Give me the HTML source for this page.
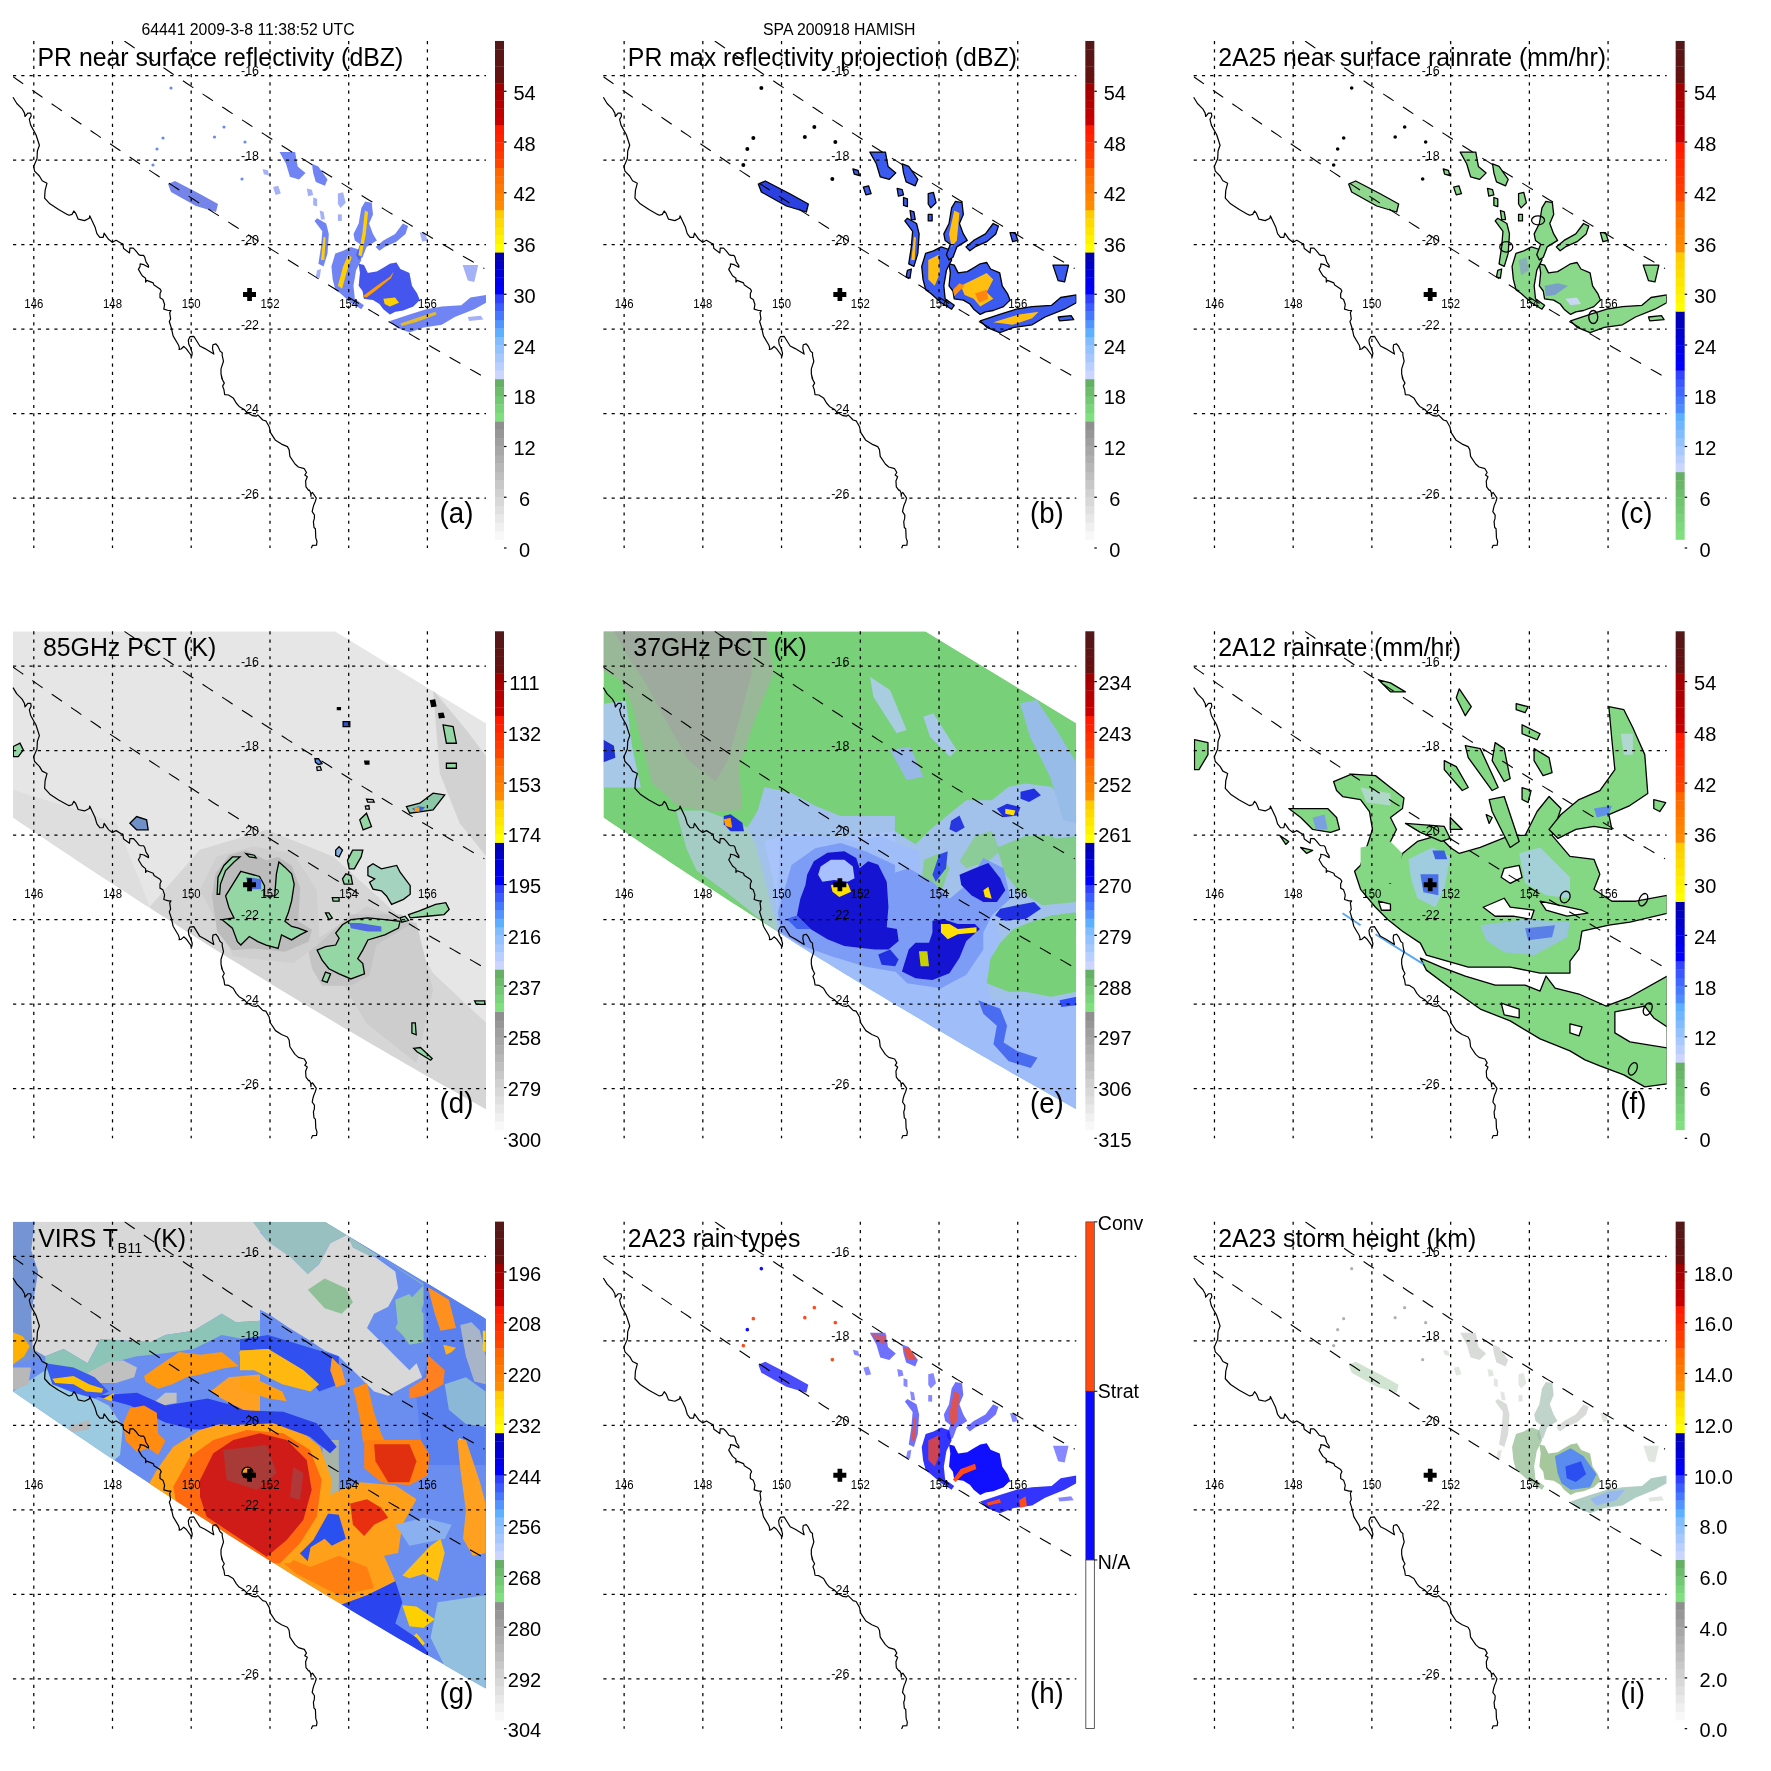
<!DOCTYPE html><html><head><meta charset="utf-8"><style>html,body{margin:0;padding:0;background:#fff;}svg{display:block;will-change:transform}</style></head><body>
<svg width="1771" height="1771" viewBox="0 0 1771 1771" font-family="Liberation Sans, sans-serif">
<defs><clipPath id="mclip"><rect x="13" y="41" width="473" height="507"/></clipPath></defs>
<rect width="1771" height="1771" fill="#fff"/>
<text x="141.5" y="35" font-size="15.8">64441 2009-3-8 11:38:52 UTC</text>
<text x="763" y="35" font-size="15.8">SPA 200918 HAMISH</text>
<g transform="translate(0.00,0.00)">
<g clip-path="url(#mclip)"><path d="M358.7,263.8 L363.9,265.1 L367.8,272.9 L376.9,271.6 L383.4,267.7 L389.9,263.8 L396.4,262.5 L400.3,269.0 L409.4,272.9 L411.9,285.8 L417.1,293.6 L419.7,300.1 L413.2,306.6 L402.9,310.5 L395.1,311.8 L389.9,314.4 L383.4,309.2 L379.5,304.0 L373.0,300.1 L363.9,298.8 L362.6,291.0 L358.7,285.8 L360.0,272.9Z" fill="#3a54f0" fill-opacity="0.72"/><path d="M331.4,266.4 L335.3,253.4 L343.1,250.8 L350.9,246.9 L358.7,249.5 L361.3,259.9 L356.1,270.3 L353.5,285.8 L354.8,298.8 L363.9,305.3 L361.3,309.2 L350.9,302.7 L340.5,293.6 L335.3,289.7 L332.7,279.4Z" fill="#3a54f0" fill-opacity="0.72"/><path d="M353.5,233.9 L358.7,223.5 L361.3,207.9 L365.2,201.4 L371.7,202.7 L373.0,214.4 L369.1,223.5 L373.0,233.9 L376.9,240.4 L366.5,246.9 L362.6,257.3 L358.7,259.9 L356.1,254.7 L360.0,244.3 L354.8,240.4Z" fill="#3a54f0" fill-opacity="0.72"/><path d="M375.6,246.9 L383.4,240.4 L395.1,233.9 L402.9,223.5 L408.1,226.1 L405.5,233.9 L396.4,241.7 L384.7,246.9 L379.5,250.8Z" fill="#3a54f0" fill-opacity="0.72"/><path d="M318.4,263.8 L321.0,246.9 L322.3,231.3 L314.5,220.9 L317.1,218.3 L326.2,223.5 L328.8,233.9 L327.5,253.4 L323.6,266.4Z" fill="#3a54f0" fill-opacity="0.72"/><path d="M389.9,320.9 L409.4,314.4 L426.2,309.2 L441.8,306.6 L461.3,305.3 L470.4,297.5 L486.0,294.9 L486.0,302.7 L474.3,309.2 L454.8,317.0 L441.8,324.8 L423.6,327.4 L409.4,332.6 L396.4,327.4Z" fill="#3a54f0" fill-opacity="0.72"/><path d="M279.5,152.1 L295.1,152.1 L297.7,166.4 L305.5,172.9 L299.0,179.4 L289.9,176.8 L286.0,163.8Z" fill="#3a54f0" fill-opacity="0.72"/><path d="M311.9,163.8 L318.4,166.4 L327.5,179.4 L324.9,185.8 L315.8,181.9 L313.2,172.9Z" fill="#3a54f0" fill-opacity="0.72"/><path d="M337.9,193.6 L343.1,192.3 L345.7,202.7 L340.5,207.9 L337.9,204.0Z" fill="#4a64f0" fill-opacity="0.5"/><path d="M273.0,187.1 L278.2,185.8 L280.8,193.6 L275.6,194.9Z" fill="#4a64f0" fill-opacity="0.5"/><path d="M419.7,232.6 L424.9,232.6 L427.5,240.4 L422.3,241.7Z" fill="#4a64f0" fill-opacity="0.5"/><path d="M306.8,188.4 L311.9,189.7 L313.2,194.9 L308.1,196.2Z" fill="#4a64f0" fill-opacity="0.5"/><path d="M313.2,197.5 L317.1,198.8 L317.1,206.6 L313.2,205.3Z" fill="#4a64f0" fill-opacity="0.5"/><path d="M337.9,214.4 L341.8,214.4 L341.8,220.9 L337.9,220.9Z" fill="#4a64f0" fill-opacity="0.5"/><path d="M319.7,210.5 L323.6,211.8 L324.9,219.6 L321.0,219.6Z" fill="#4a64f0" fill-opacity="0.5"/><path d="M462.6,265.1 L478.2,265.1 L474.3,281.9 L467.8,280.6Z" fill="#4a64f0" fill-opacity="0.5"/><path d="M317.1,270.3 L321.0,269.0 L319.7,278.1 L315.8,276.8Z" fill="#4a64f0" fill-opacity="0.5"/><path d="M467.8,317.0 L480.8,315.7 L483.4,319.6 L469.1,320.9Z" fill="#4a64f0" fill-opacity="0.5"/><path d="M262.6,169.0 L267.8,170.3 L269.1,175.5 L263.9,174.2Z" fill="#4a64f0" fill-opacity="0.5"/><path d="M168.0,184.0 L175.0,181.0 L200.0,194.0 L218.0,204.0 L216.0,212.0 L196.0,206.0 L171.0,192.0Z" fill="#3a50e0" fill-opacity="0.7"/><path d="M358.7,263.8 L363.9,265.1 L367.8,272.9 L376.9,271.6 L383.4,267.7 L389.9,263.8 L396.4,262.5 L400.3,269.0 L409.4,272.9 L411.9,285.8 L417.1,293.6 L419.7,300.1 L413.2,306.6 L402.9,310.5 L395.1,311.8 L389.9,314.4 L383.4,309.2 L379.5,304.0 L373.0,300.1 L363.9,298.8 L362.6,291.0 L358.7,285.8 L360.0,272.9Z" fill="#1a28e8" fill-opacity="0.5"/><path d="M337.9,285.8 L343.1,266.4 L348.3,254.7 L351.6,257.3 L346.4,272.9 L342.1,288.7Z" fill="#ffd000"/><path d="M358.4,255.3 L362.3,233.9 L364.9,210.5 L368.1,212.1 L365.8,233.9 L361.6,256.2Z" fill="#ffd000"/><path d="M321.0,259.9 L323.6,236.5 L325.6,237.8 L324.3,259.9Z" fill="#ffd000"/><path d="M362.6,296.2 L376.9,285.8 L389.9,276.8 L393.8,271.6 L391.2,278.1 L376.9,289.7 L366.5,297.5Z" fill="#ff9a00"/><path d="M383.4,298.8 L395.1,297.5 L399.0,302.7 L389.9,306.6 L384.7,304.0Z" fill="#ffd000"/><path d="M400.3,323.5 L415.8,318.3 L435.3,311.8 L436.6,314.4 L415.8,322.2 L401.6,326.1Z" fill="#ffc800" fill-opacity="0.8"/><circle cx="163.0" cy="138.0" r="1.6" fill="#6a8af0"/><circle cx="157.0" cy="149.0" r="1.6" fill="#6a8af0"/><circle cx="153.0" cy="165.0" r="1.6" fill="#6a8af0"/><circle cx="214.5" cy="137.0" r="1.6" fill="#6a8af0"/><circle cx="242.0" cy="179.0" r="1.6" fill="#6a8af0"/><circle cx="245.0" cy="142.0" r="1.6" fill="#6a8af0"/><circle cx="171.0" cy="88.0" r="1.6" fill="#6a8af0"/><circle cx="224.0" cy="127.0" r="1.6" fill="#6a8af0"/></g>
<g stroke="#000" stroke-width="1.25" stroke-dasharray="3.2 5.07"><line x1="33.8" y1="41" x2="33.8" y2="548"/><line x1="112.5" y1="41" x2="112.5" y2="548"/><line x1="191.2" y1="41" x2="191.2" y2="548"/><line x1="270.0" y1="41" x2="270.0" y2="548"/><line x1="348.7" y1="41" x2="348.7" y2="548"/><line x1="427.4" y1="41" x2="427.4" y2="548"/><line x1="13" y1="75.7" x2="486" y2="75.7"/><line x1="13" y1="160.2" x2="486" y2="160.2"/><line x1="13" y1="244.7" x2="486" y2="244.7"/><line x1="13" y1="329.2" x2="486" y2="329.2"/><line x1="13" y1="413.7" x2="486" y2="413.7"/><line x1="13" y1="498.2" x2="486" y2="498.2"/></g><g clip-path="url(#mclip)" fill="none" stroke="#000" stroke-width="1.1" stroke-dasharray="12.5 11.1"><path d="M124.4,41.0 L128.4,43.8 L132.4,46.5 L136.4,49.3 L140.4,52.0 L144.4,54.8 L148.4,57.5 L152.4,60.2 L156.4,62.9 L160.4,65.6 L164.4,68.3 L168.4,71.0 L172.4,73.7 L176.4,76.4 L180.4,79.1 L184.4,81.8 L188.4,84.5 L192.4,87.1 L196.4,89.8 L200.4,92.5 L204.4,95.1 L208.4,97.8 L212.4,100.4 L216.4,103.1 L220.4,105.7 L224.4,108.3 L228.4,111.0 L232.4,113.6 L236.4,116.2 L240.4,118.8 L244.4,121.4 L248.4,124.0 L252.4,126.6 L256.4,129.2 L260.4,131.8 L264.4,134.4 L268.4,137.0 L272.4,139.5 L276.4,142.1 L280.4,144.6 L284.4,147.2 L288.4,149.8 L292.4,152.3 L296.4,154.8 L300.4,157.4 L304.4,159.9 L308.4,162.4 L312.4,164.9 L316.4,167.5 L320.4,170.0 L324.4,172.5 L328.4,175.0 L332.4,177.5 L336.4,180.0 L340.4,182.4 L344.4,184.9 L348.4,187.4 L352.4,189.9 L356.4,192.3 L360.4,194.8 L364.4,197.3 L368.4,199.7 L372.4,202.1 L376.4,204.6 L380.4,207.0 L384.4,209.4 L388.4,211.9 L392.4,214.3 L396.4,216.7 L400.4,219.1 L404.4,221.5 L408.4,223.9 L412.4,226.3 L416.4,228.7 L420.4,231.1 L424.4,233.5 L428.4,235.8 L432.4,238.2 L436.4,240.6 L440.4,242.9 L444.4,245.3 L448.4,247.6 L452.4,250.0 L456.4,252.3 L460.4,254.6 L464.4,257.0 L468.4,259.3 L472.4,261.6 L476.4,263.9 L480.4,266.2 L484.4,268.5"/><path d="M13.0,76.7 L17.0,79.5 L21.0,82.3 L25.0,85.1 L29.0,87.9 L33.0,90.7 L37.0,93.5 L41.0,96.3 L45.0,99.1 L49.0,101.9 L53.0,104.7 L57.0,107.4 L61.0,110.2 L65.0,113.0 L69.0,115.7 L73.0,118.5 L77.0,121.2 L81.0,124.0 L85.0,126.7 L89.0,129.5 L93.0,132.2 L97.0,134.9 L101.0,137.7 L105.0,140.4 L109.0,143.1 L113.0,145.8 L117.0,148.5 L121.0,151.2 L125.0,153.9 L129.0,156.6 L133.0,159.3 L137.0,162.0 L141.0,164.6 L145.0,167.3 L149.0,170.0 L153.0,172.6 L157.0,175.3 L161.0,178.0 L165.0,180.6 L169.0,183.3 L173.0,185.9 L177.0,188.5 L181.0,191.2 L185.0,193.8 L189.0,196.4 L193.0,199.0 L197.0,201.6 L201.0,204.3 L205.0,206.9 L209.0,209.5 L213.0,212.1 L217.0,214.6 L221.0,217.2 L225.0,219.8 L229.0,222.4 L233.0,225.0 L237.0,227.5 L241.0,230.1 L245.0,232.6 L249.0,235.2 L253.0,237.7 L257.0,240.3 L261.0,242.8 L265.0,245.4 L269.0,247.9 L273.0,250.4 L277.0,252.9 L281.0,255.5 L285.0,258.0 L289.0,260.5 L293.0,263.0 L297.0,265.5 L301.0,268.0 L305.0,270.5 L309.0,272.9 L313.0,275.4 L317.0,277.9 L321.0,280.4 L325.0,282.8 L329.0,285.3 L333.0,287.8 L337.0,290.2 L341.0,292.6 L345.0,295.1 L349.0,297.5 L353.0,300.0 L357.0,302.4 L361.0,304.8 L365.0,307.2 L369.0,309.7 L373.0,312.1 L377.0,314.5 L381.0,316.9 L385.0,319.3 L389.0,321.7 L393.0,324.0 L397.0,326.4 L401.0,328.8 L405.0,331.2 L409.0,333.5 L413.0,335.9 L417.0,338.3 L421.0,340.6 L425.0,343.0 L429.0,345.3 L433.0,347.7 L437.0,350.0 L441.0,352.3 L445.0,354.7 L449.0,357.0 L453.0,359.3 L457.0,361.6 L461.0,363.9 L465.0,366.2 L469.0,368.5 L473.0,370.8 L477.0,373.1 L481.0,375.4 L485.0,377.7"/></g><path d="M13.0,97.3 L16.8,103.5 L22.1,108.8 L24.5,113.1 L25.0,116.5 L27.8,113.1 L30.7,113.1 L31.2,116.0 L29.3,119.4 L30.7,125.1 L36.0,134.7 L39.4,145.3 L37.4,151.0 L37.0,158.7 L33.6,166.4 L34.6,171.2 L39.4,176.0 L42.2,180.8 L47.0,183.2 L45.1,190.4 L44.6,198.1 L49.9,203.8 L58.6,209.6 L67.2,214.4 L69.1,215.3 L72.0,214.4 L73.9,211.0 L75.8,213.4 L78.2,219.2 L84.5,220.6 L89.3,218.2 L89.7,215.8 L95.0,226.9 L96.9,233.6 L99.8,237.4 L103.2,237.4 L104.1,233.1 L108.5,239.3 L112.3,242.2 L116.1,240.3 L122.4,244.1 L122.7,243.6 L123.6,248.6 L129.5,252.9 L129.9,248.2 L133.3,248.2 L135.4,250.3 L137.1,252.4 L138.8,254.6 L140.5,255.4 L143.5,255.4 L144.7,257.1 L146.0,261.8 L148.5,265.6 L148.5,267.3 L143.9,264.7 L140.1,263.9 L140.1,266.4 L138.4,269.4 L142.2,275.7 L145.6,278.3 L145.6,282.1 L146.8,280.4 L153.2,282.9 L154.0,285.1 L160.0,288.9 L161.2,291.0 L160.0,293.5 L160.0,297.8 L162.9,299.5 L164.6,304.5 L163.8,309.2 L168.4,310.5 L171.0,310.5 L169.7,312.6 L170.6,318.9 L169.3,321.5 L171.4,328.2 L173.1,335.9 L178.6,345.2 L179.5,348.6 L179.0,349.4 L181.1,349.0 L183.7,346.5 L186.2,348.6 L190.5,354.5 L191.7,356.2 L192.2,353.2 L190.9,348.6 L188.8,344.3 L188.3,340.1 L190.0,336.7 L193.8,336.3 L199.8,346.0 L204.9,348.6 L213.8,354.1 L212.5,348.6 L212.9,344.8 L215.9,343.9 L218.0,346.5 L220.1,351.1 L222.2,352.8 L222.2,355.3 L223.5,361.3 L221.0,368.9 L221.0,374.0 L222.6,380.0 L221.3,375.1 L221.8,378.5 L224.3,383.1 L222.6,386.1 L223.9,389.5 L224.7,394.6 L228.5,395.0 L233.2,397.9 L236.2,403.0 L239.1,406.4 L244.2,409.4 L246.7,412.3 L252.7,415.7 L256.1,416.2 L257.8,414.9 L262.8,420.0 L265.8,420.8 L269.2,426.7 L270.5,432.7 L275.5,440.3 L281.5,444.1 L287.4,446.6 L289.1,449.6 L289.9,456.4 L295.0,464.0 L298.4,467.0 L304.3,468.7 L306.5,472.5 L304.8,475.0 L307.3,476.7 L305.6,481.0 L306.0,486.9 L308.6,490.3 L309.3,490.0 L310.7,492.7 L310.9,496.3 L311.1,493.6 L312.5,492.5 L316.3,498.1 L315.2,501.7 L313.8,504.9 L312.9,508.1 L312.2,511.7 L314.5,515.1 L314.3,518.9 L313.4,521.6 L314.0,527.5 L315.4,528.8 L315.8,537.9 L317.0,541.5 L316.5,545.1 L312.5,545.3 L311.3,548.3" fill="none" stroke="#000" stroke-width="1.2" stroke-linejoin="round"/><g font-size="12.5"><text x="250" y="75.2" text-anchor="middle" textLength="18" lengthAdjust="spacingAndGlyphs">-16</text><text x="250" y="159.7" text-anchor="middle" textLength="18" lengthAdjust="spacingAndGlyphs">-18</text><text x="250" y="244.2" text-anchor="middle" textLength="18" lengthAdjust="spacingAndGlyphs">-20</text><text x="250" y="328.7" text-anchor="middle" textLength="18" lengthAdjust="spacingAndGlyphs">-22</text><text x="250" y="413.2" text-anchor="middle" textLength="18" lengthAdjust="spacingAndGlyphs">-24</text><text x="250" y="497.7" text-anchor="middle" textLength="18" lengthAdjust="spacingAndGlyphs">-26</text><text x="33.8" y="308" text-anchor="middle" textLength="19" lengthAdjust="spacingAndGlyphs">146</text><text x="112.5" y="308" text-anchor="middle" textLength="19" lengthAdjust="spacingAndGlyphs">148</text><text x="191.2" y="308" text-anchor="middle" textLength="19" lengthAdjust="spacingAndGlyphs">150</text><text x="270.0" y="308" text-anchor="middle" textLength="19" lengthAdjust="spacingAndGlyphs">152</text><text x="348.7" y="308" text-anchor="middle" textLength="19" lengthAdjust="spacingAndGlyphs">154</text><text x="427.4" y="308" text-anchor="middle" textLength="19" lengthAdjust="spacingAndGlyphs">156</text></g>
<path d="M243,292 h13 v5 h-13z M247.2,288 h4.7 v13 h-4.7z" fill="#000"/>
<text x="37.5" y="66" font-size="26" textLength="365.7" lengthAdjust="spacingAndGlyphs">PR near surface reflectivity (dBZ)</text>
<text x="439.6" y="522.5" font-size="29" textLength="33.8" lengthAdjust="spacingAndGlyphs">(a)</text>
<rect x="495" y="531.05" width="9" height="8.75" fill="#f8f8f8"/>
<rect x="495" y="522.60" width="9" height="8.75" fill="#f0f0f0"/>
<rect x="495" y="514.15" width="9" height="8.75" fill="#e8e8e8"/>
<rect x="495" y="505.70" width="9" height="8.75" fill="#e0e0e0"/>
<rect x="495" y="497.25" width="9" height="8.75" fill="#d8d8d8"/>
<rect x="495" y="488.80" width="9" height="8.75" fill="#d0d0d0"/>
<rect x="495" y="480.35" width="9" height="8.75" fill="#c8c8c8"/>
<rect x="495" y="471.90" width="9" height="8.75" fill="#bfbfbf"/>
<rect x="495" y="463.45" width="9" height="8.75" fill="#b7b7b7"/>
<rect x="495" y="455.00" width="9" height="8.75" fill="#afafaf"/>
<rect x="495" y="446.55" width="9" height="8.75" fill="#a7a7a7"/>
<rect x="495" y="438.10" width="9" height="8.75" fill="#9f9f9f"/>
<rect x="495" y="429.65" width="9" height="8.75" fill="#979797"/>
<rect x="495" y="421.20" width="9" height="8.75" fill="#8f8f8f"/>
<rect x="495" y="412.75" width="9" height="8.75" fill="#80e080"/>
<rect x="495" y="404.30" width="9" height="8.75" fill="#7ad47a"/>
<rect x="495" y="395.85" width="9" height="8.75" fill="#73c873"/>
<rect x="495" y="387.40" width="9" height="8.75" fill="#6cbc6c"/>
<rect x="495" y="378.95" width="9" height="8.75" fill="#66b066"/>
<rect x="495" y="370.50" width="9" height="8.75" fill="#ccd5ff"/>
<rect x="495" y="362.05" width="9" height="8.75" fill="#b9cfff"/>
<rect x="495" y="353.60" width="9" height="8.75" fill="#a6c8ff"/>
<rect x="495" y="345.15" width="9" height="8.75" fill="#93c2ff"/>
<rect x="495" y="336.70" width="9" height="8.75" fill="#80bcff"/>
<rect x="495" y="328.25" width="9" height="8.75" fill="#5cb0ff"/>
<rect x="495" y="319.80" width="9" height="8.75" fill="#5194ff"/>
<rect x="495" y="311.35" width="9" height="8.75" fill="#4678ff"/>
<rect x="495" y="302.90" width="9" height="8.75" fill="#3b5cff"/>
<rect x="495" y="294.45" width="9" height="8.75" fill="#3040ff"/>
<rect x="495" y="286.00" width="9" height="8.75" fill="#0000ff"/>
<rect x="495" y="277.55" width="9" height="8.75" fill="#0000ec"/>
<rect x="495" y="269.10" width="9" height="8.75" fill="#0000d9"/>
<rect x="495" y="260.65" width="9" height="8.75" fill="#0000c6"/>
<rect x="495" y="252.20" width="9" height="8.75" fill="#0000b3"/>
<rect x="495" y="243.75" width="9" height="8.75" fill="#ffff00"/>
<rect x="495" y="235.30" width="9" height="8.75" fill="#fff200"/>
<rect x="495" y="226.85" width="9" height="8.75" fill="#ffe600"/>
<rect x="495" y="218.40" width="9" height="8.75" fill="#ffd900"/>
<rect x="495" y="209.95" width="9" height="8.75" fill="#ffcc00"/>
<rect x="495" y="201.50" width="9" height="8.75" fill="#ff8c00"/>
<rect x="495" y="193.05" width="9" height="8.75" fill="#ff8200"/>
<rect x="495" y="184.60" width="9" height="8.75" fill="#ff7900"/>
<rect x="495" y="176.15" width="9" height="8.75" fill="#ff7000"/>
<rect x="495" y="167.70" width="9" height="8.75" fill="#ff6600"/>
<rect x="495" y="159.25" width="9" height="8.75" fill="#ff4400"/>
<rect x="495" y="150.80" width="9" height="8.75" fill="#ff3a00"/>
<rect x="495" y="142.35" width="9" height="8.75" fill="#ff2f00"/>
<rect x="495" y="133.90" width="9" height="8.75" fill="#ff2400"/>
<rect x="495" y="125.45" width="9" height="8.75" fill="#ff1a00"/>
<rect x="495" y="117.00" width="9" height="8.75" fill="#c80000"/>
<rect x="495" y="108.55" width="9" height="8.75" fill="#be0000"/>
<rect x="495" y="100.10" width="9" height="8.75" fill="#b40000"/>
<rect x="495" y="91.65" width="9" height="8.75" fill="#aa0000"/>
<rect x="495" y="83.20" width="9" height="8.75" fill="#a00000"/>
<rect x="495" y="74.75" width="9" height="8.75" fill="#661010"/>
<rect x="495" y="66.30" width="9" height="8.75" fill="#621212"/>
<rect x="495" y="57.85" width="9" height="8.75" fill="#5e1414"/>
<rect x="495" y="49.40" width="9" height="8.75" fill="#591616"/>
<rect x="495" y="40.95" width="9" height="8.75" fill="#551818"/>
<rect x="504" y="547.40" width="2.5" height="1.2" fill="#000"/>
<text x="524.5" y="556.60" text-anchor="middle" font-size="20">0</text>
<rect x="504" y="496.65" width="2.5" height="1.2" fill="#000"/>
<text x="524.5" y="505.85" text-anchor="middle" font-size="20">6</text>
<rect x="504" y="445.90" width="2.5" height="1.2" fill="#000"/>
<text x="524.5" y="455.10" text-anchor="middle" font-size="20">12</text>
<rect x="504" y="395.16" width="2.5" height="1.2" fill="#000"/>
<text x="524.5" y="404.36" text-anchor="middle" font-size="20">18</text>
<rect x="504" y="344.41" width="2.5" height="1.2" fill="#000"/>
<text x="524.5" y="353.61" text-anchor="middle" font-size="20">24</text>
<rect x="504" y="293.66" width="2.5" height="1.2" fill="#000"/>
<text x="524.5" y="302.86" text-anchor="middle" font-size="20">30</text>
<rect x="504" y="242.91" width="2.5" height="1.2" fill="#000"/>
<text x="524.5" y="252.11" text-anchor="middle" font-size="20">36</text>
<rect x="504" y="192.16" width="2.5" height="1.2" fill="#000"/>
<text x="524.5" y="201.36" text-anchor="middle" font-size="20">42</text>
<rect x="504" y="141.42" width="2.5" height="1.2" fill="#000"/>
<text x="524.5" y="150.62" text-anchor="middle" font-size="20">48</text>
<rect x="504" y="90.67" width="2.5" height="1.2" fill="#000"/>
<text x="524.5" y="99.87" text-anchor="middle" font-size="20">54</text>
</g>
<g transform="translate(590.33,0.00)">
<g clip-path="url(#mclip)"><path d="M358.7,263.8 L363.9,265.1 L367.8,272.9 L376.9,271.6 L383.4,267.7 L389.9,263.8 L396.4,262.5 L400.3,269.0 L409.4,272.9 L411.9,285.8 L417.1,293.6 L419.7,300.1 L413.2,306.6 L402.9,310.5 L395.1,311.8 L389.9,314.4 L383.4,309.2 L379.5,304.0 L373.0,300.1 L363.9,298.8 L362.6,291.0 L358.7,285.8 L360.0,272.9Z" fill="#3a5af0" stroke="#000" stroke-width="1.3" stroke-linejoin="round"/><path d="M331.4,266.4 L335.3,253.4 L343.1,250.8 L350.9,246.9 L358.7,249.5 L361.3,259.9 L356.1,270.3 L353.5,285.8 L354.8,298.8 L363.9,305.3 L361.3,309.2 L350.9,302.7 L340.5,293.6 L335.3,289.7 L332.7,279.4Z" fill="#3a5af0" stroke="#000" stroke-width="1.3" stroke-linejoin="round"/><path d="M353.5,233.9 L358.7,223.5 L361.3,207.9 L365.2,201.4 L371.7,202.7 L373.0,214.4 L369.1,223.5 L373.0,233.9 L376.9,240.4 L366.5,246.9 L362.6,257.3 L358.7,259.9 L356.1,254.7 L360.0,244.3 L354.8,240.4Z" fill="#3a5af0" stroke="#000" stroke-width="1.3" stroke-linejoin="round"/><path d="M375.6,246.9 L383.4,240.4 L395.1,233.9 L402.9,223.5 L408.1,226.1 L405.5,233.9 L396.4,241.7 L384.7,246.9 L379.5,250.8Z" fill="#3a5af0" stroke="#000" stroke-width="1.3" stroke-linejoin="round"/><path d="M318.4,263.8 L321.0,246.9 L322.3,231.3 L314.5,220.9 L317.1,218.3 L326.2,223.5 L328.8,233.9 L327.5,253.4 L323.6,266.4Z" fill="#3a5af0" stroke="#000" stroke-width="1.3" stroke-linejoin="round"/><path d="M389.9,320.9 L409.4,314.4 L426.2,309.2 L441.8,306.6 L461.3,305.3 L470.4,297.5 L486.0,294.9 L486.0,302.7 L474.3,309.2 L454.8,317.0 L441.8,324.8 L423.6,327.4 L409.4,332.6 L396.4,327.4Z" fill="#3a5af0" stroke="#000" stroke-width="1.3" stroke-linejoin="round"/><path d="M279.5,152.1 L295.1,152.1 L297.7,166.4 L305.5,172.9 L299.0,179.4 L289.9,176.8 L286.0,163.8Z" fill="#3a5af0" stroke="#000" stroke-width="1.3" stroke-linejoin="round"/><path d="M311.9,163.8 L318.4,166.4 L327.5,179.4 L324.9,185.8 L315.8,181.9 L313.2,172.9Z" fill="#3a5af0" stroke="#000" stroke-width="1.3" stroke-linejoin="round"/><path d="M337.9,193.6 L343.1,192.3 L345.7,202.7 L340.5,207.9 L337.9,204.0Z" fill="#3a5af0" stroke="#000" stroke-width="1.3" stroke-linejoin="round"/><path d="M273.0,187.1 L278.2,185.8 L280.8,193.6 L275.6,194.9Z" fill="#3a5af0" stroke="#000" stroke-width="1.3" stroke-linejoin="round"/><path d="M419.7,232.6 L424.9,232.6 L427.5,240.4 L422.3,241.7Z" fill="#3a5af0" stroke="#000" stroke-width="1.3" stroke-linejoin="round"/><path d="M306.8,188.4 L311.9,189.7 L313.2,194.9 L308.1,196.2Z" fill="#3a5af0" stroke="#000" stroke-width="1.3" stroke-linejoin="round"/><path d="M313.2,197.5 L317.1,198.8 L317.1,206.6 L313.2,205.3Z" fill="#3a5af0" stroke="#000" stroke-width="1.3" stroke-linejoin="round"/><path d="M337.9,214.4 L341.8,214.4 L341.8,220.9 L337.9,220.9Z" fill="#3a5af0" stroke="#000" stroke-width="1.3" stroke-linejoin="round"/><path d="M319.7,210.5 L323.6,211.8 L324.9,219.6 L321.0,219.6Z" fill="#3a5af0" stroke="#000" stroke-width="1.3" stroke-linejoin="round"/><path d="M462.6,265.1 L478.2,265.1 L474.3,281.9 L467.8,280.6Z" fill="#3a5af0" stroke="#000" stroke-width="1.3" stroke-linejoin="round"/><path d="M317.1,270.3 L321.0,269.0 L319.7,278.1 L315.8,276.8Z" fill="#3a5af0" stroke="#000" stroke-width="1.3" stroke-linejoin="round"/><path d="M467.8,317.0 L480.8,315.7 L483.4,319.6 L469.1,320.9Z" fill="#3a5af0" stroke="#000" stroke-width="1.3" stroke-linejoin="round"/><path d="M262.6,169.0 L267.8,170.3 L269.1,175.5 L263.9,174.2Z" fill="#3a5af0" stroke="#000" stroke-width="1.3" stroke-linejoin="round"/><path d="M168.0,184.0 L175.0,181.0 L200.0,194.0 L218.0,204.0 L216.0,212.0 L196.0,206.0 L171.0,192.0Z" fill="#2a40e0" stroke="#000" stroke-width="1.3" stroke-linejoin="round"/><path d="M370.4,285.8 L383.4,279.4 L396.4,272.9 L402.9,279.4 L396.4,292.3 L402.9,298.8 L389.9,306.6 L383.4,298.8 L374.3,294.9Z" fill="#ffbe10"/><path d="M337.9,259.9 L348.3,254.7 L349.6,272.9 L344.4,285.8 L337.9,279.4Z" fill="#ffbe10"/><path d="M358.7,233.9 L363.9,210.5 L369.1,213.1 L366.5,240.4 L361.3,246.9Z" fill="#ffbe10"/><path d="M402.9,322.2 L428.8,314.4 L448.3,311.8 L441.8,318.3 L422.3,324.8Z" fill="#ffbe10"/><path d="M321.0,259.9 L323.6,236.5 L325.6,237.8 L324.3,259.9Z" fill="#ffbe10"/><path d="M384.7,293.6 L396.4,289.7 L397.7,298.8 L388.6,302.7Z" fill="#ff8410"/><path d="M363.9,296.2 L374.3,285.8 L369.1,283.2 L362.6,289.7Z" fill="#ff9010"/><circle cx="163.0" cy="138.0" r="2.0" fill="#000"/><circle cx="157.0" cy="149.0" r="2.0" fill="#000"/><circle cx="153.0" cy="165.0" r="2.0" fill="#000"/><circle cx="214.5" cy="137.0" r="2.0" fill="#000"/><circle cx="242.0" cy="179.0" r="2.0" fill="#000"/><circle cx="245.0" cy="142.0" r="2.0" fill="#000"/><circle cx="171.0" cy="88.0" r="2.0" fill="#000"/><circle cx="224.0" cy="127.0" r="2.0" fill="#000"/></g>
<g stroke="#000" stroke-width="1.25" stroke-dasharray="3.2 5.07"><line x1="33.8" y1="41" x2="33.8" y2="548"/><line x1="112.5" y1="41" x2="112.5" y2="548"/><line x1="191.2" y1="41" x2="191.2" y2="548"/><line x1="270.0" y1="41" x2="270.0" y2="548"/><line x1="348.7" y1="41" x2="348.7" y2="548"/><line x1="427.4" y1="41" x2="427.4" y2="548"/><line x1="13" y1="75.7" x2="486" y2="75.7"/><line x1="13" y1="160.2" x2="486" y2="160.2"/><line x1="13" y1="244.7" x2="486" y2="244.7"/><line x1="13" y1="329.2" x2="486" y2="329.2"/><line x1="13" y1="413.7" x2="486" y2="413.7"/><line x1="13" y1="498.2" x2="486" y2="498.2"/></g><g clip-path="url(#mclip)" fill="none" stroke="#000" stroke-width="1.1" stroke-dasharray="12.5 11.1"><path d="M124.4,41.0 L128.4,43.8 L132.4,46.5 L136.4,49.3 L140.4,52.0 L144.4,54.8 L148.4,57.5 L152.4,60.2 L156.4,62.9 L160.4,65.6 L164.4,68.3 L168.4,71.0 L172.4,73.7 L176.4,76.4 L180.4,79.1 L184.4,81.8 L188.4,84.5 L192.4,87.1 L196.4,89.8 L200.4,92.5 L204.4,95.1 L208.4,97.8 L212.4,100.4 L216.4,103.1 L220.4,105.7 L224.4,108.3 L228.4,111.0 L232.4,113.6 L236.4,116.2 L240.4,118.8 L244.4,121.4 L248.4,124.0 L252.4,126.6 L256.4,129.2 L260.4,131.8 L264.4,134.4 L268.4,137.0 L272.4,139.5 L276.4,142.1 L280.4,144.6 L284.4,147.2 L288.4,149.8 L292.4,152.3 L296.4,154.8 L300.4,157.4 L304.4,159.9 L308.4,162.4 L312.4,164.9 L316.4,167.5 L320.4,170.0 L324.4,172.5 L328.4,175.0 L332.4,177.5 L336.4,180.0 L340.4,182.4 L344.4,184.9 L348.4,187.4 L352.4,189.9 L356.4,192.3 L360.4,194.8 L364.4,197.3 L368.4,199.7 L372.4,202.1 L376.4,204.6 L380.4,207.0 L384.4,209.4 L388.4,211.9 L392.4,214.3 L396.4,216.7 L400.4,219.1 L404.4,221.5 L408.4,223.9 L412.4,226.3 L416.4,228.7 L420.4,231.1 L424.4,233.5 L428.4,235.8 L432.4,238.2 L436.4,240.6 L440.4,242.9 L444.4,245.3 L448.4,247.6 L452.4,250.0 L456.4,252.3 L460.4,254.6 L464.4,257.0 L468.4,259.3 L472.4,261.6 L476.4,263.9 L480.4,266.2 L484.4,268.5"/><path d="M13.0,76.7 L17.0,79.5 L21.0,82.3 L25.0,85.1 L29.0,87.9 L33.0,90.7 L37.0,93.5 L41.0,96.3 L45.0,99.1 L49.0,101.9 L53.0,104.7 L57.0,107.4 L61.0,110.2 L65.0,113.0 L69.0,115.7 L73.0,118.5 L77.0,121.2 L81.0,124.0 L85.0,126.7 L89.0,129.5 L93.0,132.2 L97.0,134.9 L101.0,137.7 L105.0,140.4 L109.0,143.1 L113.0,145.8 L117.0,148.5 L121.0,151.2 L125.0,153.9 L129.0,156.6 L133.0,159.3 L137.0,162.0 L141.0,164.6 L145.0,167.3 L149.0,170.0 L153.0,172.6 L157.0,175.3 L161.0,178.0 L165.0,180.6 L169.0,183.3 L173.0,185.9 L177.0,188.5 L181.0,191.2 L185.0,193.8 L189.0,196.4 L193.0,199.0 L197.0,201.6 L201.0,204.3 L205.0,206.9 L209.0,209.5 L213.0,212.1 L217.0,214.6 L221.0,217.2 L225.0,219.8 L229.0,222.4 L233.0,225.0 L237.0,227.5 L241.0,230.1 L245.0,232.6 L249.0,235.2 L253.0,237.7 L257.0,240.3 L261.0,242.8 L265.0,245.4 L269.0,247.9 L273.0,250.4 L277.0,252.9 L281.0,255.5 L285.0,258.0 L289.0,260.5 L293.0,263.0 L297.0,265.5 L301.0,268.0 L305.0,270.5 L309.0,272.9 L313.0,275.4 L317.0,277.9 L321.0,280.4 L325.0,282.8 L329.0,285.3 L333.0,287.8 L337.0,290.2 L341.0,292.6 L345.0,295.1 L349.0,297.5 L353.0,300.0 L357.0,302.4 L361.0,304.8 L365.0,307.2 L369.0,309.7 L373.0,312.1 L377.0,314.5 L381.0,316.9 L385.0,319.3 L389.0,321.7 L393.0,324.0 L397.0,326.4 L401.0,328.8 L405.0,331.2 L409.0,333.5 L413.0,335.9 L417.0,338.3 L421.0,340.6 L425.0,343.0 L429.0,345.3 L433.0,347.7 L437.0,350.0 L441.0,352.3 L445.0,354.7 L449.0,357.0 L453.0,359.3 L457.0,361.6 L461.0,363.9 L465.0,366.2 L469.0,368.5 L473.0,370.8 L477.0,373.1 L481.0,375.4 L485.0,377.7"/></g><path d="M13.0,97.3 L16.8,103.5 L22.1,108.8 L24.5,113.1 L25.0,116.5 L27.8,113.1 L30.7,113.1 L31.2,116.0 L29.3,119.4 L30.7,125.1 L36.0,134.7 L39.4,145.3 L37.4,151.0 L37.0,158.7 L33.6,166.4 L34.6,171.2 L39.4,176.0 L42.2,180.8 L47.0,183.2 L45.1,190.4 L44.6,198.1 L49.9,203.8 L58.6,209.6 L67.2,214.4 L69.1,215.3 L72.0,214.4 L73.9,211.0 L75.8,213.4 L78.2,219.2 L84.5,220.6 L89.3,218.2 L89.7,215.8 L95.0,226.9 L96.9,233.6 L99.8,237.4 L103.2,237.4 L104.1,233.1 L108.5,239.3 L112.3,242.2 L116.1,240.3 L122.4,244.1 L122.7,243.6 L123.6,248.6 L129.5,252.9 L129.9,248.2 L133.3,248.2 L135.4,250.3 L137.1,252.4 L138.8,254.6 L140.5,255.4 L143.5,255.4 L144.7,257.1 L146.0,261.8 L148.5,265.6 L148.5,267.3 L143.9,264.7 L140.1,263.9 L140.1,266.4 L138.4,269.4 L142.2,275.7 L145.6,278.3 L145.6,282.1 L146.8,280.4 L153.2,282.9 L154.0,285.1 L160.0,288.9 L161.2,291.0 L160.0,293.5 L160.0,297.8 L162.9,299.5 L164.6,304.5 L163.8,309.2 L168.4,310.5 L171.0,310.5 L169.7,312.6 L170.6,318.9 L169.3,321.5 L171.4,328.2 L173.1,335.9 L178.6,345.2 L179.5,348.6 L179.0,349.4 L181.1,349.0 L183.7,346.5 L186.2,348.6 L190.5,354.5 L191.7,356.2 L192.2,353.2 L190.9,348.6 L188.8,344.3 L188.3,340.1 L190.0,336.7 L193.8,336.3 L199.8,346.0 L204.9,348.6 L213.8,354.1 L212.5,348.6 L212.9,344.8 L215.9,343.9 L218.0,346.5 L220.1,351.1 L222.2,352.8 L222.2,355.3 L223.5,361.3 L221.0,368.9 L221.0,374.0 L222.6,380.0 L221.3,375.1 L221.8,378.5 L224.3,383.1 L222.6,386.1 L223.9,389.5 L224.7,394.6 L228.5,395.0 L233.2,397.9 L236.2,403.0 L239.1,406.4 L244.2,409.4 L246.7,412.3 L252.7,415.7 L256.1,416.2 L257.8,414.9 L262.8,420.0 L265.8,420.8 L269.2,426.7 L270.5,432.7 L275.5,440.3 L281.5,444.1 L287.4,446.6 L289.1,449.6 L289.9,456.4 L295.0,464.0 L298.4,467.0 L304.3,468.7 L306.5,472.5 L304.8,475.0 L307.3,476.7 L305.6,481.0 L306.0,486.9 L308.6,490.3 L309.3,490.0 L310.7,492.7 L310.9,496.3 L311.1,493.6 L312.5,492.5 L316.3,498.1 L315.2,501.7 L313.8,504.9 L312.9,508.1 L312.2,511.7 L314.5,515.1 L314.3,518.9 L313.4,521.6 L314.0,527.5 L315.4,528.8 L315.8,537.9 L317.0,541.5 L316.5,545.1 L312.5,545.3 L311.3,548.3" fill="none" stroke="#000" stroke-width="1.2" stroke-linejoin="round"/><g font-size="12.5"><text x="250" y="75.2" text-anchor="middle" textLength="18" lengthAdjust="spacingAndGlyphs">-16</text><text x="250" y="159.7" text-anchor="middle" textLength="18" lengthAdjust="spacingAndGlyphs">-18</text><text x="250" y="244.2" text-anchor="middle" textLength="18" lengthAdjust="spacingAndGlyphs">-20</text><text x="250" y="328.7" text-anchor="middle" textLength="18" lengthAdjust="spacingAndGlyphs">-22</text><text x="250" y="413.2" text-anchor="middle" textLength="18" lengthAdjust="spacingAndGlyphs">-24</text><text x="250" y="497.7" text-anchor="middle" textLength="18" lengthAdjust="spacingAndGlyphs">-26</text><text x="33.8" y="308" text-anchor="middle" textLength="19" lengthAdjust="spacingAndGlyphs">146</text><text x="112.5" y="308" text-anchor="middle" textLength="19" lengthAdjust="spacingAndGlyphs">148</text><text x="191.2" y="308" text-anchor="middle" textLength="19" lengthAdjust="spacingAndGlyphs">150</text><text x="270.0" y="308" text-anchor="middle" textLength="19" lengthAdjust="spacingAndGlyphs">152</text><text x="348.7" y="308" text-anchor="middle" textLength="19" lengthAdjust="spacingAndGlyphs">154</text><text x="427.4" y="308" text-anchor="middle" textLength="19" lengthAdjust="spacingAndGlyphs">156</text></g>
<path d="M243,292 h13 v5 h-13z M247.2,288 h4.7 v13 h-4.7z" fill="#000"/>
<text x="37.5" y="66" font-size="26" textLength="389.1" lengthAdjust="spacingAndGlyphs">PR max reflectivity projection (dBZ)</text>
<text x="439.6" y="522.5" font-size="29" textLength="33.8" lengthAdjust="spacingAndGlyphs">(b)</text>
<rect x="495" y="531.05" width="9" height="8.75" fill="#f8f8f8"/>
<rect x="495" y="522.60" width="9" height="8.75" fill="#f0f0f0"/>
<rect x="495" y="514.15" width="9" height="8.75" fill="#e8e8e8"/>
<rect x="495" y="505.70" width="9" height="8.75" fill="#e0e0e0"/>
<rect x="495" y="497.25" width="9" height="8.75" fill="#d8d8d8"/>
<rect x="495" y="488.80" width="9" height="8.75" fill="#d0d0d0"/>
<rect x="495" y="480.35" width="9" height="8.75" fill="#c8c8c8"/>
<rect x="495" y="471.90" width="9" height="8.75" fill="#bfbfbf"/>
<rect x="495" y="463.45" width="9" height="8.75" fill="#b7b7b7"/>
<rect x="495" y="455.00" width="9" height="8.75" fill="#afafaf"/>
<rect x="495" y="446.55" width="9" height="8.75" fill="#a7a7a7"/>
<rect x="495" y="438.10" width="9" height="8.75" fill="#9f9f9f"/>
<rect x="495" y="429.65" width="9" height="8.75" fill="#979797"/>
<rect x="495" y="421.20" width="9" height="8.75" fill="#8f8f8f"/>
<rect x="495" y="412.75" width="9" height="8.75" fill="#80e080"/>
<rect x="495" y="404.30" width="9" height="8.75" fill="#7ad47a"/>
<rect x="495" y="395.85" width="9" height="8.75" fill="#73c873"/>
<rect x="495" y="387.40" width="9" height="8.75" fill="#6cbc6c"/>
<rect x="495" y="378.95" width="9" height="8.75" fill="#66b066"/>
<rect x="495" y="370.50" width="9" height="8.75" fill="#ccd5ff"/>
<rect x="495" y="362.05" width="9" height="8.75" fill="#b9cfff"/>
<rect x="495" y="353.60" width="9" height="8.75" fill="#a6c8ff"/>
<rect x="495" y="345.15" width="9" height="8.75" fill="#93c2ff"/>
<rect x="495" y="336.70" width="9" height="8.75" fill="#80bcff"/>
<rect x="495" y="328.25" width="9" height="8.75" fill="#5cb0ff"/>
<rect x="495" y="319.80" width="9" height="8.75" fill="#5194ff"/>
<rect x="495" y="311.35" width="9" height="8.75" fill="#4678ff"/>
<rect x="495" y="302.90" width="9" height="8.75" fill="#3b5cff"/>
<rect x="495" y="294.45" width="9" height="8.75" fill="#3040ff"/>
<rect x="495" y="286.00" width="9" height="8.75" fill="#0000ff"/>
<rect x="495" y="277.55" width="9" height="8.75" fill="#0000ec"/>
<rect x="495" y="269.10" width="9" height="8.75" fill="#0000d9"/>
<rect x="495" y="260.65" width="9" height="8.75" fill="#0000c6"/>
<rect x="495" y="252.20" width="9" height="8.75" fill="#0000b3"/>
<rect x="495" y="243.75" width="9" height="8.75" fill="#ffff00"/>
<rect x="495" y="235.30" width="9" height="8.75" fill="#fff200"/>
<rect x="495" y="226.85" width="9" height="8.75" fill="#ffe600"/>
<rect x="495" y="218.40" width="9" height="8.75" fill="#ffd900"/>
<rect x="495" y="209.95" width="9" height="8.75" fill="#ffcc00"/>
<rect x="495" y="201.50" width="9" height="8.75" fill="#ff8c00"/>
<rect x="495" y="193.05" width="9" height="8.75" fill="#ff8200"/>
<rect x="495" y="184.60" width="9" height="8.75" fill="#ff7900"/>
<rect x="495" y="176.15" width="9" height="8.75" fill="#ff7000"/>
<rect x="495" y="167.70" width="9" height="8.75" fill="#ff6600"/>
<rect x="495" y="159.25" width="9" height="8.75" fill="#ff4400"/>
<rect x="495" y="150.80" width="9" height="8.75" fill="#ff3a00"/>
<rect x="495" y="142.35" width="9" height="8.75" fill="#ff2f00"/>
<rect x="495" y="133.90" width="9" height="8.75" fill="#ff2400"/>
<rect x="495" y="125.45" width="9" height="8.75" fill="#ff1a00"/>
<rect x="495" y="117.00" width="9" height="8.75" fill="#c80000"/>
<rect x="495" y="108.55" width="9" height="8.75" fill="#be0000"/>
<rect x="495" y="100.10" width="9" height="8.75" fill="#b40000"/>
<rect x="495" y="91.65" width="9" height="8.75" fill="#aa0000"/>
<rect x="495" y="83.20" width="9" height="8.75" fill="#a00000"/>
<rect x="495" y="74.75" width="9" height="8.75" fill="#661010"/>
<rect x="495" y="66.30" width="9" height="8.75" fill="#621212"/>
<rect x="495" y="57.85" width="9" height="8.75" fill="#5e1414"/>
<rect x="495" y="49.40" width="9" height="8.75" fill="#591616"/>
<rect x="495" y="40.95" width="9" height="8.75" fill="#551818"/>
<rect x="504" y="547.40" width="2.5" height="1.2" fill="#000"/>
<text x="524.5" y="556.60" text-anchor="middle" font-size="20">0</text>
<rect x="504" y="496.65" width="2.5" height="1.2" fill="#000"/>
<text x="524.5" y="505.85" text-anchor="middle" font-size="20">6</text>
<rect x="504" y="445.90" width="2.5" height="1.2" fill="#000"/>
<text x="524.5" y="455.10" text-anchor="middle" font-size="20">12</text>
<rect x="504" y="395.16" width="2.5" height="1.2" fill="#000"/>
<text x="524.5" y="404.36" text-anchor="middle" font-size="20">18</text>
<rect x="504" y="344.41" width="2.5" height="1.2" fill="#000"/>
<text x="524.5" y="353.61" text-anchor="middle" font-size="20">24</text>
<rect x="504" y="293.66" width="2.5" height="1.2" fill="#000"/>
<text x="524.5" y="302.86" text-anchor="middle" font-size="20">30</text>
<rect x="504" y="242.91" width="2.5" height="1.2" fill="#000"/>
<text x="524.5" y="252.11" text-anchor="middle" font-size="20">36</text>
<rect x="504" y="192.16" width="2.5" height="1.2" fill="#000"/>
<text x="524.5" y="201.36" text-anchor="middle" font-size="20">42</text>
<rect x="504" y="141.42" width="2.5" height="1.2" fill="#000"/>
<text x="524.5" y="150.62" text-anchor="middle" font-size="20">48</text>
<rect x="504" y="90.67" width="2.5" height="1.2" fill="#000"/>
<text x="524.5" y="99.87" text-anchor="middle" font-size="20">54</text>
</g>
<g transform="translate(1180.67,0.00)">
<g clip-path="url(#mclip)"><path d="M358.7,263.8 L363.9,265.1 L367.8,272.9 L376.9,271.6 L383.4,267.7 L389.9,263.8 L396.4,262.5 L400.3,269.0 L409.4,272.9 L411.9,285.8 L417.1,293.6 L419.7,300.1 L413.2,306.6 L402.9,310.5 L395.1,311.8 L389.9,314.4 L383.4,309.2 L379.5,304.0 L373.0,300.1 L363.9,298.8 L362.6,291.0 L358.7,285.8 L360.0,272.9Z" fill="#8ad88a" stroke="#000" stroke-width="1.3" stroke-linejoin="round"/><path d="M331.4,266.4 L335.3,253.4 L343.1,250.8 L350.9,246.9 L358.7,249.5 L361.3,259.9 L356.1,270.3 L353.5,285.8 L354.8,298.8 L363.9,305.3 L361.3,309.2 L350.9,302.7 L340.5,293.6 L335.3,289.7 L332.7,279.4Z" fill="#8ad88a" stroke="#000" stroke-width="1.3" stroke-linejoin="round"/><path d="M353.5,233.9 L358.7,223.5 L361.3,207.9 L365.2,201.4 L371.7,202.7 L373.0,214.4 L369.1,223.5 L373.0,233.9 L376.9,240.4 L366.5,246.9 L362.6,257.3 L358.7,259.9 L356.1,254.7 L360.0,244.3 L354.8,240.4Z" fill="#8ad88a" stroke="#000" stroke-width="1.3" stroke-linejoin="round"/><path d="M375.6,246.9 L383.4,240.4 L395.1,233.9 L402.9,223.5 L408.1,226.1 L405.5,233.9 L396.4,241.7 L384.7,246.9 L379.5,250.8Z" fill="#8ad88a" stroke="#000" stroke-width="1.3" stroke-linejoin="round"/><path d="M318.4,263.8 L321.0,246.9 L322.3,231.3 L314.5,220.9 L317.1,218.3 L326.2,223.5 L328.8,233.9 L327.5,253.4 L323.6,266.4Z" fill="#8ad88a" stroke="#000" stroke-width="1.3" stroke-linejoin="round"/><path d="M389.9,320.9 L409.4,314.4 L426.2,309.2 L441.8,306.6 L461.3,305.3 L470.4,297.5 L486.0,294.9 L486.0,302.7 L474.3,309.2 L454.8,317.0 L441.8,324.8 L423.6,327.4 L409.4,332.6 L396.4,327.4Z" fill="#8ad88a" stroke="#000" stroke-width="1.3" stroke-linejoin="round"/><path d="M279.5,152.1 L295.1,152.1 L297.7,166.4 L305.5,172.9 L299.0,179.4 L289.9,176.8 L286.0,163.8Z" fill="#8ad88a" stroke="#000" stroke-width="1.3" stroke-linejoin="round"/><path d="M311.9,163.8 L318.4,166.4 L327.5,179.4 L324.9,185.8 L315.8,181.9 L313.2,172.9Z" fill="#8ad88a" stroke="#000" stroke-width="1.3" stroke-linejoin="round"/><path d="M337.9,193.6 L343.1,192.3 L345.7,202.7 L340.5,207.9 L337.9,204.0Z" fill="#8ad88a" stroke="#000" stroke-width="1.3" stroke-linejoin="round"/><path d="M273.0,187.1 L278.2,185.8 L280.8,193.6 L275.6,194.9Z" fill="#8ad88a" stroke="#000" stroke-width="1.3" stroke-linejoin="round"/><path d="M419.7,232.6 L424.9,232.6 L427.5,240.4 L422.3,241.7Z" fill="#8ad88a" stroke="#000" stroke-width="1.3" stroke-linejoin="round"/><path d="M306.8,188.4 L311.9,189.7 L313.2,194.9 L308.1,196.2Z" fill="#8ad88a" stroke="#000" stroke-width="1.3" stroke-linejoin="round"/><path d="M313.2,197.5 L317.1,198.8 L317.1,206.6 L313.2,205.3Z" fill="#8ad88a" stroke="#000" stroke-width="1.3" stroke-linejoin="round"/><path d="M337.9,214.4 L341.8,214.4 L341.8,220.9 L337.9,220.9Z" fill="#8ad88a" stroke="#000" stroke-width="1.3" stroke-linejoin="round"/><path d="M319.7,210.5 L323.6,211.8 L324.9,219.6 L321.0,219.6Z" fill="#8ad88a" stroke="#000" stroke-width="1.3" stroke-linejoin="round"/><path d="M462.6,265.1 L478.2,265.1 L474.3,281.9 L467.8,280.6Z" fill="#8ad88a" stroke="#000" stroke-width="1.3" stroke-linejoin="round"/><path d="M317.1,270.3 L321.0,269.0 L319.7,278.1 L315.8,276.8Z" fill="#8ad88a" stroke="#000" stroke-width="1.3" stroke-linejoin="round"/><path d="M467.8,317.0 L480.8,315.7 L483.4,319.6 L469.1,320.9Z" fill="#8ad88a" stroke="#000" stroke-width="1.3" stroke-linejoin="round"/><path d="M262.6,169.0 L267.8,170.3 L269.1,175.5 L263.9,174.2Z" fill="#8ad88a" stroke="#000" stroke-width="1.3" stroke-linejoin="round"/><path d="M168.0,184.0 L175.0,181.0 L200.0,194.0 L218.0,204.0 L216.0,212.0 L196.0,206.0 L171.0,192.0Z" fill="#90d890" stroke="#000" stroke-width="1.3" stroke-linejoin="round"/><path d="M384.7,298.8 L396.4,297.5 L400.3,304.0 L389.9,305.3Z" fill="#c8d8f0"/><path d="M363.9,285.8 L376.9,283.2 L387.3,285.8 L374.3,294.9 L365.2,296.2Z" fill="#7aa0c8"/><path d="M337.9,259.9 L345.7,257.3 L348.3,270.3 L340.5,275.5Z" fill="#88b0b8"/><ellipse cx="357.4" cy="220.3" rx="6.5" ry="4.5" fill="none" stroke="#000" stroke-width="1.3"/><ellipse cx="325.6" cy="246.9" rx="6.5" ry="5.2" fill="none" stroke="#000" stroke-width="1.3"/><ellipse cx="412.6" cy="317.0" rx="4.5" ry="6.5" fill="none" stroke="#000" stroke-width="1.3"/><circle cx="163.0" cy="138.0" r="1.8" fill="#000"/><circle cx="157.0" cy="149.0" r="1.8" fill="#000"/><circle cx="153.0" cy="165.0" r="1.8" fill="#000"/><circle cx="214.5" cy="137.0" r="1.8" fill="#000"/><circle cx="242.0" cy="179.0" r="1.8" fill="#000"/><circle cx="245.0" cy="142.0" r="1.8" fill="#000"/><circle cx="171.0" cy="88.0" r="1.8" fill="#000"/><circle cx="224.0" cy="127.0" r="1.8" fill="#000"/></g>
<g stroke="#000" stroke-width="1.25" stroke-dasharray="3.2 5.07"><line x1="33.8" y1="41" x2="33.8" y2="548"/><line x1="112.5" y1="41" x2="112.5" y2="548"/><line x1="191.2" y1="41" x2="191.2" y2="548"/><line x1="270.0" y1="41" x2="270.0" y2="548"/><line x1="348.7" y1="41" x2="348.7" y2="548"/><line x1="427.4" y1="41" x2="427.4" y2="548"/><line x1="13" y1="75.7" x2="486" y2="75.7"/><line x1="13" y1="160.2" x2="486" y2="160.2"/><line x1="13" y1="244.7" x2="486" y2="244.7"/><line x1="13" y1="329.2" x2="486" y2="329.2"/><line x1="13" y1="413.7" x2="486" y2="413.7"/><line x1="13" y1="498.2" x2="486" y2="498.2"/></g><g clip-path="url(#mclip)" fill="none" stroke="#000" stroke-width="1.1" stroke-dasharray="12.5 11.1"><path d="M124.4,41.0 L128.4,43.8 L132.4,46.5 L136.4,49.3 L140.4,52.0 L144.4,54.8 L148.4,57.5 L152.4,60.2 L156.4,62.9 L160.4,65.6 L164.4,68.3 L168.4,71.0 L172.4,73.7 L176.4,76.4 L180.4,79.1 L184.4,81.8 L188.4,84.5 L192.4,87.1 L196.4,89.8 L200.4,92.5 L204.4,95.1 L208.4,97.8 L212.4,100.4 L216.4,103.1 L220.4,105.7 L224.4,108.3 L228.4,111.0 L232.4,113.6 L236.4,116.2 L240.4,118.8 L244.4,121.4 L248.4,124.0 L252.4,126.6 L256.4,129.2 L260.4,131.8 L264.4,134.4 L268.4,137.0 L272.4,139.5 L276.4,142.1 L280.4,144.6 L284.4,147.2 L288.4,149.8 L292.4,152.3 L296.4,154.8 L300.4,157.4 L304.4,159.9 L308.4,162.4 L312.4,164.9 L316.4,167.5 L320.4,170.0 L324.4,172.5 L328.4,175.0 L332.4,177.5 L336.4,180.0 L340.4,182.4 L344.4,184.9 L348.4,187.4 L352.4,189.9 L356.4,192.3 L360.4,194.8 L364.4,197.3 L368.4,199.7 L372.4,202.1 L376.4,204.6 L380.4,207.0 L384.4,209.4 L388.4,211.9 L392.4,214.3 L396.4,216.7 L400.4,219.1 L404.4,221.5 L408.4,223.9 L412.4,226.3 L416.4,228.7 L420.4,231.1 L424.4,233.5 L428.4,235.8 L432.4,238.2 L436.4,240.6 L440.4,242.9 L444.4,245.3 L448.4,247.6 L452.4,250.0 L456.4,252.3 L460.4,254.6 L464.4,257.0 L468.4,259.3 L472.4,261.6 L476.4,263.9 L480.4,266.2 L484.4,268.5"/><path d="M13.0,76.7 L17.0,79.5 L21.0,82.3 L25.0,85.1 L29.0,87.9 L33.0,90.7 L37.0,93.5 L41.0,96.3 L45.0,99.1 L49.0,101.9 L53.0,104.7 L57.0,107.4 L61.0,110.2 L65.0,113.0 L69.0,115.7 L73.0,118.5 L77.0,121.2 L81.0,124.0 L85.0,126.7 L89.0,129.5 L93.0,132.2 L97.0,134.9 L101.0,137.7 L105.0,140.4 L109.0,143.1 L113.0,145.8 L117.0,148.5 L121.0,151.2 L125.0,153.9 L129.0,156.6 L133.0,159.3 L137.0,162.0 L141.0,164.6 L145.0,167.3 L149.0,170.0 L153.0,172.6 L157.0,175.3 L161.0,178.0 L165.0,180.6 L169.0,183.3 L173.0,185.9 L177.0,188.5 L181.0,191.2 L185.0,193.8 L189.0,196.4 L193.0,199.0 L197.0,201.6 L201.0,204.3 L205.0,206.9 L209.0,209.5 L213.0,212.1 L217.0,214.6 L221.0,217.2 L225.0,219.8 L229.0,222.4 L233.0,225.0 L237.0,227.5 L241.0,230.1 L245.0,232.6 L249.0,235.2 L253.0,237.7 L257.0,240.3 L261.0,242.8 L265.0,245.4 L269.0,247.9 L273.0,250.4 L277.0,252.9 L281.0,255.5 L285.0,258.0 L289.0,260.5 L293.0,263.0 L297.0,265.5 L301.0,268.0 L305.0,270.5 L309.0,272.9 L313.0,275.4 L317.0,277.9 L321.0,280.4 L325.0,282.8 L329.0,285.3 L333.0,287.8 L337.0,290.2 L341.0,292.6 L345.0,295.1 L349.0,297.5 L353.0,300.0 L357.0,302.4 L361.0,304.8 L365.0,307.2 L369.0,309.7 L373.0,312.1 L377.0,314.5 L381.0,316.9 L385.0,319.3 L389.0,321.7 L393.0,324.0 L397.0,326.4 L401.0,328.8 L405.0,331.2 L409.0,333.5 L413.0,335.9 L417.0,338.3 L421.0,340.6 L425.0,343.0 L429.0,345.3 L433.0,347.7 L437.0,350.0 L441.0,352.3 L445.0,354.7 L449.0,357.0 L453.0,359.3 L457.0,361.6 L461.0,363.9 L465.0,366.2 L469.0,368.5 L473.0,370.8 L477.0,373.1 L481.0,375.4 L485.0,377.7"/></g><path d="M13.0,97.3 L16.8,103.5 L22.1,108.8 L24.5,113.1 L25.0,116.5 L27.8,113.1 L30.7,113.1 L31.2,116.0 L29.3,119.4 L30.7,125.1 L36.0,134.7 L39.4,145.3 L37.4,151.0 L37.0,158.7 L33.6,166.4 L34.6,171.2 L39.4,176.0 L42.2,180.8 L47.0,183.2 L45.1,190.4 L44.6,198.1 L49.9,203.8 L58.6,209.6 L67.2,214.4 L69.1,215.3 L72.0,214.4 L73.9,211.0 L75.8,213.4 L78.2,219.2 L84.5,220.6 L89.3,218.2 L89.7,215.8 L95.0,226.9 L96.9,233.6 L99.8,237.4 L103.2,237.4 L104.1,233.1 L108.5,239.3 L112.3,242.2 L116.1,240.3 L122.4,244.1 L122.7,243.6 L123.6,248.6 L129.5,252.9 L129.9,248.2 L133.3,248.2 L135.4,250.3 L137.1,252.4 L138.8,254.6 L140.5,255.4 L143.5,255.4 L144.7,257.1 L146.0,261.8 L148.5,265.6 L148.5,267.3 L143.9,264.7 L140.1,263.9 L140.1,266.4 L138.4,269.4 L142.2,275.7 L145.6,278.3 L145.6,282.1 L146.8,280.4 L153.2,282.9 L154.0,285.1 L160.0,288.9 L161.2,291.0 L160.0,293.5 L160.0,297.8 L162.9,299.5 L164.6,304.5 L163.8,309.2 L168.4,310.5 L171.0,310.5 L169.7,312.6 L170.6,318.9 L169.3,321.5 L171.4,328.2 L173.1,335.9 L178.6,345.2 L179.5,348.6 L179.0,349.4 L181.1,349.0 L183.7,346.5 L186.2,348.6 L190.5,354.5 L191.7,356.2 L192.2,353.2 L190.9,348.6 L188.8,344.3 L188.3,340.1 L190.0,336.7 L193.8,336.3 L199.8,346.0 L204.9,348.6 L213.8,354.1 L212.5,348.6 L212.9,344.8 L215.9,343.9 L218.0,346.5 L220.1,351.1 L222.2,352.8 L222.2,355.3 L223.5,361.3 L221.0,368.9 L221.0,374.0 L222.6,380.0 L221.3,375.1 L221.8,378.5 L224.3,383.1 L222.6,386.1 L223.9,389.5 L224.7,394.6 L228.5,395.0 L233.2,397.9 L236.2,403.0 L239.1,406.4 L244.2,409.4 L246.7,412.3 L252.7,415.7 L256.1,416.2 L257.8,414.9 L262.8,420.0 L265.8,420.8 L269.2,426.7 L270.5,432.7 L275.5,440.3 L281.5,444.1 L287.4,446.6 L289.1,449.6 L289.9,456.4 L295.0,464.0 L298.4,467.0 L304.3,468.7 L306.5,472.5 L304.8,475.0 L307.3,476.7 L305.6,481.0 L306.0,486.9 L308.6,490.3 L309.3,490.0 L310.7,492.7 L310.9,496.3 L311.1,493.6 L312.5,492.5 L316.3,498.1 L315.2,501.7 L313.8,504.9 L312.9,508.1 L312.2,511.7 L314.5,515.1 L314.3,518.9 L313.4,521.6 L314.0,527.5 L315.4,528.8 L315.8,537.9 L317.0,541.5 L316.5,545.1 L312.5,545.3 L311.3,548.3" fill="none" stroke="#000" stroke-width="1.2" stroke-linejoin="round"/><g font-size="12.5"><text x="250" y="75.2" text-anchor="middle" textLength="18" lengthAdjust="spacingAndGlyphs">-16</text><text x="250" y="159.7" text-anchor="middle" textLength="18" lengthAdjust="spacingAndGlyphs">-18</text><text x="250" y="244.2" text-anchor="middle" textLength="18" lengthAdjust="spacingAndGlyphs">-20</text><text x="250" y="328.7" text-anchor="middle" textLength="18" lengthAdjust="spacingAndGlyphs">-22</text><text x="250" y="413.2" text-anchor="middle" textLength="18" lengthAdjust="spacingAndGlyphs">-24</text><text x="250" y="497.7" text-anchor="middle" textLength="18" lengthAdjust="spacingAndGlyphs">-26</text><text x="33.8" y="308" text-anchor="middle" textLength="19" lengthAdjust="spacingAndGlyphs">146</text><text x="112.5" y="308" text-anchor="middle" textLength="19" lengthAdjust="spacingAndGlyphs">148</text><text x="191.2" y="308" text-anchor="middle" textLength="19" lengthAdjust="spacingAndGlyphs">150</text><text x="270.0" y="308" text-anchor="middle" textLength="19" lengthAdjust="spacingAndGlyphs">152</text><text x="348.7" y="308" text-anchor="middle" textLength="19" lengthAdjust="spacingAndGlyphs">154</text><text x="427.4" y="308" text-anchor="middle" textLength="19" lengthAdjust="spacingAndGlyphs">156</text></g>
<path d="M243,292 h13 v5 h-13z M247.2,288 h4.7 v13 h-4.7z" fill="#000"/>
<text x="37.5" y="66" font-size="26" textLength="387.8" lengthAdjust="spacingAndGlyphs">2A25 near surface rainrate (mm/hr)</text>
<text x="439.6" y="522.5" font-size="29" textLength="32.2" lengthAdjust="spacingAndGlyphs">(c)</text>
<rect x="495" y="531.05" width="9" height="8.75" fill="#80e080"/>
<rect x="495" y="522.60" width="9" height="8.75" fill="#7cd97c"/>
<rect x="495" y="514.15" width="9" height="8.75" fill="#79d279"/>
<rect x="495" y="505.70" width="9" height="8.75" fill="#75cb75"/>
<rect x="495" y="497.25" width="9" height="8.75" fill="#71c571"/>
<rect x="495" y="488.80" width="9" height="8.75" fill="#6dbe6d"/>
<rect x="495" y="480.35" width="9" height="8.75" fill="#6ab76a"/>
<rect x="495" y="471.90" width="9" height="8.75" fill="#66b066"/>
<rect x="495" y="463.45" width="9" height="8.75" fill="#ccd5ff"/>
<rect x="495" y="455.00" width="9" height="8.75" fill="#b9cfff"/>
<rect x="495" y="446.55" width="9" height="8.75" fill="#a7c9ff"/>
<rect x="495" y="438.10" width="9" height="8.75" fill="#94c2ff"/>
<rect x="495" y="429.65" width="9" height="8.75" fill="#81bcff"/>
<rect x="495" y="421.20" width="9" height="8.75" fill="#6fb6ff"/>
<rect x="495" y="412.75" width="9" height="8.75" fill="#5cb0ff"/>
<rect x="495" y="404.30" width="9" height="8.75" fill="#4d8cff"/>
<rect x="495" y="395.85" width="9" height="8.75" fill="#467aff"/>
<rect x="495" y="387.40" width="9" height="8.75" fill="#4068ff"/>
<rect x="495" y="378.95" width="9" height="8.75" fill="#3a56ff"/>
<rect x="495" y="370.50" width="9" height="8.75" fill="#3344ff"/>
<rect x="495" y="362.05" width="9" height="8.75" fill="#0000ff"/>
<rect x="495" y="353.60" width="9" height="8.75" fill="#0000f2"/>
<rect x="495" y="345.15" width="9" height="8.75" fill="#0000e6"/>
<rect x="495" y="336.70" width="9" height="8.75" fill="#0000d9"/>
<rect x="495" y="328.25" width="9" height="8.75" fill="#0000cc"/>
<rect x="495" y="319.80" width="9" height="8.75" fill="#0000c0"/>
<rect x="495" y="311.35" width="9" height="8.75" fill="#0000b3"/>
<rect x="495" y="302.90" width="9" height="8.75" fill="#ffff00"/>
<rect x="495" y="294.45" width="9" height="8.75" fill="#fff600"/>
<rect x="495" y="286.00" width="9" height="8.75" fill="#ffee00"/>
<rect x="495" y="277.55" width="9" height="8.75" fill="#ffe600"/>
<rect x="495" y="269.10" width="9" height="8.75" fill="#ffdd00"/>
<rect x="495" y="260.65" width="9" height="8.75" fill="#ffd400"/>
<rect x="495" y="252.20" width="9" height="8.75" fill="#ffcc00"/>
<rect x="495" y="243.75" width="9" height="8.75" fill="#ff8c00"/>
<rect x="495" y="235.30" width="9" height="8.75" fill="#ff8400"/>
<rect x="495" y="226.85" width="9" height="8.75" fill="#ff7d00"/>
<rect x="495" y="218.40" width="9" height="8.75" fill="#ff7500"/>
<rect x="495" y="209.95" width="9" height="8.75" fill="#ff6e00"/>
<rect x="495" y="201.50" width="9" height="8.75" fill="#ff6600"/>
<rect x="495" y="193.05" width="9" height="8.75" fill="#ff4400"/>
<rect x="495" y="184.60" width="9" height="8.75" fill="#ff3d00"/>
<rect x="495" y="176.15" width="9" height="8.75" fill="#ff3600"/>
<rect x="495" y="167.70" width="9" height="8.75" fill="#ff2f00"/>
<rect x="495" y="159.25" width="9" height="8.75" fill="#ff2800"/>
<rect x="495" y="150.80" width="9" height="8.75" fill="#ff2100"/>
<rect x="495" y="142.35" width="9" height="8.75" fill="#ff1a00"/>
<rect x="495" y="133.90" width="9" height="8.75" fill="#c80000"/>
<rect x="495" y="125.45" width="9" height="8.75" fill="#c10000"/>
<rect x="495" y="117.00" width="9" height="8.75" fill="#bb0000"/>
<rect x="495" y="108.55" width="9" height="8.75" fill="#b40000"/>
<rect x="495" y="100.10" width="9" height="8.75" fill="#ad0000"/>
<rect x="495" y="91.65" width="9" height="8.75" fill="#a70000"/>
<rect x="495" y="83.20" width="9" height="8.75" fill="#a00000"/>
<rect x="495" y="74.75" width="9" height="8.75" fill="#661010"/>
<rect x="495" y="66.30" width="9" height="8.75" fill="#621212"/>
<rect x="495" y="57.85" width="9" height="8.75" fill="#5e1414"/>
<rect x="495" y="49.40" width="9" height="8.75" fill="#591616"/>
<rect x="495" y="40.95" width="9" height="8.75" fill="#551818"/>
<rect x="504" y="547.40" width="2.5" height="1.2" fill="#000"/>
<text x="524.5" y="556.60" text-anchor="middle" font-size="20">0</text>
<rect x="504" y="496.65" width="2.5" height="1.2" fill="#000"/>
<text x="524.5" y="505.85" text-anchor="middle" font-size="20">6</text>
<rect x="504" y="445.90" width="2.5" height="1.2" fill="#000"/>
<text x="524.5" y="455.10" text-anchor="middle" font-size="20">12</text>
<rect x="504" y="395.16" width="2.5" height="1.2" fill="#000"/>
<text x="524.5" y="404.36" text-anchor="middle" font-size="20">18</text>
<rect x="504" y="344.41" width="2.5" height="1.2" fill="#000"/>
<text x="524.5" y="353.61" text-anchor="middle" font-size="20">24</text>
<rect x="504" y="293.66" width="2.5" height="1.2" fill="#000"/>
<text x="524.5" y="302.86" text-anchor="middle" font-size="20">30</text>
<rect x="504" y="242.91" width="2.5" height="1.2" fill="#000"/>
<text x="524.5" y="252.11" text-anchor="middle" font-size="20">36</text>
<rect x="504" y="192.16" width="2.5" height="1.2" fill="#000"/>
<text x="524.5" y="201.36" text-anchor="middle" font-size="20">42</text>
<rect x="504" y="141.42" width="2.5" height="1.2" fill="#000"/>
<text x="524.5" y="150.62" text-anchor="middle" font-size="20">48</text>
<rect x="504" y="90.67" width="2.5" height="1.2" fill="#000"/>
<text x="524.5" y="99.87" text-anchor="middle" font-size="20">54</text>
</g>
<g transform="translate(0.00,590.33)">
<g clip-path="url(#mclip)"><clipPath id="sw3"><path d="M13.0,41.0 L335.0,41.0 L486.0,133.0 L486.0,518.9 L478.0,514.4 L470.0,510.0 L462.0,505.5 L454.0,501.0 L446.0,496.5 L438.0,491.9 L430.0,487.4 L422.0,482.8 L414.0,478.2 L406.0,473.6 L398.0,469.0 L390.0,464.4 L382.0,459.7 L374.0,455.1 L366.0,450.4 L358.0,445.7 L350.0,441.0 L342.0,436.3 L334.0,431.5 L326.0,426.7 L318.0,422.0 L310.0,417.2 L302.0,412.3 L294.0,407.5 L286.0,402.7 L278.0,397.8 L270.0,392.9 L262.0,388.0 L254.0,383.1 L246.0,378.2 L238.0,373.2 L230.0,368.3 L222.0,363.3 L214.0,358.3 L206.0,353.3 L198.0,348.2 L190.0,343.2 L182.0,338.1 L174.0,333.0 L166.0,328.0 L158.0,322.8 L150.0,317.7 L142.0,312.6 L134.0,307.4 L126.0,302.2 L118.0,297.0 L110.0,291.8 L102.0,286.6 L94.0,281.3 L86.0,276.1 L78.0,270.8 L70.0,265.5 L62.0,260.2 L54.0,254.8 L46.0,249.5 L38.0,244.1 L30.0,238.7 L22.0,233.3 L14.0,227.9 L13.0,227.3Z"/></clipPath><g clip-path="url(#sw3)"><path d="M13.0,41.0 L335.0,41.0 L486.0,133.0 L486.0,518.9 L478.0,514.4 L470.0,510.0 L462.0,505.5 L454.0,501.0 L446.0,496.5 L438.0,491.9 L430.0,487.4 L422.0,482.8 L414.0,478.2 L406.0,473.6 L398.0,469.0 L390.0,464.4 L382.0,459.7 L374.0,455.1 L366.0,450.4 L358.0,445.7 L350.0,441.0 L342.0,436.3 L334.0,431.5 L326.0,426.7 L318.0,422.0 L310.0,417.2 L302.0,412.3 L294.0,407.5 L286.0,402.7 L278.0,397.8 L270.0,392.9 L262.0,388.0 L254.0,383.1 L246.0,378.2 L238.0,373.2 L230.0,368.3 L222.0,363.3 L214.0,358.3 L206.0,353.3 L198.0,348.2 L190.0,343.2 L182.0,338.1 L174.0,333.0 L166.0,328.0 L158.0,322.8 L150.0,317.7 L142.0,312.6 L134.0,307.4 L126.0,302.2 L118.0,297.0 L110.0,291.8 L102.0,286.6 L94.0,281.3 L86.0,276.1 L78.0,270.8 L70.0,265.5 L62.0,260.2 L54.0,254.8 L46.0,249.5 L38.0,244.1 L30.0,238.7 L22.0,233.3 L14.0,227.9 L13.0,227.3Z" fill="#e6e6e6"/><path d="M149.9,316.2 L199.9,259.5 L266.5,239.5 L333.1,266.2 L399.8,326.1 L433.1,382.8 L486.4,432.8 L486.4,566.0 L149.9,566.0Z" fill="#d6d6d6"/><path d="M199.9,299.5 L216.5,266.2 L253.2,256.2 L293.2,262.9 L316.5,299.5 L319.8,352.8 L293.2,372.8 L233.2,366.1Z" fill="#cfcfcf"/><path d="M316.5,349.5 L366.5,316.2 L416.4,332.8 L433.1,399.4 L416.4,472.7 L366.5,432.8Z" fill="#cdcdcd"/><path d="M433.1,99.6 L466.4,139.6 L486.4,166.2 L486.4,266.2 L459.7,232.9 L439.8,182.9Z" fill="#d2d2d2"/><path d="M13.3,332.8 L13.3,199.6 L66.6,216.2 L116.6,232.9 L149.9,316.2Z" fill="#dedede"/><path d="M212.0,305.6 L215.4,283.5 L229.0,264.9 L245.9,259.8 L266.2,270.0 L278.1,266.6 L291.6,275.1 L300.1,297.1 L298.4,331.0 L312.0,339.5 L308.6,351.3 L284.9,361.5 L254.4,358.1 L232.4,359.8 L217.1,341.1Z" fill="#bcbcbc"/><path d="M308.6,361.5 L325.5,347.9 L339.1,334.4 L350.9,324.2 L401.8,324.2 L410.2,334.4 L376.3,354.7 L369.6,385.2 L350.9,395.4 L322.1,395.4 L312.0,378.4Z" fill="#c4c4c4"/><path d="M217.1,303.9 L218.0,286.9 L223.9,275.1 L232.4,266.6 L240.0,266.6 L234.0,271.7 L225.6,280.2 L220.5,293.7 L219.6,303.9Z" fill="#94d6a4" stroke="#000" stroke-width="1.3"/><path d="M245.9,263.2 L254.4,264.9 L256.1,267.5 L249.3,266.6Z" fill="#94d6a4" stroke="#000" stroke-width="1.3"/><path d="M240.8,281.0 L259.5,286.1 L264.5,295.4 L264.5,305.6 L274.7,305.6 L276.4,283.5 L278.9,271.7 L284.9,276.8 L291.6,283.5 L294.2,293.7 L291.6,310.7 L288.3,322.5 L284.9,331.0 L291.6,336.1 L298.4,337.8 L306.9,341.1 L300.1,344.5 L291.6,349.6 L281.5,344.5 L278.1,358.1 L266.2,354.7 L257.8,351.3 L249.3,346.2 L240.8,354.7 L237.4,351.3 L232.4,337.8 L222.2,329.3 L234.0,327.6 L229.0,317.4 L225.6,305.6Z" fill="#94d6a4" stroke="#000" stroke-width="1.3"/><path d="M317.1,359.8 L325.5,356.4 L335.7,354.7 L339.1,347.9 L335.7,342.8 L342.5,334.4 L350.9,329.3 L367.9,327.6 L384.8,329.3 L400.1,331.0 L398.4,337.8 L384.8,344.5 L367.9,349.6 L362.8,359.8 L357.7,368.3 L362.8,373.3 L364.5,383.5 L350.9,388.6 L339.1,383.5 L328.9,378.4 L322.1,369.9Z" fill="#94d6a4" stroke="#000" stroke-width="1.3"/><path d="M322.1,390.3 L325.5,381.8 L330.6,383.5 L327.2,392.0Z" fill="#94d6a4" stroke="#000" stroke-width="1.3"/><path d="M367.9,276.8 L373.0,273.4 L381.4,278.5 L396.7,275.1 L400.1,281.9 L410.2,295.4 L410.2,303.9 L403.5,309.0 L391.6,314.0 L386.5,305.6 L381.4,300.5 L373.0,298.8 L369.6,292.0 L374.7,288.6 L367.9,285.2Z" fill="#a4d4c0" stroke="#000" stroke-width="1.3"/><path d="M408.5,324.2 L418.7,320.8 L435.6,314.0 L445.8,312.3 L449.2,319.1 L444.1,324.2 L427.2,325.9 L410.2,327.6Z" fill="#94d6a4" stroke="#000" stroke-width="1.3"/><path d="M400.1,327.6 L405.1,325.9 L408.5,330.1 L401.8,331.8Z" fill="#94d6a4" stroke="#000" stroke-width="1.3"/><path d="M347.5,270.0 L352.6,259.8 L362.8,259.8 L361.1,266.6 L354.3,278.5 L349.2,278.5Z" fill="#94d6a4" stroke="#000" stroke-width="1.3"/><path d="M342.5,288.6 L345.9,283.5 L350.9,285.2 L352.6,293.7 L344.2,293.7Z" fill="#94d6a4" stroke="#000" stroke-width="1.3"/><path d="M335.7,259.8 L339.1,256.4 L342.5,259.8 L339.1,266.6 L335.7,264.9Z" fill="#88b0e0" stroke="#000" stroke-width="1.3"/><path d="M332.3,307.3 L339.1,307.3 L339.1,310.7 L333.1,310.7Z" fill="#94d6a4" stroke="#000" stroke-width="1.3"/><path d="M325.5,322.5 L328.9,322.5 L332.3,327.6 L328.9,329.3Z" fill="#94d6a4" stroke="#000" stroke-width="1.3"/><path d="M411.9,432.6 L415.3,432.6 L416.2,444.5 L411.9,442.8Z" fill="#94d6a4" stroke="#000" stroke-width="1.3"/><path d="M413.6,458.0 L420.4,457.2 L432.2,468.2 L430.6,469.9 L417.0,461.4Z" fill="#94d6a4" stroke="#000" stroke-width="1.3"/><path d="M474.6,410.6 L484.8,410.6 L484.8,414.0 L476.3,414.0Z" fill="#94d6a4" stroke="#000" stroke-width="1.3"/><path d="M13.3,156.2 L20.0,152.9 L23.3,159.6 L18.3,166.2 L13.3,166.2Z" fill="#94d6a4" stroke="#000" stroke-width="1.3"/><path d="M129.9,232.9 L136.6,226.2 L146.6,229.5 L148.2,239.5 L136.6,239.5Z" fill="#7090c8" stroke="#000" stroke-width="1.3"/><path d="M443.1,134.6 L453.1,136.3 L456.4,152.9 L446.4,152.9Z" fill="#94d6a4" stroke="#000" stroke-width="1.3"/><path d="M446.4,172.9 L456.4,172.9 L456.4,177.9 L446.4,177.9Z" fill="#94d6a4" stroke="#000" stroke-width="1.3"/><path d="M406.4,216.2 L419.8,212.9 L433.1,202.9 L444.7,204.6 L433.1,219.5 L409.8,222.9Z" fill="#8cc8a8" stroke="#000" stroke-width="1.3"/><path d="M359.8,229.5 L366.5,222.9 L371.5,236.2 L363.1,239.5Z" fill="#94d6a4" stroke="#000" stroke-width="1.3"/><path d="M343.1,131.3 L349.8,131.3 L349.8,136.3 L343.1,136.3Z" fill="#3050d0" stroke="#000" stroke-width="1.3"/><path d="M314.9,168.4 L318.5,168.4 L322.0,173.2 L318.5,174.3 L315.5,172.0Z" fill="#5a90e8" stroke="#000" stroke-width="1.3"/><path d="M316.7,176.7 L320.2,176.1 L321.4,179.7 L317.3,180.3Z" fill="#d8e0f0" stroke="#000" stroke-width="1.3"/><path d="M364.7,170.8 L368.9,170.8 L368.9,173.7 L365.3,173.7Z" fill="#000" stroke="#000" stroke-width="1.3"/><path d="M430.5,110.3 L434.7,109.7 L435.9,115.6 L431.7,116.2Z" fill="#000" stroke="#000" stroke-width="1.3"/><path d="M438.8,123.3 L443.0,122.8 L444.2,126.9 L439.4,127.5Z" fill="#000" stroke="#000" stroke-width="1.3"/><path d="M366.5,208.7 L373.0,209.3 L374.2,211.7 L367.7,211.7Z" fill="#dde8e0" stroke="#000" stroke-width="1.3"/><path d="M365.3,215.8 L368.9,215.2 L369.4,218.8 L365.9,218.8Z" fill="#dde8e0" stroke="#000" stroke-width="1.3"/><path d="M337.4,117.4 L340.4,117.4 L340.4,119.2 L337.4,119.2Z" fill="#000" stroke="#000" stroke-width="1.3"/><path d="M412.1,218.2 L418.1,215.8 L425.2,217.0 L421.6,220.6 L415.7,221.8Z" fill="#3a60e0"/><path d="M414.5,217.0 L419.3,217.0 L419.3,221.2 L414.5,221.2Z" fill="#f0a020"/><path d="M245.9,286.9 L261.2,288.6 L261.2,298.8 L249.3,298.8Z" fill="#5070e0"/><path d="M349.2,332.7 L359.4,332.7 L381.4,336.1 L381.4,341.1 L367.9,341.1 L350.9,337.8Z" fill="#5068e0"/></g></g>
<g stroke="#000" stroke-width="1.25" stroke-dasharray="3.2 5.07"><line x1="33.8" y1="41" x2="33.8" y2="548"/><line x1="112.5" y1="41" x2="112.5" y2="548"/><line x1="191.2" y1="41" x2="191.2" y2="548"/><line x1="270.0" y1="41" x2="270.0" y2="548"/><line x1="348.7" y1="41" x2="348.7" y2="548"/><line x1="427.4" y1="41" x2="427.4" y2="548"/><line x1="13" y1="75.7" x2="486" y2="75.7"/><line x1="13" y1="160.2" x2="486" y2="160.2"/><line x1="13" y1="244.7" x2="486" y2="244.7"/><line x1="13" y1="329.2" x2="486" y2="329.2"/><line x1="13" y1="413.7" x2="486" y2="413.7"/><line x1="13" y1="498.2" x2="486" y2="498.2"/></g><g clip-path="url(#mclip)" fill="none" stroke="#000" stroke-width="1.1" stroke-dasharray="12.5 11.1"><path d="M124.4,41.0 L128.4,43.8 L132.4,46.5 L136.4,49.3 L140.4,52.0 L144.4,54.8 L148.4,57.5 L152.4,60.2 L156.4,62.9 L160.4,65.6 L164.4,68.3 L168.4,71.0 L172.4,73.7 L176.4,76.4 L180.4,79.1 L184.4,81.8 L188.4,84.5 L192.4,87.1 L196.4,89.8 L200.4,92.5 L204.4,95.1 L208.4,97.8 L212.4,100.4 L216.4,103.1 L220.4,105.7 L224.4,108.3 L228.4,111.0 L232.4,113.6 L236.4,116.2 L240.4,118.8 L244.4,121.4 L248.4,124.0 L252.4,126.6 L256.4,129.2 L260.4,131.8 L264.4,134.4 L268.4,137.0 L272.4,139.5 L276.4,142.1 L280.4,144.6 L284.4,147.2 L288.4,149.8 L292.4,152.3 L296.4,154.8 L300.4,157.4 L304.4,159.9 L308.4,162.4 L312.4,164.9 L316.4,167.5 L320.4,170.0 L324.4,172.5 L328.4,175.0 L332.4,177.5 L336.4,180.0 L340.4,182.4 L344.4,184.9 L348.4,187.4 L352.4,189.9 L356.4,192.3 L360.4,194.8 L364.4,197.3 L368.4,199.7 L372.4,202.1 L376.4,204.6 L380.4,207.0 L384.4,209.4 L388.4,211.9 L392.4,214.3 L396.4,216.7 L400.4,219.1 L404.4,221.5 L408.4,223.9 L412.4,226.3 L416.4,228.7 L420.4,231.1 L424.4,233.5 L428.4,235.8 L432.4,238.2 L436.4,240.6 L440.4,242.9 L444.4,245.3 L448.4,247.6 L452.4,250.0 L456.4,252.3 L460.4,254.6 L464.4,257.0 L468.4,259.3 L472.4,261.6 L476.4,263.9 L480.4,266.2 L484.4,268.5"/><path d="M13.0,76.7 L17.0,79.5 L21.0,82.3 L25.0,85.1 L29.0,87.9 L33.0,90.7 L37.0,93.5 L41.0,96.3 L45.0,99.1 L49.0,101.9 L53.0,104.7 L57.0,107.4 L61.0,110.2 L65.0,113.0 L69.0,115.7 L73.0,118.5 L77.0,121.2 L81.0,124.0 L85.0,126.7 L89.0,129.5 L93.0,132.2 L97.0,134.9 L101.0,137.7 L105.0,140.4 L109.0,143.1 L113.0,145.8 L117.0,148.5 L121.0,151.2 L125.0,153.9 L129.0,156.6 L133.0,159.3 L137.0,162.0 L141.0,164.6 L145.0,167.3 L149.0,170.0 L153.0,172.6 L157.0,175.3 L161.0,178.0 L165.0,180.6 L169.0,183.3 L173.0,185.9 L177.0,188.5 L181.0,191.2 L185.0,193.8 L189.0,196.4 L193.0,199.0 L197.0,201.6 L201.0,204.3 L205.0,206.9 L209.0,209.5 L213.0,212.1 L217.0,214.6 L221.0,217.2 L225.0,219.8 L229.0,222.4 L233.0,225.0 L237.0,227.5 L241.0,230.1 L245.0,232.6 L249.0,235.2 L253.0,237.7 L257.0,240.3 L261.0,242.8 L265.0,245.4 L269.0,247.9 L273.0,250.4 L277.0,252.9 L281.0,255.5 L285.0,258.0 L289.0,260.5 L293.0,263.0 L297.0,265.5 L301.0,268.0 L305.0,270.5 L309.0,272.9 L313.0,275.4 L317.0,277.9 L321.0,280.4 L325.0,282.8 L329.0,285.3 L333.0,287.8 L337.0,290.2 L341.0,292.6 L345.0,295.1 L349.0,297.5 L353.0,300.0 L357.0,302.4 L361.0,304.8 L365.0,307.2 L369.0,309.7 L373.0,312.1 L377.0,314.5 L381.0,316.9 L385.0,319.3 L389.0,321.7 L393.0,324.0 L397.0,326.4 L401.0,328.8 L405.0,331.2 L409.0,333.5 L413.0,335.9 L417.0,338.3 L421.0,340.6 L425.0,343.0 L429.0,345.3 L433.0,347.7 L437.0,350.0 L441.0,352.3 L445.0,354.7 L449.0,357.0 L453.0,359.3 L457.0,361.6 L461.0,363.9 L465.0,366.2 L469.0,368.5 L473.0,370.8 L477.0,373.1 L481.0,375.4 L485.0,377.7"/></g><path d="M13.0,97.3 L16.8,103.5 L22.1,108.8 L24.5,113.1 L25.0,116.5 L27.8,113.1 L30.7,113.1 L31.2,116.0 L29.3,119.4 L30.7,125.1 L36.0,134.7 L39.4,145.3 L37.4,151.0 L37.0,158.7 L33.6,166.4 L34.6,171.2 L39.4,176.0 L42.2,180.8 L47.0,183.2 L45.1,190.4 L44.6,198.1 L49.9,203.8 L58.6,209.6 L67.2,214.4 L69.1,215.3 L72.0,214.4 L73.9,211.0 L75.8,213.4 L78.2,219.2 L84.5,220.6 L89.3,218.2 L89.7,215.8 L95.0,226.9 L96.9,233.6 L99.8,237.4 L103.2,237.4 L104.1,233.1 L108.5,239.3 L112.3,242.2 L116.1,240.3 L122.4,244.1 L122.7,243.6 L123.6,248.6 L129.5,252.9 L129.9,248.2 L133.3,248.2 L135.4,250.3 L137.1,252.4 L138.8,254.6 L140.5,255.4 L143.5,255.4 L144.7,257.1 L146.0,261.8 L148.5,265.6 L148.5,267.3 L143.9,264.7 L140.1,263.9 L140.1,266.4 L138.4,269.4 L142.2,275.7 L145.6,278.3 L145.6,282.1 L146.8,280.4 L153.2,282.9 L154.0,285.1 L160.0,288.9 L161.2,291.0 L160.0,293.5 L160.0,297.8 L162.9,299.5 L164.6,304.5 L163.8,309.2 L168.4,310.5 L171.0,310.5 L169.7,312.6 L170.6,318.9 L169.3,321.5 L171.4,328.2 L173.1,335.9 L178.6,345.2 L179.5,348.6 L179.0,349.4 L181.1,349.0 L183.7,346.5 L186.2,348.6 L190.5,354.5 L191.7,356.2 L192.2,353.2 L190.9,348.6 L188.8,344.3 L188.3,340.1 L190.0,336.7 L193.8,336.3 L199.8,346.0 L204.9,348.6 L213.8,354.1 L212.5,348.6 L212.9,344.8 L215.9,343.9 L218.0,346.5 L220.1,351.1 L222.2,352.8 L222.2,355.3 L223.5,361.3 L221.0,368.9 L221.0,374.0 L222.6,380.0 L221.3,375.1 L221.8,378.5 L224.3,383.1 L222.6,386.1 L223.9,389.5 L224.7,394.6 L228.5,395.0 L233.2,397.9 L236.2,403.0 L239.1,406.4 L244.2,409.4 L246.7,412.3 L252.7,415.7 L256.1,416.2 L257.8,414.9 L262.8,420.0 L265.8,420.8 L269.2,426.7 L270.5,432.7 L275.5,440.3 L281.5,444.1 L287.4,446.6 L289.1,449.6 L289.9,456.4 L295.0,464.0 L298.4,467.0 L304.3,468.7 L306.5,472.5 L304.8,475.0 L307.3,476.7 L305.6,481.0 L306.0,486.9 L308.6,490.3 L309.3,490.0 L310.7,492.7 L310.9,496.3 L311.1,493.6 L312.5,492.5 L316.3,498.1 L315.2,501.7 L313.8,504.9 L312.9,508.1 L312.2,511.7 L314.5,515.1 L314.3,518.9 L313.4,521.6 L314.0,527.5 L315.4,528.8 L315.8,537.9 L317.0,541.5 L316.5,545.1 L312.5,545.3 L311.3,548.3" fill="none" stroke="#000" stroke-width="1.2" stroke-linejoin="round"/><g font-size="12.5"><text x="250" y="75.2" text-anchor="middle" textLength="18" lengthAdjust="spacingAndGlyphs">-16</text><text x="250" y="159.7" text-anchor="middle" textLength="18" lengthAdjust="spacingAndGlyphs">-18</text><text x="250" y="244.2" text-anchor="middle" textLength="18" lengthAdjust="spacingAndGlyphs">-20</text><text x="250" y="328.7" text-anchor="middle" textLength="18" lengthAdjust="spacingAndGlyphs">-22</text><text x="250" y="413.2" text-anchor="middle" textLength="18" lengthAdjust="spacingAndGlyphs">-24</text><text x="250" y="497.7" text-anchor="middle" textLength="18" lengthAdjust="spacingAndGlyphs">-26</text><text x="33.8" y="308" text-anchor="middle" textLength="19" lengthAdjust="spacingAndGlyphs">146</text><text x="112.5" y="308" text-anchor="middle" textLength="19" lengthAdjust="spacingAndGlyphs">148</text><text x="191.2" y="308" text-anchor="middle" textLength="19" lengthAdjust="spacingAndGlyphs">150</text><text x="270.0" y="308" text-anchor="middle" textLength="19" lengthAdjust="spacingAndGlyphs">152</text><text x="348.7" y="308" text-anchor="middle" textLength="19" lengthAdjust="spacingAndGlyphs">154</text><text x="427.4" y="308" text-anchor="middle" textLength="19" lengthAdjust="spacingAndGlyphs">156</text></g>
<path d="M243,292 h13 v5 h-13z M247.2,288 h4.7 v13 h-4.7z" fill="#000"/>
<text x="43.0" y="66" font-size="26" textLength="173.4" lengthAdjust="spacingAndGlyphs">85GHz PCT (K)</text>
<text x="439.6" y="522.5" font-size="29" textLength="33.8" lengthAdjust="spacingAndGlyphs">(d)</text>
<rect x="495" y="531.05" width="9" height="8.75" fill="#f8f8f8"/>
<rect x="495" y="522.60" width="9" height="8.75" fill="#f0f0f0"/>
<rect x="495" y="514.15" width="9" height="8.75" fill="#e8e8e8"/>
<rect x="495" y="505.70" width="9" height="8.75" fill="#e0e0e0"/>
<rect x="495" y="497.25" width="9" height="8.75" fill="#d8d8d8"/>
<rect x="495" y="488.80" width="9" height="8.75" fill="#d0d0d0"/>
<rect x="495" y="480.35" width="9" height="8.75" fill="#c8c8c8"/>
<rect x="495" y="471.90" width="9" height="8.75" fill="#bfbfbf"/>
<rect x="495" y="463.45" width="9" height="8.75" fill="#b7b7b7"/>
<rect x="495" y="455.00" width="9" height="8.75" fill="#afafaf"/>
<rect x="495" y="446.55" width="9" height="8.75" fill="#a7a7a7"/>
<rect x="495" y="438.10" width="9" height="8.75" fill="#9f9f9f"/>
<rect x="495" y="429.65" width="9" height="8.75" fill="#979797"/>
<rect x="495" y="421.20" width="9" height="8.75" fill="#8f8f8f"/>
<rect x="495" y="412.75" width="9" height="8.75" fill="#80e080"/>
<rect x="495" y="404.30" width="9" height="8.75" fill="#7ad47a"/>
<rect x="495" y="395.85" width="9" height="8.75" fill="#73c873"/>
<rect x="495" y="387.40" width="9" height="8.75" fill="#6cbc6c"/>
<rect x="495" y="378.95" width="9" height="8.75" fill="#66b066"/>
<rect x="495" y="370.50" width="9" height="8.75" fill="#ccd5ff"/>
<rect x="495" y="362.05" width="9" height="8.75" fill="#b9cfff"/>
<rect x="495" y="353.60" width="9" height="8.75" fill="#a6c8ff"/>
<rect x="495" y="345.15" width="9" height="8.75" fill="#93c2ff"/>
<rect x="495" y="336.70" width="9" height="8.75" fill="#80bcff"/>
<rect x="495" y="328.25" width="9" height="8.75" fill="#5cb0ff"/>
<rect x="495" y="319.80" width="9" height="8.75" fill="#5194ff"/>
<rect x="495" y="311.35" width="9" height="8.75" fill="#4678ff"/>
<rect x="495" y="302.90" width="9" height="8.75" fill="#3b5cff"/>
<rect x="495" y="294.45" width="9" height="8.75" fill="#3040ff"/>
<rect x="495" y="286.00" width="9" height="8.75" fill="#0000ff"/>
<rect x="495" y="277.55" width="9" height="8.75" fill="#0000ec"/>
<rect x="495" y="269.10" width="9" height="8.75" fill="#0000d9"/>
<rect x="495" y="260.65" width="9" height="8.75" fill="#0000c6"/>
<rect x="495" y="252.20" width="9" height="8.75" fill="#0000b3"/>
<rect x="495" y="243.75" width="9" height="8.75" fill="#ffff00"/>
<rect x="495" y="235.30" width="9" height="8.75" fill="#fff200"/>
<rect x="495" y="226.85" width="9" height="8.75" fill="#ffe600"/>
<rect x="495" y="218.40" width="9" height="8.75" fill="#ffd900"/>
<rect x="495" y="209.95" width="9" height="8.75" fill="#ffcc00"/>
<rect x="495" y="201.50" width="9" height="8.75" fill="#ff8c00"/>
<rect x="495" y="193.05" width="9" height="8.75" fill="#ff8200"/>
<rect x="495" y="184.60" width="9" height="8.75" fill="#ff7900"/>
<rect x="495" y="176.15" width="9" height="8.75" fill="#ff7000"/>
<rect x="495" y="167.70" width="9" height="8.75" fill="#ff6600"/>
<rect x="495" y="159.25" width="9" height="8.75" fill="#ff4400"/>
<rect x="495" y="150.80" width="9" height="8.75" fill="#ff3a00"/>
<rect x="495" y="142.35" width="9" height="8.75" fill="#ff2f00"/>
<rect x="495" y="133.90" width="9" height="8.75" fill="#ff2400"/>
<rect x="495" y="125.45" width="9" height="8.75" fill="#ff1a00"/>
<rect x="495" y="117.00" width="9" height="8.75" fill="#c80000"/>
<rect x="495" y="108.55" width="9" height="8.75" fill="#be0000"/>
<rect x="495" y="100.10" width="9" height="8.75" fill="#b40000"/>
<rect x="495" y="91.65" width="9" height="8.75" fill="#aa0000"/>
<rect x="495" y="83.20" width="9" height="8.75" fill="#a00000"/>
<rect x="495" y="74.75" width="9" height="8.75" fill="#661010"/>
<rect x="495" y="66.30" width="9" height="8.75" fill="#621212"/>
<rect x="495" y="57.85" width="9" height="8.75" fill="#5e1414"/>
<rect x="495" y="49.40" width="9" height="8.75" fill="#591616"/>
<rect x="495" y="40.95" width="9" height="8.75" fill="#551818"/>
<rect x="504" y="547.40" width="2.5" height="1.2" fill="#000"/>
<text x="524.5" y="556.60" text-anchor="middle" font-size="20">300</text>
<rect x="504" y="496.65" width="2.5" height="1.2" fill="#000"/>
<text x="524.5" y="505.85" text-anchor="middle" font-size="20">279</text>
<rect x="504" y="445.90" width="2.5" height="1.2" fill="#000"/>
<text x="524.5" y="455.10" text-anchor="middle" font-size="20">258</text>
<rect x="504" y="395.16" width="2.5" height="1.2" fill="#000"/>
<text x="524.5" y="404.36" text-anchor="middle" font-size="20">237</text>
<rect x="504" y="344.41" width="2.5" height="1.2" fill="#000"/>
<text x="524.5" y="353.61" text-anchor="middle" font-size="20">216</text>
<rect x="504" y="293.66" width="2.5" height="1.2" fill="#000"/>
<text x="524.5" y="302.86" text-anchor="middle" font-size="20">195</text>
<rect x="504" y="242.91" width="2.5" height="1.2" fill="#000"/>
<text x="524.5" y="252.11" text-anchor="middle" font-size="20">174</text>
<rect x="504" y="192.16" width="2.5" height="1.2" fill="#000"/>
<text x="524.5" y="201.36" text-anchor="middle" font-size="20">153</text>
<rect x="504" y="141.42" width="2.5" height="1.2" fill="#000"/>
<text x="524.5" y="150.62" text-anchor="middle" font-size="20">132</text>
<rect x="504" y="90.67" width="2.5" height="1.2" fill="#000"/>
<text x="524.5" y="99.87" text-anchor="middle" font-size="20">111</text>
</g>
<g transform="translate(590.33,590.33)">
<g clip-path="url(#mclip)"><clipPath id="sw4"><path d="M13.0,41.0 L335.0,41.0 L486.0,133.0 L486.0,518.9 L478.0,514.4 L470.0,510.0 L462.0,505.5 L454.0,501.0 L446.0,496.5 L438.0,491.9 L430.0,487.4 L422.0,482.8 L414.0,478.2 L406.0,473.6 L398.0,469.0 L390.0,464.4 L382.0,459.7 L374.0,455.1 L366.0,450.4 L358.0,445.7 L350.0,441.0 L342.0,436.3 L334.0,431.5 L326.0,426.7 L318.0,422.0 L310.0,417.2 L302.0,412.3 L294.0,407.5 L286.0,402.7 L278.0,397.8 L270.0,392.9 L262.0,388.0 L254.0,383.1 L246.0,378.2 L238.0,373.2 L230.0,368.3 L222.0,363.3 L214.0,358.3 L206.0,353.3 L198.0,348.2 L190.0,343.2 L182.0,338.1 L174.0,333.0 L166.0,328.0 L158.0,322.8 L150.0,317.7 L142.0,312.6 L134.0,307.4 L126.0,302.2 L118.0,297.0 L110.0,291.8 L102.0,286.6 L94.0,281.3 L86.0,276.1 L78.0,270.8 L70.0,265.5 L62.0,260.2 L54.0,254.8 L46.0,249.5 L38.0,244.1 L30.0,238.7 L22.0,233.3 L14.0,227.9 L13.0,227.3Z"/></clipPath><g clip-path="url(#sw4)"><path d="M13.0,41.0 L335.0,41.0 L486.0,133.0 L486.0,518.9 L478.0,514.4 L470.0,510.0 L462.0,505.5 L454.0,501.0 L446.0,496.5 L438.0,491.9 L430.0,487.4 L422.0,482.8 L414.0,478.2 L406.0,473.6 L398.0,469.0 L390.0,464.4 L382.0,459.7 L374.0,455.1 L366.0,450.4 L358.0,445.7 L350.0,441.0 L342.0,436.3 L334.0,431.5 L326.0,426.7 L318.0,422.0 L310.0,417.2 L302.0,412.3 L294.0,407.5 L286.0,402.7 L278.0,397.8 L270.0,392.9 L262.0,388.0 L254.0,383.1 L246.0,378.2 L238.0,373.2 L230.0,368.3 L222.0,363.3 L214.0,358.3 L206.0,353.3 L198.0,348.2 L190.0,343.2 L182.0,338.1 L174.0,333.0 L166.0,328.0 L158.0,322.8 L150.0,317.7 L142.0,312.6 L134.0,307.4 L126.0,302.2 L118.0,297.0 L110.0,291.8 L102.0,286.6 L94.0,281.3 L86.0,276.1 L78.0,270.8 L70.0,265.5 L62.0,260.2 L54.0,254.8 L46.0,249.5 L38.0,244.1 L30.0,238.7 L22.0,233.3 L14.0,227.9 L13.0,227.3Z" fill="#78d078"/><path d="M13.1,41.0 L176.2,41.0 L183.7,82.0 L164.5,129.6 L148.7,176.9 L152.0,219.7 L125.3,221.2 L88.5,216.4 L61.9,192.7 L41.3,113.7 L29.6,89.5 L13.1,80.5Z" fill="#98b898"/><path d="M23.6,41.0 L161.2,41.0 L161.2,83.5 L149.3,128.4 L137.3,170.3 L125.3,191.2 L98.4,170.3 L74.5,128.4 L53.5,89.5 L35.6,62.6Z" fill="#9eaa9e"/><path d="M13.1,113.4 L35.6,110.5 L41.6,155.3 L50.5,197.2 L13.1,197.2Z" fill="#a8c8e8"/><path d="M13.1,149.4 L23.6,155.3 L25.1,167.3 L13.1,171.8Z" fill="#2030d0"/><path d="M86.0,220.5 L114.8,220.5 L133.4,227.3 L157.1,237.4 L167.3,220.5 L174.1,196.8 L199.5,201.9 L224.9,215.4 L250.3,225.6 L304.7,225.6 L304.5,240.7 L325.2,254.0 L338.7,240.5 L359.1,223.5 L376.0,210.0 L401.4,210.0 L418.4,196.4 L435.3,193.1 L460.7,196.4 L486.1,223.5 L485.9,239.1 L485.9,520.4 L222.6,366.3 L191.0,344.2 L165.6,322.1 L131.7,298.4 L106.3,279.8 L96.1,257.8Z" fill="#a2c2ec"/><path d="M396.3,393.0 L399.7,369.2 L409.9,352.3 L423.4,338.7 L443.8,330.3 L460.7,325.2 L486.1,321.8 L486.1,401.4 L460.7,406.5 L435.3,401.4 L418.4,401.4Z" fill="#78d078"/><path d="M418.4,284.5 L435.3,277.8 L447.2,265.9 L460.7,249.0 L486.1,245.6 L486.1,308.3 L460.7,311.6 L443.8,308.3 L426.8,299.8Z" fill="#80cc88"/><path d="M330.3,298.1 L333.7,269.3 L350.6,262.5 L359.1,277.8 L352.3,298.1Z" fill="#88cc90"/><path d="M369.2,271.0 L384.5,245.6 L401.4,240.5 L409.9,260.8 L398.0,271.0 L376.0,277.8Z" fill="#8ccc98"/><path d="M86.0,220.5 L114.8,220.5 L133.4,227.3 L157.1,237.4 L165.6,254.4 L174.1,288.3 L182.5,322.1 L191.0,344.2 L165.6,325.5 L131.7,298.4 L106.3,279.8 L96.1,257.8Z" fill="#a4ccc4"/><path d="M406.5,257.4 L435.3,245.6 L460.7,245.6 L486.1,257.4 L486.1,311.6 L452.2,315.0 L430.2,301.5 L415.0,284.5Z" fill="#84cc8c"/><path d="M429.7,113.0 L446.3,109.7 L466.3,139.7 L486.3,173.0 L486.3,233.0 L473.0,229.7 L459.7,186.3 L439.7,146.3Z" fill="#98bce8"/><path d="M333.0,126.3 L343.0,123.0 L366.3,159.7 L359.7,166.3 L339.7,146.3Z" fill="#a8c8e8"/><path d="M279.7,86.3 L299.7,99.7 L316.3,139.7 L306.3,143.0 L283.0,106.3Z" fill="#a8cce0"/><path d="M299.7,159.7 L319.7,156.3 L333.0,186.3 L316.3,189.7Z" fill="#98b8e8"/><path d="M174.1,251.0 L208.0,240.8 L233.4,254.4 L258.8,245.9 L304.7,240.8 L304.7,413.6 L221.5,364.5 L191.0,344.2 L182.5,288.3Z" fill="#a8c4fa"/><path d="M189.7,245.6 L232.0,245.6 L265.9,250.7 L291.3,245.6 L308.3,254.0 L328.6,260.8 L332.0,308.3 L342.1,328.6 L359.1,318.4 L372.6,308.3 L384.5,318.4 L401.4,318.4 L409.9,348.9 L399.7,369.2 L396.3,393.0 L401.4,409.9 L486.1,409.9 L485.9,538.3 L179.2,538.3Z" fill="#9fbdf8"/><path d="M187.6,322.1 L201.2,274.7 L224.9,257.8 L250.3,252.7 L275.7,261.1 L304.7,274.7 L304.7,381.4 L275.7,376.3 L241.8,366.2 L213.0,356.0 L191.0,342.5Z" fill="#7c9cf6"/><path d="M284.5,308.3 L298.1,284.5 L318.4,277.8 L342.1,291.3 L359.1,308.3 L376.0,294.7 L393.0,267.6 L413.3,277.8 L420.1,308.3 L401.4,325.2 L393.0,342.1 L393.0,359.1 L376.0,384.5 L350.6,398.0 L316.7,393.0 L291.3,367.5Z" fill="#7c9cf6"/><path d="M387.9,409.9 L409.9,418.4 L416.7,435.3 L413.3,452.2 L426.8,460.7 L447.2,467.5 L440.4,477.7 L418.4,470.9 L403.1,453.9 L406.5,435.3 L393.0,423.4Z" fill="#4a6cf0"/><path d="M469.2,409.9 L486.1,406.5 L486.1,415.0 L470.9,416.7Z" fill="#3050ff"/><path d="M216.8,284.5 L223.5,271.0 L237.1,262.5 L254.0,260.8 L265.9,267.6 L269.3,277.8 L277.8,271.0 L287.9,274.4 L296.4,291.3 L298.1,316.7 L296.4,337.0 L306.6,338.7 L308.3,350.6 L298.1,359.1 L284.5,359.1 L269.3,357.4 L254.0,355.7 L237.1,348.9 L220.2,338.7 L206.6,325.2 L210.0,308.3 L215.1,294.7Z" fill="#1414d2"/><path d="M206.6,325.2 L220.2,338.7 L206.6,338.7 L196.4,328.6Z" fill="#4060f0"/><path d="M230.3,276.1 L240.5,269.3 L254.0,269.3 L262.5,276.1 L264.2,287.9 L257.4,291.3 L243.9,289.6 L232.0,291.3 L227.8,284.5Z" fill="#a8c0ff"/><path d="M342.1,330.3 L352.3,328.6 L367.5,333.7 L384.5,333.7 L389.6,338.7 L376.0,350.6 L369.2,367.5 L359.1,382.8 L342.1,389.6 L325.2,387.9 L311.6,381.1 L318.4,359.1 L325.2,352.3 L338.7,352.3 L342.1,342.1Z" fill="#1414d2"/><path d="M287.9,364.2 L299.8,359.1 L308.3,369.2 L304.9,376.0 L291.3,374.3Z" fill="#2030e0"/><path d="M369.2,284.5 L384.5,277.8 L398.0,272.7 L409.9,287.9 L415.0,299.8 L406.5,311.6 L393.0,311.6 L381.1,304.9 L370.9,294.7Z" fill="#1414d2"/><path d="M409.9,318.4 L426.8,315.0 L443.8,311.6 L450.6,318.4 L435.3,328.6 L415.0,330.3 L404.8,325.2Z" fill="#2030e0"/><path d="M406.5,218.5 L416.7,213.4 L430.2,216.8 L426.8,225.2 L413.3,226.9Z" fill="#2030e0"/><path d="M430.2,201.5 L443.8,198.1 L450.6,204.9 L438.7,211.7 L430.2,208.3Z" fill="#2030e0"/><path d="M360.8,230.3 L369.2,225.2 L374.3,237.1 L365.8,242.2 L359.1,238.8Z" fill="#2838e0"/><path d="M342.1,284.5 L348.9,264.2 L357.4,260.8 L355.7,277.8 L345.5,291.3Z" fill="#3048e8"/><path d="M133.4,225.6 L140.2,223.9 L152.0,232.3 L153.7,240.8 L140.2,240.8 L133.4,234.0Z" fill="#2030e0"/><path d="M240.5,294.7 L257.4,293.0 L260.8,301.5 L249.0,306.6 L242.2,301.5Z" fill="#ffe000"/><path d="M350.6,333.7 L359.1,333.7 L367.5,338.7 L386.2,337.0 L386.2,342.1 L367.5,343.8 L357.4,348.9 L350.6,342.1Z" fill="#ffe000"/><path d="M393.0,299.8 L398.0,296.4 L401.4,308.3 L394.6,306.6Z" fill="#ffe000"/><path d="M415.0,218.5 L425.1,220.2 L423.4,225.2 L415.0,223.5Z" fill="#ffe000"/><path d="M328.6,360.8 L337.0,360.8 L338.7,376.0 L330.3,376.0Z" fill="#c8d000"/><path d="M133.4,229.0 L140.2,227.3 L141.9,237.4 L135.1,235.7Z" fill="#ffa000"/></g></g>
<g stroke="#000" stroke-width="1.25" stroke-dasharray="3.2 5.07"><line x1="33.8" y1="41" x2="33.8" y2="548"/><line x1="112.5" y1="41" x2="112.5" y2="548"/><line x1="191.2" y1="41" x2="191.2" y2="548"/><line x1="270.0" y1="41" x2="270.0" y2="548"/><line x1="348.7" y1="41" x2="348.7" y2="548"/><line x1="427.4" y1="41" x2="427.4" y2="548"/><line x1="13" y1="75.7" x2="486" y2="75.7"/><line x1="13" y1="160.2" x2="486" y2="160.2"/><line x1="13" y1="244.7" x2="486" y2="244.7"/><line x1="13" y1="329.2" x2="486" y2="329.2"/><line x1="13" y1="413.7" x2="486" y2="413.7"/><line x1="13" y1="498.2" x2="486" y2="498.2"/></g><g clip-path="url(#mclip)" fill="none" stroke="#000" stroke-width="1.1" stroke-dasharray="12.5 11.1"><path d="M124.4,41.0 L128.4,43.8 L132.4,46.5 L136.4,49.3 L140.4,52.0 L144.4,54.8 L148.4,57.5 L152.4,60.2 L156.4,62.9 L160.4,65.6 L164.4,68.3 L168.4,71.0 L172.4,73.7 L176.4,76.4 L180.4,79.1 L184.4,81.8 L188.4,84.5 L192.4,87.1 L196.4,89.8 L200.4,92.5 L204.4,95.1 L208.4,97.8 L212.4,100.4 L216.4,103.1 L220.4,105.7 L224.4,108.3 L228.4,111.0 L232.4,113.6 L236.4,116.2 L240.4,118.8 L244.4,121.4 L248.4,124.0 L252.4,126.6 L256.4,129.2 L260.4,131.8 L264.4,134.4 L268.4,137.0 L272.4,139.5 L276.4,142.1 L280.4,144.6 L284.4,147.2 L288.4,149.8 L292.4,152.3 L296.4,154.8 L300.4,157.4 L304.4,159.9 L308.4,162.4 L312.4,164.9 L316.4,167.5 L320.4,170.0 L324.4,172.5 L328.4,175.0 L332.4,177.5 L336.4,180.0 L340.4,182.4 L344.4,184.9 L348.4,187.4 L352.4,189.9 L356.4,192.3 L360.4,194.8 L364.4,197.3 L368.4,199.7 L372.4,202.1 L376.4,204.6 L380.4,207.0 L384.4,209.4 L388.4,211.9 L392.4,214.3 L396.4,216.7 L400.4,219.1 L404.4,221.5 L408.4,223.9 L412.4,226.3 L416.4,228.7 L420.4,231.1 L424.4,233.5 L428.4,235.8 L432.4,238.2 L436.4,240.6 L440.4,242.9 L444.4,245.3 L448.4,247.6 L452.4,250.0 L456.4,252.3 L460.4,254.6 L464.4,257.0 L468.4,259.3 L472.4,261.6 L476.4,263.9 L480.4,266.2 L484.4,268.5"/><path d="M13.0,76.7 L17.0,79.5 L21.0,82.3 L25.0,85.1 L29.0,87.9 L33.0,90.7 L37.0,93.5 L41.0,96.3 L45.0,99.1 L49.0,101.9 L53.0,104.7 L57.0,107.4 L61.0,110.2 L65.0,113.0 L69.0,115.7 L73.0,118.5 L77.0,121.2 L81.0,124.0 L85.0,126.7 L89.0,129.5 L93.0,132.2 L97.0,134.9 L101.0,137.7 L105.0,140.4 L109.0,143.1 L113.0,145.8 L117.0,148.5 L121.0,151.2 L125.0,153.9 L129.0,156.6 L133.0,159.3 L137.0,162.0 L141.0,164.6 L145.0,167.3 L149.0,170.0 L153.0,172.6 L157.0,175.3 L161.0,178.0 L165.0,180.6 L169.0,183.3 L173.0,185.9 L177.0,188.5 L181.0,191.2 L185.0,193.8 L189.0,196.4 L193.0,199.0 L197.0,201.6 L201.0,204.3 L205.0,206.9 L209.0,209.5 L213.0,212.1 L217.0,214.6 L221.0,217.2 L225.0,219.8 L229.0,222.4 L233.0,225.0 L237.0,227.5 L241.0,230.1 L245.0,232.6 L249.0,235.2 L253.0,237.7 L257.0,240.3 L261.0,242.8 L265.0,245.4 L269.0,247.9 L273.0,250.4 L277.0,252.9 L281.0,255.5 L285.0,258.0 L289.0,260.5 L293.0,263.0 L297.0,265.5 L301.0,268.0 L305.0,270.5 L309.0,272.9 L313.0,275.4 L317.0,277.9 L321.0,280.4 L325.0,282.8 L329.0,285.3 L333.0,287.8 L337.0,290.2 L341.0,292.6 L345.0,295.1 L349.0,297.5 L353.0,300.0 L357.0,302.4 L361.0,304.8 L365.0,307.2 L369.0,309.7 L373.0,312.1 L377.0,314.5 L381.0,316.9 L385.0,319.3 L389.0,321.7 L393.0,324.0 L397.0,326.4 L401.0,328.8 L405.0,331.2 L409.0,333.5 L413.0,335.9 L417.0,338.3 L421.0,340.6 L425.0,343.0 L429.0,345.3 L433.0,347.7 L437.0,350.0 L441.0,352.3 L445.0,354.7 L449.0,357.0 L453.0,359.3 L457.0,361.6 L461.0,363.9 L465.0,366.2 L469.0,368.5 L473.0,370.8 L477.0,373.1 L481.0,375.4 L485.0,377.7"/></g><path d="M13.0,97.3 L16.8,103.5 L22.1,108.8 L24.5,113.1 L25.0,116.5 L27.8,113.1 L30.7,113.1 L31.2,116.0 L29.3,119.4 L30.7,125.1 L36.0,134.7 L39.4,145.3 L37.4,151.0 L37.0,158.7 L33.6,166.4 L34.6,171.2 L39.4,176.0 L42.2,180.8 L47.0,183.2 L45.1,190.4 L44.6,198.1 L49.9,203.8 L58.6,209.6 L67.2,214.4 L69.1,215.3 L72.0,214.4 L73.9,211.0 L75.8,213.4 L78.2,219.2 L84.5,220.6 L89.3,218.2 L89.7,215.8 L95.0,226.9 L96.9,233.6 L99.8,237.4 L103.2,237.4 L104.1,233.1 L108.5,239.3 L112.3,242.2 L116.1,240.3 L122.4,244.1 L122.7,243.6 L123.6,248.6 L129.5,252.9 L129.9,248.2 L133.3,248.2 L135.4,250.3 L137.1,252.4 L138.8,254.6 L140.5,255.4 L143.5,255.4 L144.7,257.1 L146.0,261.8 L148.5,265.6 L148.5,267.3 L143.9,264.7 L140.1,263.9 L140.1,266.4 L138.4,269.4 L142.2,275.7 L145.6,278.3 L145.6,282.1 L146.8,280.4 L153.2,282.9 L154.0,285.1 L160.0,288.9 L161.2,291.0 L160.0,293.5 L160.0,297.8 L162.9,299.5 L164.6,304.5 L163.8,309.2 L168.4,310.5 L171.0,310.5 L169.7,312.6 L170.6,318.9 L169.3,321.5 L171.4,328.2 L173.1,335.9 L178.6,345.2 L179.5,348.6 L179.0,349.4 L181.1,349.0 L183.7,346.5 L186.2,348.6 L190.5,354.5 L191.7,356.2 L192.2,353.2 L190.9,348.6 L188.8,344.3 L188.3,340.1 L190.0,336.7 L193.8,336.3 L199.8,346.0 L204.9,348.6 L213.8,354.1 L212.5,348.6 L212.9,344.8 L215.9,343.9 L218.0,346.5 L220.1,351.1 L222.2,352.8 L222.2,355.3 L223.5,361.3 L221.0,368.9 L221.0,374.0 L222.6,380.0 L221.3,375.1 L221.8,378.5 L224.3,383.1 L222.6,386.1 L223.9,389.5 L224.7,394.6 L228.5,395.0 L233.2,397.9 L236.2,403.0 L239.1,406.4 L244.2,409.4 L246.7,412.3 L252.7,415.7 L256.1,416.2 L257.8,414.9 L262.8,420.0 L265.8,420.8 L269.2,426.7 L270.5,432.7 L275.5,440.3 L281.5,444.1 L287.4,446.6 L289.1,449.6 L289.9,456.4 L295.0,464.0 L298.4,467.0 L304.3,468.7 L306.5,472.5 L304.8,475.0 L307.3,476.7 L305.6,481.0 L306.0,486.9 L308.6,490.3 L309.3,490.0 L310.7,492.7 L310.9,496.3 L311.1,493.6 L312.5,492.5 L316.3,498.1 L315.2,501.7 L313.8,504.9 L312.9,508.1 L312.2,511.7 L314.5,515.1 L314.3,518.9 L313.4,521.6 L314.0,527.5 L315.4,528.8 L315.8,537.9 L317.0,541.5 L316.5,545.1 L312.5,545.3 L311.3,548.3" fill="none" stroke="#000" stroke-width="1.2" stroke-linejoin="round"/><g font-size="12.5"><text x="250" y="75.2" text-anchor="middle" textLength="18" lengthAdjust="spacingAndGlyphs">-16</text><text x="250" y="159.7" text-anchor="middle" textLength="18" lengthAdjust="spacingAndGlyphs">-18</text><text x="250" y="244.2" text-anchor="middle" textLength="18" lengthAdjust="spacingAndGlyphs">-20</text><text x="250" y="328.7" text-anchor="middle" textLength="18" lengthAdjust="spacingAndGlyphs">-22</text><text x="250" y="413.2" text-anchor="middle" textLength="18" lengthAdjust="spacingAndGlyphs">-24</text><text x="250" y="497.7" text-anchor="middle" textLength="18" lengthAdjust="spacingAndGlyphs">-26</text><text x="33.8" y="308" text-anchor="middle" textLength="19" lengthAdjust="spacingAndGlyphs">146</text><text x="112.5" y="308" text-anchor="middle" textLength="19" lengthAdjust="spacingAndGlyphs">148</text><text x="191.2" y="308" text-anchor="middle" textLength="19" lengthAdjust="spacingAndGlyphs">150</text><text x="270.0" y="308" text-anchor="middle" textLength="19" lengthAdjust="spacingAndGlyphs">152</text><text x="348.7" y="308" text-anchor="middle" textLength="19" lengthAdjust="spacingAndGlyphs">154</text><text x="427.4" y="308" text-anchor="middle" textLength="19" lengthAdjust="spacingAndGlyphs">156</text></g>
<path d="M243,292 h13 v5 h-13z M247.2,288 h4.7 v13 h-4.7z" fill="#000"/>
<text x="43.0" y="66" font-size="26" textLength="173.4" lengthAdjust="spacingAndGlyphs">37GHz PCT (K)</text>
<text x="439.6" y="522.5" font-size="29" textLength="33.8" lengthAdjust="spacingAndGlyphs">(e)</text>
<rect x="495" y="531.05" width="9" height="8.75" fill="#f8f8f8"/>
<rect x="495" y="522.60" width="9" height="8.75" fill="#f0f0f0"/>
<rect x="495" y="514.15" width="9" height="8.75" fill="#e8e8e8"/>
<rect x="495" y="505.70" width="9" height="8.75" fill="#e0e0e0"/>
<rect x="495" y="497.25" width="9" height="8.75" fill="#d8d8d8"/>
<rect x="495" y="488.80" width="9" height="8.75" fill="#d0d0d0"/>
<rect x="495" y="480.35" width="9" height="8.75" fill="#c8c8c8"/>
<rect x="495" y="471.90" width="9" height="8.75" fill="#bfbfbf"/>
<rect x="495" y="463.45" width="9" height="8.75" fill="#b7b7b7"/>
<rect x="495" y="455.00" width="9" height="8.75" fill="#afafaf"/>
<rect x="495" y="446.55" width="9" height="8.75" fill="#a7a7a7"/>
<rect x="495" y="438.10" width="9" height="8.75" fill="#9f9f9f"/>
<rect x="495" y="429.65" width="9" height="8.75" fill="#979797"/>
<rect x="495" y="421.20" width="9" height="8.75" fill="#8f8f8f"/>
<rect x="495" y="412.75" width="9" height="8.75" fill="#80e080"/>
<rect x="495" y="404.30" width="9" height="8.75" fill="#7ad47a"/>
<rect x="495" y="395.85" width="9" height="8.75" fill="#73c873"/>
<rect x="495" y="387.40" width="9" height="8.75" fill="#6cbc6c"/>
<rect x="495" y="378.95" width="9" height="8.75" fill="#66b066"/>
<rect x="495" y="370.50" width="9" height="8.75" fill="#ccd5ff"/>
<rect x="495" y="362.05" width="9" height="8.75" fill="#b9cfff"/>
<rect x="495" y="353.60" width="9" height="8.75" fill="#a6c8ff"/>
<rect x="495" y="345.15" width="9" height="8.75" fill="#93c2ff"/>
<rect x="495" y="336.70" width="9" height="8.75" fill="#80bcff"/>
<rect x="495" y="328.25" width="9" height="8.75" fill="#5cb0ff"/>
<rect x="495" y="319.80" width="9" height="8.75" fill="#5194ff"/>
<rect x="495" y="311.35" width="9" height="8.75" fill="#4678ff"/>
<rect x="495" y="302.90" width="9" height="8.75" fill="#3b5cff"/>
<rect x="495" y="294.45" width="9" height="8.75" fill="#3040ff"/>
<rect x="495" y="286.00" width="9" height="8.75" fill="#0000ff"/>
<rect x="495" y="277.55" width="9" height="8.75" fill="#0000ec"/>
<rect x="495" y="269.10" width="9" height="8.75" fill="#0000d9"/>
<rect x="495" y="260.65" width="9" height="8.75" fill="#0000c6"/>
<rect x="495" y="252.20" width="9" height="8.75" fill="#0000b3"/>
<rect x="495" y="243.75" width="9" height="8.75" fill="#ffff00"/>
<rect x="495" y="235.30" width="9" height="8.75" fill="#fff200"/>
<rect x="495" y="226.85" width="9" height="8.75" fill="#ffe600"/>
<rect x="495" y="218.40" width="9" height="8.75" fill="#ffd900"/>
<rect x="495" y="209.95" width="9" height="8.75" fill="#ffcc00"/>
<rect x="495" y="201.50" width="9" height="8.75" fill="#ff8c00"/>
<rect x="495" y="193.05" width="9" height="8.75" fill="#ff8200"/>
<rect x="495" y="184.60" width="9" height="8.75" fill="#ff7900"/>
<rect x="495" y="176.15" width="9" height="8.75" fill="#ff7000"/>
<rect x="495" y="167.70" width="9" height="8.75" fill="#ff6600"/>
<rect x="495" y="159.25" width="9" height="8.75" fill="#ff4400"/>
<rect x="495" y="150.80" width="9" height="8.75" fill="#ff3a00"/>
<rect x="495" y="142.35" width="9" height="8.75" fill="#ff2f00"/>
<rect x="495" y="133.90" width="9" height="8.75" fill="#ff2400"/>
<rect x="495" y="125.45" width="9" height="8.75" fill="#ff1a00"/>
<rect x="495" y="117.00" width="9" height="8.75" fill="#c80000"/>
<rect x="495" y="108.55" width="9" height="8.75" fill="#be0000"/>
<rect x="495" y="100.10" width="9" height="8.75" fill="#b40000"/>
<rect x="495" y="91.65" width="9" height="8.75" fill="#aa0000"/>
<rect x="495" y="83.20" width="9" height="8.75" fill="#a00000"/>
<rect x="495" y="74.75" width="9" height="8.75" fill="#661010"/>
<rect x="495" y="66.30" width="9" height="8.75" fill="#621212"/>
<rect x="495" y="57.85" width="9" height="8.75" fill="#5e1414"/>
<rect x="495" y="49.40" width="9" height="8.75" fill="#591616"/>
<rect x="495" y="40.95" width="9" height="8.75" fill="#551818"/>
<rect x="504" y="547.40" width="2.5" height="1.2" fill="#000"/>
<text x="524.5" y="556.60" text-anchor="middle" font-size="20">315</text>
<rect x="504" y="496.65" width="2.5" height="1.2" fill="#000"/>
<text x="524.5" y="505.85" text-anchor="middle" font-size="20">306</text>
<rect x="504" y="445.90" width="2.5" height="1.2" fill="#000"/>
<text x="524.5" y="455.10" text-anchor="middle" font-size="20">297</text>
<rect x="504" y="395.16" width="2.5" height="1.2" fill="#000"/>
<text x="524.5" y="404.36" text-anchor="middle" font-size="20">288</text>
<rect x="504" y="344.41" width="2.5" height="1.2" fill="#000"/>
<text x="524.5" y="353.61" text-anchor="middle" font-size="20">279</text>
<rect x="504" y="293.66" width="2.5" height="1.2" fill="#000"/>
<text x="524.5" y="302.86" text-anchor="middle" font-size="20">270</text>
<rect x="504" y="242.91" width="2.5" height="1.2" fill="#000"/>
<text x="524.5" y="252.11" text-anchor="middle" font-size="20">261</text>
<rect x="504" y="192.16" width="2.5" height="1.2" fill="#000"/>
<text x="524.5" y="201.36" text-anchor="middle" font-size="20">252</text>
<rect x="504" y="141.42" width="2.5" height="1.2" fill="#000"/>
<text x="524.5" y="150.62" text-anchor="middle" font-size="20">243</text>
<rect x="504" y="90.67" width="2.5" height="1.2" fill="#000"/>
<text x="524.5" y="99.87" text-anchor="middle" font-size="20">234</text>
</g>
<g transform="translate(1180.67,590.33)">
<g clip-path="url(#mclip)"><path d="M152.9,191.2 L170.9,183.8 L194.8,185.3 L209.8,197.2 L223.3,207.7 L221.8,218.2 L209.8,227.2 L215.8,239.1 L209.8,251.1 L203.8,266.1 L194.8,278.0 L185.9,287.0 L179.9,275.0 L185.9,257.1 L191.8,239.1 L188.8,221.2 L179.9,209.2 L161.9,206.2 L155.9,200.2Z" fill="#84d884" stroke="#000" stroke-width="1.3" stroke-linejoin="round"/><path d="M173.9,281.0 L179.9,275.0 L194.8,284.0 L209.8,293.0 L215.8,278.0 L221.8,263.1 L236.7,251.1 L257.7,245.1 L269.6,257.1 L278.6,263.1 L299.6,257.1 L329.5,245.1 L344.4,245.1 L356.4,221.2 L368.4,206.2 L380.3,218.2 L371.4,245.1 L389.3,266.1 L413.3,269.0 L419.2,284.0 L413.3,299.0 L431.2,310.9 L455.2,310.9 L486.6,305.0 L486.6,322.9 L449.2,331.9 L428.2,334.9 L401.3,340.9 L398.3,358.8 L389.3,370.8 L389.3,382.7 L359.4,382.7 L329.5,376.8 L287.6,376.8 L266.6,370.8 L245.7,364.8 L239.7,352.8 L221.8,340.9 L206.8,328.9 L194.8,316.9 L179.9,299.0Z" fill="#84d884" stroke="#000" stroke-width="1.3" stroke-linejoin="round"/><path d="M239.7,367.8 L260.7,376.8 L284.6,385.7 L314.5,394.7 L344.4,394.7 L359.4,400.7 L365.4,385.7 L374.4,397.7 L398.3,403.7 L425.2,415.7 L449.2,406.7 L486.6,385.7 L486.6,493.5 L464.1,496.5 L443.2,484.5 L419.2,475.5 L404.3,469.5 L389.3,460.5 L359.4,448.6 L329.5,430.6 L299.6,418.7 L269.6,397.7 L245.7,379.8Z" fill="#84d884" stroke="#000" stroke-width="1.3" stroke-linejoin="round"/><path d="M428.2,116.4 L443.2,119.4 L452.2,137.4 L464.1,164.3 L467.1,203.2 L449.2,215.2 L428.2,224.2 L431.2,239.1 L413.3,236.1 L395.3,239.1 L377.4,248.1 L368.4,239.1 L380.3,224.2 L398.3,209.2 L419.2,200.2 L434.2,179.3 L431.2,149.4Z" fill="#84d884" stroke="#000" stroke-width="1.3" stroke-linejoin="round"/><path d="M308.5,209.2 L323.5,206.2 L338.5,251.1 L329.5,257.1 L311.5,221.2Z" fill="#84d884" stroke="#000" stroke-width="1.3" stroke-linejoin="round"/><path d="M263.6,170.3 L275.6,176.3 L287.6,197.2 L281.6,200.2 L263.6,179.3Z" fill="#84d884" stroke="#000" stroke-width="1.3" stroke-linejoin="round"/><path d="M284.6,155.3 L299.6,158.3 L317.5,197.2 L311.5,200.2 L287.6,167.3Z" fill="#84d884" stroke="#000" stroke-width="1.3" stroke-linejoin="round"/><path d="M314.5,152.3 L323.5,158.3 L329.5,188.3 L323.5,191.2 L311.5,170.3Z" fill="#84d884" stroke="#000" stroke-width="1.3" stroke-linejoin="round"/><path d="M353.4,158.3 L368.4,167.3 L371.4,182.3 L362.4,185.3 L353.4,170.3Z" fill="#84d884" stroke="#000" stroke-width="1.3" stroke-linejoin="round"/><path d="M341.4,134.4 L359.4,143.4 L356.4,149.4 L341.4,143.4Z" fill="#84d884" stroke="#000" stroke-width="1.3" stroke-linejoin="round"/><path d="M197.8,89.5 L209.8,92.5 L224.8,101.5 L209.8,101.5Z" fill="#84d884" stroke="#000" stroke-width="1.3" stroke-linejoin="round"/><path d="M278.6,98.5 L290.6,116.4 L284.6,125.4 L275.6,107.5Z" fill="#84d884" stroke="#000" stroke-width="1.3" stroke-linejoin="round"/><path d="M335.5,113.4 L347.4,116.4 L344.4,122.4 L335.5,119.4Z" fill="#84d884" stroke="#000" stroke-width="1.3" stroke-linejoin="round"/><path d="M473.1,209.2 L485.1,212.2 L479.1,221.2 L473.1,218.2Z" fill="#84d884" stroke="#000" stroke-width="1.3" stroke-linejoin="round"/><path d="M108.1,218.2 L132.0,218.2 L147.0,218.2 L155.9,227.2 L158.9,239.1 L149.9,242.1 L132.0,239.1 L120.0,227.2Z" fill="#84d884" stroke="#000" stroke-width="1.3" stroke-linejoin="round"/><path d="M13.8,149.4 L27.3,152.3 L27.3,164.3 L18.3,179.3 L13.8,179.3Z" fill="#84d884" stroke="#000" stroke-width="1.3" stroke-linejoin="round"/><path d="M99.1,245.1 L108.1,251.1 L105.1,254.1Z" fill="#84d884" stroke="#000" stroke-width="1.3" stroke-linejoin="round"/><path d="M120.0,257.1 L132.0,260.1 L126.0,263.1Z" fill="#84d884" stroke="#000" stroke-width="1.3" stroke-linejoin="round"/><path d="M224.8,233.1 L263.6,236.1 L269.6,248.1 L260.7,251.1 L239.7,242.1Z" fill="#84d884" stroke="#000" stroke-width="1.3" stroke-linejoin="round"/><path d="M269.6,227.2 L281.6,239.1 L269.6,239.1Z" fill="#84d884" stroke="#000" stroke-width="1.3" stroke-linejoin="round"/><path d="M341.4,197.2 L350.4,200.2 L347.4,212.2 L341.4,209.2Z" fill="#84d884" stroke="#000" stroke-width="1.3" stroke-linejoin="round"/><path d="M305.5,224.2 L311.5,227.2 L308.5,233.1Z" fill="#84d884" stroke="#000" stroke-width="1.3" stroke-linejoin="round"/><path d="M323.5,278.0 L338.5,275.0 L341.4,287.0 L329.5,293.0 L320.5,287.0Z" fill="#fff" stroke="#000" stroke-width="1.3" stroke-linejoin="round"/><path d="M302.5,316.9 L323.5,307.9 L329.5,316.9 L353.4,319.9 L350.4,328.9 L332.5,325.9 L314.5,325.9Z" fill="#fff" stroke="#000" stroke-width="1.3" stroke-linejoin="round"/><path d="M314.5,334.9 L329.5,331.9 L335.5,340.9 L317.5,343.9Z" fill="#fff" stroke="#000" stroke-width="1.3" stroke-linejoin="round"/><path d="M359.4,310.9 L401.3,319.9 L407.3,322.9 L386.3,325.9 L365.4,319.9Z" fill="#fff" stroke="#000" stroke-width="1.3" stroke-linejoin="round"/><path d="M197.8,310.9 L209.8,313.9 L209.8,319.9 L200.8,319.9Z" fill="#fff" stroke="#000" stroke-width="1.3" stroke-linejoin="round"/><path d="M320.5,412.7 L338.5,418.7 L338.5,427.6 L323.5,424.6Z" fill="#fff" stroke="#000" stroke-width="1.3" stroke-linejoin="round"/><path d="M434.2,421.6 L464.1,415.7 L473.1,427.6 L486.6,436.6 L486.6,457.6 L449.2,451.6 L434.2,442.6Z" fill="#fff" stroke="#000" stroke-width="1.3" stroke-linejoin="round"/><path d="M389.3,433.6 L401.3,436.6 L398.3,445.6 L389.3,442.6Z" fill="#fff" stroke="#000" stroke-width="1.3" stroke-linejoin="round"/><path d="M227.7,269.0 L251.7,257.1 L269.6,266.1 L263.6,299.0 L254.7,316.9 L236.7,307.9 L230.7,290.0Z" fill="#a0cce0"/><path d="M239.7,284.0 L257.7,284.0 L257.7,305.0 L242.7,302.0Z" fill="#4a70e8"/><path d="M251.7,260.1 L263.6,260.1 L266.6,269.0 L254.7,269.0Z" fill="#3a60e0"/><path d="M338.5,263.1 L359.4,257.1 L389.3,287.0 L389.3,307.9 L365.4,305.0 L344.4,293.0Z" fill="#a4d0d8"/><path d="M299.6,334.9 L344.4,328.9 L389.3,331.9 L386.3,346.8 L353.4,364.8 L323.5,361.8 L305.5,349.8Z" fill="#98c4dc"/><path d="M344.4,337.9 L374.4,334.9 L371.4,346.8 L347.4,349.8Z" fill="#5a80e8"/><path d="M413.3,218.2 L431.2,215.2 L428.2,224.2 L416.3,227.2Z" fill="#6090e8"/><path d="M440.2,143.4 L452.2,143.4 L452.2,164.3 L443.2,164.3Z" fill="#b0d8d0"/><path d="M179.9,197.2 L209.8,203.2 L209.8,215.2 L185.9,212.2Z" fill="#b0d8c8"/><path d="M132.0,227.2 L144.0,224.2 L147.0,239.1 L135.0,239.1Z" fill="#7aa0e0"/><ellipse cx="384.5" cy="306.7" rx="4.7" ry="6.0" fill="none" stroke="#000" stroke-width="1.3" transform="rotate(25 384.5 306.7)"/><ellipse cx="462.6" cy="309.4" rx="3.9" ry="6.6" fill="none" stroke="#000" stroke-width="1.3" transform="rotate(25 462.6 309.4)"/><ellipse cx="467.1" cy="418.7" rx="3.9" ry="6.6" fill="none" stroke="#000" stroke-width="1.3" transform="rotate(25 467.1 418.7)"/><ellipse cx="452.2" cy="478.5" rx="3.9" ry="6.6" fill="none" stroke="#000" stroke-width="1.3" transform="rotate(25 452.2 478.5)"/><path d="M179.9,257.1 L209.8,251.1 L221.8,263.1 L215.8,293.0 L179.9,293.0Z" fill="#84d884"/><path d="M161.9,322.9 L179.9,334.9" stroke="#5aa8f0" stroke-width="2" fill="none"/><path d="M194.8,343.9 L242.7,373.8" stroke="#5aa8f0" stroke-width="2" fill="none"/></g>
<g stroke="#000" stroke-width="1.25" stroke-dasharray="3.2 5.07"><line x1="33.8" y1="41" x2="33.8" y2="548"/><line x1="112.5" y1="41" x2="112.5" y2="548"/><line x1="191.2" y1="41" x2="191.2" y2="548"/><line x1="270.0" y1="41" x2="270.0" y2="548"/><line x1="348.7" y1="41" x2="348.7" y2="548"/><line x1="427.4" y1="41" x2="427.4" y2="548"/><line x1="13" y1="75.7" x2="486" y2="75.7"/><line x1="13" y1="160.2" x2="486" y2="160.2"/><line x1="13" y1="244.7" x2="486" y2="244.7"/><line x1="13" y1="329.2" x2="486" y2="329.2"/><line x1="13" y1="413.7" x2="486" y2="413.7"/><line x1="13" y1="498.2" x2="486" y2="498.2"/></g><g clip-path="url(#mclip)" fill="none" stroke="#000" stroke-width="1.1" stroke-dasharray="12.5 11.1"><path d="M124.4,41.0 L128.4,43.8 L132.4,46.5 L136.4,49.3 L140.4,52.0 L144.4,54.8 L148.4,57.5 L152.4,60.2 L156.4,62.9 L160.4,65.6 L164.4,68.3 L168.4,71.0 L172.4,73.7 L176.4,76.4 L180.4,79.1 L184.4,81.8 L188.4,84.5 L192.4,87.1 L196.4,89.8 L200.4,92.5 L204.4,95.1 L208.4,97.8 L212.4,100.4 L216.4,103.1 L220.4,105.7 L224.4,108.3 L228.4,111.0 L232.4,113.6 L236.4,116.2 L240.4,118.8 L244.4,121.4 L248.4,124.0 L252.4,126.6 L256.4,129.2 L260.4,131.8 L264.4,134.4 L268.4,137.0 L272.4,139.5 L276.4,142.1 L280.4,144.6 L284.4,147.2 L288.4,149.8 L292.4,152.3 L296.4,154.8 L300.4,157.4 L304.4,159.9 L308.4,162.4 L312.4,164.9 L316.4,167.5 L320.4,170.0 L324.4,172.5 L328.4,175.0 L332.4,177.5 L336.4,180.0 L340.4,182.4 L344.4,184.9 L348.4,187.4 L352.4,189.9 L356.4,192.3 L360.4,194.8 L364.4,197.3 L368.4,199.7 L372.4,202.1 L376.4,204.6 L380.4,207.0 L384.4,209.4 L388.4,211.9 L392.4,214.3 L396.4,216.7 L400.4,219.1 L404.4,221.5 L408.4,223.9 L412.4,226.3 L416.4,228.7 L420.4,231.1 L424.4,233.5 L428.4,235.8 L432.4,238.2 L436.4,240.6 L440.4,242.9 L444.4,245.3 L448.4,247.6 L452.4,250.0 L456.4,252.3 L460.4,254.6 L464.4,257.0 L468.4,259.3 L472.4,261.6 L476.4,263.9 L480.4,266.2 L484.4,268.5"/><path d="M13.0,76.7 L17.0,79.5 L21.0,82.3 L25.0,85.1 L29.0,87.9 L33.0,90.7 L37.0,93.5 L41.0,96.3 L45.0,99.1 L49.0,101.9 L53.0,104.7 L57.0,107.4 L61.0,110.2 L65.0,113.0 L69.0,115.7 L73.0,118.5 L77.0,121.2 L81.0,124.0 L85.0,126.7 L89.0,129.5 L93.0,132.2 L97.0,134.9 L101.0,137.7 L105.0,140.4 L109.0,143.1 L113.0,145.8 L117.0,148.5 L121.0,151.2 L125.0,153.9 L129.0,156.6 L133.0,159.3 L137.0,162.0 L141.0,164.6 L145.0,167.3 L149.0,170.0 L153.0,172.6 L157.0,175.3 L161.0,178.0 L165.0,180.6 L169.0,183.3 L173.0,185.9 L177.0,188.5 L181.0,191.2 L185.0,193.8 L189.0,196.4 L193.0,199.0 L197.0,201.6 L201.0,204.3 L205.0,206.9 L209.0,209.5 L213.0,212.1 L217.0,214.6 L221.0,217.2 L225.0,219.8 L229.0,222.4 L233.0,225.0 L237.0,227.5 L241.0,230.1 L245.0,232.6 L249.0,235.2 L253.0,237.7 L257.0,240.3 L261.0,242.8 L265.0,245.4 L269.0,247.9 L273.0,250.4 L277.0,252.9 L281.0,255.5 L285.0,258.0 L289.0,260.5 L293.0,263.0 L297.0,265.5 L301.0,268.0 L305.0,270.5 L309.0,272.9 L313.0,275.4 L317.0,277.9 L321.0,280.4 L325.0,282.8 L329.0,285.3 L333.0,287.8 L337.0,290.2 L341.0,292.6 L345.0,295.1 L349.0,297.5 L353.0,300.0 L357.0,302.4 L361.0,304.8 L365.0,307.2 L369.0,309.7 L373.0,312.1 L377.0,314.5 L381.0,316.9 L385.0,319.3 L389.0,321.7 L393.0,324.0 L397.0,326.4 L401.0,328.8 L405.0,331.2 L409.0,333.5 L413.0,335.9 L417.0,338.3 L421.0,340.6 L425.0,343.0 L429.0,345.3 L433.0,347.7 L437.0,350.0 L441.0,352.3 L445.0,354.7 L449.0,357.0 L453.0,359.3 L457.0,361.6 L461.0,363.9 L465.0,366.2 L469.0,368.5 L473.0,370.8 L477.0,373.1 L481.0,375.4 L485.0,377.7"/></g><path d="M13.0,97.3 L16.8,103.5 L22.1,108.8 L24.5,113.1 L25.0,116.5 L27.8,113.1 L30.7,113.1 L31.2,116.0 L29.3,119.4 L30.7,125.1 L36.0,134.7 L39.4,145.3 L37.4,151.0 L37.0,158.7 L33.6,166.4 L34.6,171.2 L39.4,176.0 L42.2,180.8 L47.0,183.2 L45.1,190.4 L44.6,198.1 L49.9,203.8 L58.6,209.6 L67.2,214.4 L69.1,215.3 L72.0,214.4 L73.9,211.0 L75.8,213.4 L78.2,219.2 L84.5,220.6 L89.3,218.2 L89.7,215.8 L95.0,226.9 L96.9,233.6 L99.8,237.4 L103.2,237.4 L104.1,233.1 L108.5,239.3 L112.3,242.2 L116.1,240.3 L122.4,244.1 L122.7,243.6 L123.6,248.6 L129.5,252.9 L129.9,248.2 L133.3,248.2 L135.4,250.3 L137.1,252.4 L138.8,254.6 L140.5,255.4 L143.5,255.4 L144.7,257.1 L146.0,261.8 L148.5,265.6 L148.5,267.3 L143.9,264.7 L140.1,263.9 L140.1,266.4 L138.4,269.4 L142.2,275.7 L145.6,278.3 L145.6,282.1 L146.8,280.4 L153.2,282.9 L154.0,285.1 L160.0,288.9 L161.2,291.0 L160.0,293.5 L160.0,297.8 L162.9,299.5 L164.6,304.5 L163.8,309.2 L168.4,310.5 L171.0,310.5 L169.7,312.6 L170.6,318.9 L169.3,321.5 L171.4,328.2 L173.1,335.9 L178.6,345.2 L179.5,348.6 L179.0,349.4 L181.1,349.0 L183.7,346.5 L186.2,348.6 L190.5,354.5 L191.7,356.2 L192.2,353.2 L190.9,348.6 L188.8,344.3 L188.3,340.1 L190.0,336.7 L193.8,336.3 L199.8,346.0 L204.9,348.6 L213.8,354.1 L212.5,348.6 L212.9,344.8 L215.9,343.9 L218.0,346.5 L220.1,351.1 L222.2,352.8 L222.2,355.3 L223.5,361.3 L221.0,368.9 L221.0,374.0 L222.6,380.0 L221.3,375.1 L221.8,378.5 L224.3,383.1 L222.6,386.1 L223.9,389.5 L224.7,394.6 L228.5,395.0 L233.2,397.9 L236.2,403.0 L239.1,406.4 L244.2,409.4 L246.7,412.3 L252.7,415.7 L256.1,416.2 L257.8,414.9 L262.8,420.0 L265.8,420.8 L269.2,426.7 L270.5,432.7 L275.5,440.3 L281.5,444.1 L287.4,446.6 L289.1,449.6 L289.9,456.4 L295.0,464.0 L298.4,467.0 L304.3,468.7 L306.5,472.5 L304.8,475.0 L307.3,476.7 L305.6,481.0 L306.0,486.9 L308.6,490.3 L309.3,490.0 L310.7,492.7 L310.9,496.3 L311.1,493.6 L312.5,492.5 L316.3,498.1 L315.2,501.7 L313.8,504.9 L312.9,508.1 L312.2,511.7 L314.5,515.1 L314.3,518.9 L313.4,521.6 L314.0,527.5 L315.4,528.8 L315.8,537.9 L317.0,541.5 L316.5,545.1 L312.5,545.3 L311.3,548.3" fill="none" stroke="#000" stroke-width="1.2" stroke-linejoin="round"/><g font-size="12.5"><text x="250" y="75.2" text-anchor="middle" textLength="18" lengthAdjust="spacingAndGlyphs">-16</text><text x="250" y="159.7" text-anchor="middle" textLength="18" lengthAdjust="spacingAndGlyphs">-18</text><text x="250" y="244.2" text-anchor="middle" textLength="18" lengthAdjust="spacingAndGlyphs">-20</text><text x="250" y="328.7" text-anchor="middle" textLength="18" lengthAdjust="spacingAndGlyphs">-22</text><text x="250" y="413.2" text-anchor="middle" textLength="18" lengthAdjust="spacingAndGlyphs">-24</text><text x="250" y="497.7" text-anchor="middle" textLength="18" lengthAdjust="spacingAndGlyphs">-26</text><text x="33.8" y="308" text-anchor="middle" textLength="19" lengthAdjust="spacingAndGlyphs">146</text><text x="112.5" y="308" text-anchor="middle" textLength="19" lengthAdjust="spacingAndGlyphs">148</text><text x="191.2" y="308" text-anchor="middle" textLength="19" lengthAdjust="spacingAndGlyphs">150</text><text x="270.0" y="308" text-anchor="middle" textLength="19" lengthAdjust="spacingAndGlyphs">152</text><text x="348.7" y="308" text-anchor="middle" textLength="19" lengthAdjust="spacingAndGlyphs">154</text><text x="427.4" y="308" text-anchor="middle" textLength="19" lengthAdjust="spacingAndGlyphs">156</text></g>
<path d="M243,292 h13 v5 h-13z M247.2,288 h4.7 v13 h-4.7z" fill="#000"/>
<text x="37.5" y="66" font-size="26" textLength="242.8" lengthAdjust="spacingAndGlyphs">2A12 rainrate (mm/hr)</text>
<text x="439.6" y="522.5" font-size="29" textLength="26.1" lengthAdjust="spacingAndGlyphs">(f)</text>
<rect x="495" y="531.05" width="9" height="8.75" fill="#80e080"/>
<rect x="495" y="522.60" width="9" height="8.75" fill="#7cd97c"/>
<rect x="495" y="514.15" width="9" height="8.75" fill="#79d279"/>
<rect x="495" y="505.70" width="9" height="8.75" fill="#75cb75"/>
<rect x="495" y="497.25" width="9" height="8.75" fill="#71c571"/>
<rect x="495" y="488.80" width="9" height="8.75" fill="#6dbe6d"/>
<rect x="495" y="480.35" width="9" height="8.75" fill="#6ab76a"/>
<rect x="495" y="471.90" width="9" height="8.75" fill="#66b066"/>
<rect x="495" y="463.45" width="9" height="8.75" fill="#ccd5ff"/>
<rect x="495" y="455.00" width="9" height="8.75" fill="#b9cfff"/>
<rect x="495" y="446.55" width="9" height="8.75" fill="#a7c9ff"/>
<rect x="495" y="438.10" width="9" height="8.75" fill="#94c2ff"/>
<rect x="495" y="429.65" width="9" height="8.75" fill="#81bcff"/>
<rect x="495" y="421.20" width="9" height="8.75" fill="#6fb6ff"/>
<rect x="495" y="412.75" width="9" height="8.75" fill="#5cb0ff"/>
<rect x="495" y="404.30" width="9" height="8.75" fill="#4d8cff"/>
<rect x="495" y="395.85" width="9" height="8.75" fill="#467aff"/>
<rect x="495" y="387.40" width="9" height="8.75" fill="#4068ff"/>
<rect x="495" y="378.95" width="9" height="8.75" fill="#3a56ff"/>
<rect x="495" y="370.50" width="9" height="8.75" fill="#3344ff"/>
<rect x="495" y="362.05" width="9" height="8.75" fill="#0000ff"/>
<rect x="495" y="353.60" width="9" height="8.75" fill="#0000f2"/>
<rect x="495" y="345.15" width="9" height="8.75" fill="#0000e6"/>
<rect x="495" y="336.70" width="9" height="8.75" fill="#0000d9"/>
<rect x="495" y="328.25" width="9" height="8.75" fill="#0000cc"/>
<rect x="495" y="319.80" width="9" height="8.75" fill="#0000c0"/>
<rect x="495" y="311.35" width="9" height="8.75" fill="#0000b3"/>
<rect x="495" y="302.90" width="9" height="8.75" fill="#ffff00"/>
<rect x="495" y="294.45" width="9" height="8.75" fill="#fff600"/>
<rect x="495" y="286.00" width="9" height="8.75" fill="#ffee00"/>
<rect x="495" y="277.55" width="9" height="8.75" fill="#ffe600"/>
<rect x="495" y="269.10" width="9" height="8.75" fill="#ffdd00"/>
<rect x="495" y="260.65" width="9" height="8.75" fill="#ffd400"/>
<rect x="495" y="252.20" width="9" height="8.75" fill="#ffcc00"/>
<rect x="495" y="243.75" width="9" height="8.75" fill="#ff8c00"/>
<rect x="495" y="235.30" width="9" height="8.75" fill="#ff8400"/>
<rect x="495" y="226.85" width="9" height="8.75" fill="#ff7d00"/>
<rect x="495" y="218.40" width="9" height="8.75" fill="#ff7500"/>
<rect x="495" y="209.95" width="9" height="8.75" fill="#ff6e00"/>
<rect x="495" y="201.50" width="9" height="8.75" fill="#ff6600"/>
<rect x="495" y="193.05" width="9" height="8.75" fill="#ff4400"/>
<rect x="495" y="184.60" width="9" height="8.75" fill="#ff3d00"/>
<rect x="495" y="176.15" width="9" height="8.75" fill="#ff3600"/>
<rect x="495" y="167.70" width="9" height="8.75" fill="#ff2f00"/>
<rect x="495" y="159.25" width="9" height="8.75" fill="#ff2800"/>
<rect x="495" y="150.80" width="9" height="8.75" fill="#ff2100"/>
<rect x="495" y="142.35" width="9" height="8.75" fill="#ff1a00"/>
<rect x="495" y="133.90" width="9" height="8.75" fill="#c80000"/>
<rect x="495" y="125.45" width="9" height="8.75" fill="#c10000"/>
<rect x="495" y="117.00" width="9" height="8.75" fill="#bb0000"/>
<rect x="495" y="108.55" width="9" height="8.75" fill="#b40000"/>
<rect x="495" y="100.10" width="9" height="8.75" fill="#ad0000"/>
<rect x="495" y="91.65" width="9" height="8.75" fill="#a70000"/>
<rect x="495" y="83.20" width="9" height="8.75" fill="#a00000"/>
<rect x="495" y="74.75" width="9" height="8.75" fill="#661010"/>
<rect x="495" y="66.30" width="9" height="8.75" fill="#621212"/>
<rect x="495" y="57.85" width="9" height="8.75" fill="#5e1414"/>
<rect x="495" y="49.40" width="9" height="8.75" fill="#591616"/>
<rect x="495" y="40.95" width="9" height="8.75" fill="#551818"/>
<rect x="504" y="547.40" width="2.5" height="1.2" fill="#000"/>
<text x="524.5" y="556.60" text-anchor="middle" font-size="20">0</text>
<rect x="504" y="496.65" width="2.5" height="1.2" fill="#000"/>
<text x="524.5" y="505.85" text-anchor="middle" font-size="20">6</text>
<rect x="504" y="445.90" width="2.5" height="1.2" fill="#000"/>
<text x="524.5" y="455.10" text-anchor="middle" font-size="20">12</text>
<rect x="504" y="395.16" width="2.5" height="1.2" fill="#000"/>
<text x="524.5" y="404.36" text-anchor="middle" font-size="20">18</text>
<rect x="504" y="344.41" width="2.5" height="1.2" fill="#000"/>
<text x="524.5" y="353.61" text-anchor="middle" font-size="20">24</text>
<rect x="504" y="293.66" width="2.5" height="1.2" fill="#000"/>
<text x="524.5" y="302.86" text-anchor="middle" font-size="20">30</text>
<rect x="504" y="242.91" width="2.5" height="1.2" fill="#000"/>
<text x="524.5" y="252.11" text-anchor="middle" font-size="20">36</text>
<rect x="504" y="192.16" width="2.5" height="1.2" fill="#000"/>
<text x="524.5" y="201.36" text-anchor="middle" font-size="20">42</text>
<rect x="504" y="141.42" width="2.5" height="1.2" fill="#000"/>
<text x="524.5" y="150.62" text-anchor="middle" font-size="20">48</text>
<rect x="504" y="90.67" width="2.5" height="1.2" fill="#000"/>
<text x="524.5" y="99.87" text-anchor="middle" font-size="20">54</text>
</g>
<g transform="translate(0.00,1180.67)">
<g clip-path="url(#mclip)"><clipPath id="sw6"><path d="M13.0,41.0 L325.0,41.0 L486.0,138.0 L486.0,508.0 L478.0,503.5 L470.0,499.0 L462.0,494.5 L454.0,489.9 L446.0,485.3 L438.0,480.7 L430.0,476.1 L422.0,471.5 L414.0,466.9 L406.0,462.2 L398.0,457.5 L390.0,452.8 L382.0,448.1 L374.0,443.3 L366.0,438.6 L358.0,433.8 L350.0,429.0 L342.0,424.2 L334.0,419.4 L326.0,414.5 L318.0,409.7 L310.0,404.8 L302.0,399.9 L294.0,395.0 L286.0,390.0 L278.0,385.1 L270.0,380.1 L262.0,375.1 L254.0,370.1 L246.0,365.1 L238.0,360.0 L230.0,355.0 L222.0,349.9 L214.0,344.8 L206.0,339.7 L198.0,334.5 L190.0,329.4 L182.0,324.2 L174.0,319.0 L166.0,313.8 L158.0,308.6 L150.0,303.3 L142.0,298.1 L134.0,292.8 L126.0,287.5 L118.0,282.2 L110.0,276.9 L102.0,271.5 L94.0,266.1 L86.0,260.7 L78.0,255.3 L70.0,249.9 L62.0,244.5 L54.0,239.0 L46.0,233.5 L38.0,228.0 L30.0,222.5 L22.0,217.0 L14.0,211.5 L13.0,210.8Z"/></clipPath><g clip-path="url(#sw6)"><path d="M13.0,41.0 L325.0,41.0 L486.0,138.0 L486.0,508.0 L478.0,503.5 L470.0,499.0 L462.0,494.5 L454.0,489.9 L446.0,485.3 L438.0,480.7 L430.0,476.1 L422.0,471.5 L414.0,466.9 L406.0,462.2 L398.0,457.5 L390.0,452.8 L382.0,448.1 L374.0,443.3 L366.0,438.6 L358.0,433.8 L350.0,429.0 L342.0,424.2 L334.0,419.4 L326.0,414.5 L318.0,409.7 L310.0,404.8 L302.0,399.9 L294.0,395.0 L286.0,390.0 L278.0,385.1 L270.0,380.1 L262.0,375.1 L254.0,370.1 L246.0,365.1 L238.0,360.0 L230.0,355.0 L222.0,349.9 L214.0,344.8 L206.0,339.7 L198.0,334.5 L190.0,329.4 L182.0,324.2 L174.0,319.0 L166.0,313.8 L158.0,308.6 L150.0,303.3 L142.0,298.1 L134.0,292.8 L126.0,287.5 L118.0,282.2 L110.0,276.9 L102.0,271.5 L94.0,266.1 L86.0,260.7 L78.0,255.3 L70.0,249.9 L62.0,244.5 L54.0,239.0 L46.0,233.5 L38.0,228.0 L30.0,222.5 L22.0,217.0 L14.0,211.5 L13.0,210.8Z" fill="#6a8ef0"/><path d="M10.0,34.3 L41.1,34.3 L31.2,69.6 L38.2,90.8 L31.2,133.1 L32.6,168.4 L45.3,175.5 L10.0,184.0Z" fill="#7494d4"/><path d="M35.4,34.3 L260.0,34.3 L260.0,140.2 L235.9,141.6 L221.7,133.1 L193.5,150.1 L165.3,154.3 L151.2,161.4 L100.3,158.6 L87.6,182.6 L63.6,168.4 L45.3,175.5 L32.6,168.4 L31.2,133.1 L38.2,90.8 L31.2,69.6Z" fill="#d8d8d8"/><path d="M252.7,41.4 L326.1,41.4 L381.2,76.7 L367.0,73.9 L352.9,66.8 L347.3,54.1 L330.3,62.6 L319.1,83.7 L307.8,93.6 L290.8,76.7 L268.2,61.2Z" fill="#98c0c0"/><path d="M240.0,34.3 L252.7,34.3 L252.7,42.8 L268.2,61.2 L290.8,76.7 L307.8,93.6 L319.1,83.7 L330.3,62.6 L347.3,54.1 L352.9,66.8 L367.0,73.9 L375.5,76.7 L395.3,90.8 L398.1,107.7 L388.2,126.1 L374.1,133.1 L367.0,147.3 L381.2,161.4 L395.3,175.5 L409.4,189.6 L416.5,182.6 L422.1,196.7 L388.2,215.0 L374.1,210.8 L360.0,196.7 L338.8,175.5 L324.7,169.9 L307.8,158.6 L289.4,147.3 L268.2,133.1 L254.1,126.1 L240.0,121.9Z" fill="#d8d8d8"/><path d="M307.8,109.2 L324.7,97.9 L345.9,107.7 L352.9,121.9 L341.6,133.1 L324.7,127.5Z" fill="#90c098"/><path d="M381.2,76.7 L423.5,104.9 L409.4,119.0 L395.3,147.3 L409.4,161.4 L423.5,158.6 L420.7,133.1 L427.7,106.3Z" fill="#90c0b0"/><path d="M45.3,175.5 L63.6,168.4 L87.6,182.6 L100.3,158.6 L151.2,161.4 L165.3,154.3 L193.5,150.1 L221.7,133.1 L235.9,141.6 L260.0,140.2 L260.0,161.4 L221.7,154.3 L193.5,168.4 L165.3,172.7 L137.0,175.5 L108.8,182.6 L94.7,196.7 L66.5,189.6 L45.3,196.7Z" fill="#8cc4b8"/><path d="M12.8,210.8 L45.3,189.6 L80.6,210.8 L108.8,224.9 L122.9,246.1 L120.1,274.3 L108.8,284.3 L10.0,284.3Z" fill="#9ccae0"/><path d="M87.6,192.4 L108.8,181.1 L122.9,179.7 L137.0,186.8 L134.2,196.7 L115.9,202.3 L100.3,202.3Z" fill="#c0c0c0"/><path d="M155.4,220.7 L165.3,212.2 L176.6,212.2 L176.6,222.1 L162.5,224.9Z" fill="#c0c0c0"/><path d="M10.0,186.8 L31.2,186.8 L28.4,203.7 L10.0,210.8Z" fill="#b8b8b8"/><path d="M69.3,246.1 L89.1,239.0 L89.1,248.9 L70.7,251.7Z" fill="#b8b8b8"/><path d="M323.3,284.3 L338.8,284.3 L338.8,323.7 L327.5,339.2 L319.1,336.4Z" fill="#a8b4a8"/><path d="M94.7,215.0 L137.0,212.2 L165.3,224.9 L207.6,217.8 L260.0,232.0 L260.0,254.5 L221.7,248.9 L193.5,248.9 L165.3,241.8 L151.2,234.8 L130.0,224.9Z" fill="#2a40f0"/><path d="M45.3,182.6 L73.5,186.8 L94.7,196.7 L108.8,210.8 L94.7,217.8 L73.5,212.2 L52.3,203.7Z" fill="#3a5af0"/><path d="M240.0,158.6 L268.2,154.3 L319.1,169.9 L338.8,175.5 L338.8,203.7 L319.1,210.8 L303.5,189.6 L268.2,168.4 L240.0,169.9Z" fill="#3050f0"/><path d="M423.5,76.7 L485.6,138.8 L485.6,284.3 L423.5,284.3 L416.5,217.8 L430.6,168.4 L423.5,119.0Z" fill="#5a80f0"/><path d="M460.2,144.4 L471.5,141.6 L480.0,150.1 L485.6,175.5 L485.6,203.7 L474.3,200.9 L465.9,175.5Z" fill="#a8b4c8"/><path d="M444.7,203.7 L465.9,196.7 L485.6,210.8 L485.6,246.1 L465.9,243.3 L448.9,229.1Z" fill="#8cb8d8"/><path d="M395.3,119.0 L409.4,113.4 L423.5,133.1 L423.5,161.4 L409.4,164.2 L398.1,147.3Z" fill="#90c4b0"/><path d="M12.8,151.5 L22.7,155.7 L29.8,165.6 L24.1,175.5 L12.8,184.0Z" fill="#ffb000"/><path d="M52.3,198.1 L73.5,195.3 L89.1,203.7 L103.2,208.0 L101.8,212.2 L86.2,210.8 L73.5,203.7 L55.2,202.3Z" fill="#ffc000"/><path d="M144.1,195.3 L162.5,182.6 L179.4,171.3 L200.6,174.1 L221.7,171.3 L238.7,185.4 L221.7,188.2 L200.6,193.8 L186.5,196.7 L172.3,203.7 L158.2,208.0 L145.5,200.9Z" fill="#ff9a10"/><path d="M238.7,171.3 L260.0,169.9 L260.0,189.6 L242.9,186.8Z" fill="#ff9a10"/><path d="M210.5,210.8 L228.8,196.7 L260.0,193.8 L260.0,232.0 L242.9,229.1 L221.7,217.8Z" fill="#ffa020"/><path d="M122.9,243.3 L130.0,227.7 L144.1,224.9 L156.8,232.0 L158.2,253.1 L165.3,260.2 L158.2,274.3 L148.3,267.3 L137.0,271.5 L125.8,260.2Z" fill="#ff8c10"/><path d="M103.2,217.8 L114.5,212.2 L111.6,220.7Z" fill="#ffc000"/><path d="M240.0,169.9 L268.2,168.4 L303.5,189.6 L319.1,203.7 L310.6,210.8 L282.3,203.7 L254.1,189.6 L240.0,189.6Z" fill="#ffb810"/><path d="M240.0,196.7 L261.2,200.9 L282.3,210.8 L286.6,220.7 L268.2,217.8 L247.1,210.8 L240.0,208.0Z" fill="#ffa010"/><path d="M427.7,106.3 L448.9,119.0 L456.0,147.3 L440.5,150.1 L434.8,133.1Z" fill="#ff9020"/><path d="M427.7,174.1 L444.7,189.6 L443.3,203.7 L423.5,215.0 L409.4,217.8 L409.4,208.0 L426.3,196.7Z" fill="#ff8020"/><path d="M443.3,164.2 L456.0,167.0 L451.7,171.3 L446.1,174.1Z" fill="#ffb020"/><path d="M331.8,176.9 L341.6,186.8 L345.9,203.7 L336.0,206.6 L330.3,189.6Z" fill="#ff9a20"/><path d="M352.9,208.0 L367.0,202.3 L374.1,232.0 L381.2,253.1 L388.2,267.3 L374.1,274.3 L362.8,260.2 L360.0,239.0 L355.8,217.8Z" fill="#ff8c10"/><path d="M482.8,150.1 L485.6,150.1 L485.6,171.3 L482.8,169.9Z" fill="#ffd000"/><path d="M458.8,257.4 L465.9,260.2 L468.7,284.3 L460.2,284.3Z" fill="#ffd000"/><path d="M240.0,361.0 L261.2,358.1 L282.3,356.7 L300.7,346.9 L307.8,329.9 L319.1,318.6 L331.8,313.0 L360.0,301.7 L395.3,304.5 L416.5,318.6 L402.3,344.0 L398.1,372.3 L384.0,375.1 L395.3,400.5 L367.0,414.6 L341.6,423.8 L341.6,457.0 L240.0,457.0Z" fill="#ffa01a"/><path d="M268.2,369.4 L310.6,386.4 L338.8,375.1 L367.0,386.4 L374.1,407.6 L338.8,414.6 L296.5,393.4Z" fill="#ff8010"/><path d="M275.3,363.8 L296.5,351.1 L313.4,344.0 L324.7,332.7 L338.8,334.2 L345.9,358.1 L331.8,365.2 L324.7,358.1 L310.6,366.6 L307.8,380.7 L296.5,369.4Z" fill="#2a50f0"/><path d="M350.1,322.9 L367.0,318.6 L381.2,327.1 L388.2,337.0 L374.1,344.0 L364.2,355.3 L352.9,344.0Z" fill="#e83010"/><path d="M364.2,259.3 L420.7,259.3 L429.2,273.5 L427.7,294.6 L409.4,304.5 L381.2,301.7 L364.2,287.6Z" fill="#ff8010"/><path d="M374.1,263.6 L409.4,263.6 L416.5,280.5 L409.4,301.7 L388.2,301.7 L375.5,280.5Z" fill="#e03010"/><path d="M402.3,394.9 L430.6,365.2 L440.5,358.1 L444.7,372.3 L437.6,400.5 L423.5,393.4 L409.4,397.7Z" fill="#ffc010"/><path d="M402.3,424.5 L416.5,425.9 L434.8,438.6 L423.5,447.1 L409.4,445.7Z" fill="#ffd000"/><path d="M409.4,459.8 L416.5,452.7 L424.9,462.6 L420.7,466.8Z" fill="#ffd000"/><path d="M457.4,259.3 L465.9,259.3 L480.0,301.7 L485.6,322.9 L485.6,372.3 L472.9,375.1 L463.0,358.1 L465.9,329.9 L460.2,287.6Z" fill="#ffa020"/><path d="M323.3,259.3 L338.8,259.3 L338.8,301.7 L327.5,318.6 L319.1,315.8Z" fill="#a8b4a8"/><path d="M341.6,423.8 L367.0,414.6 L395.3,400.5 L402.3,421.7 L395.3,442.8 L416.5,457.0 L427.7,471.1 L423.5,485.2 L338.8,442.8Z" fill="#2a44f0"/><path d="M437.6,421.7 L485.6,414.6 L485.6,507.8 L451.7,499.3 L430.6,457.0Z" fill="#94c0e0"/><path d="M395.3,344.0 L423.5,337.0 L451.7,344.0 L444.7,358.1 L409.4,365.2Z" fill="#8ab0f0"/><path d="M140.0,319.3 L156.7,289.3 L173.3,266.0 L200.0,249.3 L233.3,239.3 L266.7,237.7 L300.0,249.3 L320.0,266.0 L331.7,299.3 L328.3,332.7 L313.3,359.3 L290.0,382.7 L140.0,382.7Z" fill="#ffa418"/><path d="M173.3,306.0 L190.0,276.0 L213.3,259.3 L246.7,249.3 L283.3,252.7 L310.0,269.3 L321.7,299.3 L316.7,336.0 L300.0,362.7 L280.0,382.7 L186.7,382.7Z" fill="#ff6a10"/><path d="M200.0,299.3 L213.3,272.7 L233.3,259.3 L260.0,252.7 L286.7,259.3 L306.7,279.3 L311.7,309.3 L303.3,339.3 L286.7,359.3 L266.7,376.0 L206.7,336.0 L200.0,316.0Z" fill="#d01c18"/><path d="M223.3,269.3 L266.7,264.3 L276.7,292.7 L256.7,309.3 L226.7,299.3Z" fill="#a83a38"/><path d="M293.3,286.0 L303.3,292.7 L300.0,319.3 L290.0,316.0Z" fill="#b03838"/><path d="M200.0,242.7 L233.3,229.3 L283.3,231.0 L316.7,242.7 L336.7,266.0 L330.0,272.7 L310.0,256.0 L273.3,242.7 L233.3,244.3Z" fill="#2a40e8"/><circle cx="247.5" cy="292" r="5.5" fill="#f4a020" stroke="#000" stroke-width="1.3"/></g></g>
<g stroke="#000" stroke-width="1.25" stroke-dasharray="3.2 5.07"><line x1="33.8" y1="41" x2="33.8" y2="548"/><line x1="112.5" y1="41" x2="112.5" y2="548"/><line x1="191.2" y1="41" x2="191.2" y2="548"/><line x1="270.0" y1="41" x2="270.0" y2="548"/><line x1="348.7" y1="41" x2="348.7" y2="548"/><line x1="427.4" y1="41" x2="427.4" y2="548"/><line x1="13" y1="75.7" x2="486" y2="75.7"/><line x1="13" y1="160.2" x2="486" y2="160.2"/><line x1="13" y1="244.7" x2="486" y2="244.7"/><line x1="13" y1="329.2" x2="486" y2="329.2"/><line x1="13" y1="413.7" x2="486" y2="413.7"/><line x1="13" y1="498.2" x2="486" y2="498.2"/></g><g clip-path="url(#mclip)" fill="none" stroke="#000" stroke-width="1.1" stroke-dasharray="12.5 11.1"><path d="M124.4,41.0 L128.4,43.8 L132.4,46.5 L136.4,49.3 L140.4,52.0 L144.4,54.8 L148.4,57.5 L152.4,60.2 L156.4,62.9 L160.4,65.6 L164.4,68.3 L168.4,71.0 L172.4,73.7 L176.4,76.4 L180.4,79.1 L184.4,81.8 L188.4,84.5 L192.4,87.1 L196.4,89.8 L200.4,92.5 L204.4,95.1 L208.4,97.8 L212.4,100.4 L216.4,103.1 L220.4,105.7 L224.4,108.3 L228.4,111.0 L232.4,113.6 L236.4,116.2 L240.4,118.8 L244.4,121.4 L248.4,124.0 L252.4,126.6 L256.4,129.2 L260.4,131.8 L264.4,134.4 L268.4,137.0 L272.4,139.5 L276.4,142.1 L280.4,144.6 L284.4,147.2 L288.4,149.8 L292.4,152.3 L296.4,154.8 L300.4,157.4 L304.4,159.9 L308.4,162.4 L312.4,164.9 L316.4,167.5 L320.4,170.0 L324.4,172.5 L328.4,175.0 L332.4,177.5 L336.4,180.0 L340.4,182.4 L344.4,184.9 L348.4,187.4 L352.4,189.9 L356.4,192.3 L360.4,194.8 L364.4,197.3 L368.4,199.7 L372.4,202.1 L376.4,204.6 L380.4,207.0 L384.4,209.4 L388.4,211.9 L392.4,214.3 L396.4,216.7 L400.4,219.1 L404.4,221.5 L408.4,223.9 L412.4,226.3 L416.4,228.7 L420.4,231.1 L424.4,233.5 L428.4,235.8 L432.4,238.2 L436.4,240.6 L440.4,242.9 L444.4,245.3 L448.4,247.6 L452.4,250.0 L456.4,252.3 L460.4,254.6 L464.4,257.0 L468.4,259.3 L472.4,261.6 L476.4,263.9 L480.4,266.2 L484.4,268.5"/><path d="M13.0,76.7 L17.0,79.5 L21.0,82.3 L25.0,85.1 L29.0,87.9 L33.0,90.7 L37.0,93.5 L41.0,96.3 L45.0,99.1 L49.0,101.9 L53.0,104.7 L57.0,107.4 L61.0,110.2 L65.0,113.0 L69.0,115.7 L73.0,118.5 L77.0,121.2 L81.0,124.0 L85.0,126.7 L89.0,129.5 L93.0,132.2 L97.0,134.9 L101.0,137.7 L105.0,140.4 L109.0,143.1 L113.0,145.8 L117.0,148.5 L121.0,151.2 L125.0,153.9 L129.0,156.6 L133.0,159.3 L137.0,162.0 L141.0,164.6 L145.0,167.3 L149.0,170.0 L153.0,172.6 L157.0,175.3 L161.0,178.0 L165.0,180.6 L169.0,183.3 L173.0,185.9 L177.0,188.5 L181.0,191.2 L185.0,193.8 L189.0,196.4 L193.0,199.0 L197.0,201.6 L201.0,204.3 L205.0,206.9 L209.0,209.5 L213.0,212.1 L217.0,214.6 L221.0,217.2 L225.0,219.8 L229.0,222.4 L233.0,225.0 L237.0,227.5 L241.0,230.1 L245.0,232.6 L249.0,235.2 L253.0,237.7 L257.0,240.3 L261.0,242.8 L265.0,245.4 L269.0,247.9 L273.0,250.4 L277.0,252.9 L281.0,255.5 L285.0,258.0 L289.0,260.5 L293.0,263.0 L297.0,265.5 L301.0,268.0 L305.0,270.5 L309.0,272.9 L313.0,275.4 L317.0,277.9 L321.0,280.4 L325.0,282.8 L329.0,285.3 L333.0,287.8 L337.0,290.2 L341.0,292.6 L345.0,295.1 L349.0,297.5 L353.0,300.0 L357.0,302.4 L361.0,304.8 L365.0,307.2 L369.0,309.7 L373.0,312.1 L377.0,314.5 L381.0,316.9 L385.0,319.3 L389.0,321.7 L393.0,324.0 L397.0,326.4 L401.0,328.8 L405.0,331.2 L409.0,333.5 L413.0,335.9 L417.0,338.3 L421.0,340.6 L425.0,343.0 L429.0,345.3 L433.0,347.7 L437.0,350.0 L441.0,352.3 L445.0,354.7 L449.0,357.0 L453.0,359.3 L457.0,361.6 L461.0,363.9 L465.0,366.2 L469.0,368.5 L473.0,370.8 L477.0,373.1 L481.0,375.4 L485.0,377.7"/></g><path d="M13.0,97.3 L16.8,103.5 L22.1,108.8 L24.5,113.1 L25.0,116.5 L27.8,113.1 L30.7,113.1 L31.2,116.0 L29.3,119.4 L30.7,125.1 L36.0,134.7 L39.4,145.3 L37.4,151.0 L37.0,158.7 L33.6,166.4 L34.6,171.2 L39.4,176.0 L42.2,180.8 L47.0,183.2 L45.1,190.4 L44.6,198.1 L49.9,203.8 L58.6,209.6 L67.2,214.4 L69.1,215.3 L72.0,214.4 L73.9,211.0 L75.8,213.4 L78.2,219.2 L84.5,220.6 L89.3,218.2 L89.7,215.8 L95.0,226.9 L96.9,233.6 L99.8,237.4 L103.2,237.4 L104.1,233.1 L108.5,239.3 L112.3,242.2 L116.1,240.3 L122.4,244.1 L122.7,243.6 L123.6,248.6 L129.5,252.9 L129.9,248.2 L133.3,248.2 L135.4,250.3 L137.1,252.4 L138.8,254.6 L140.5,255.4 L143.5,255.4 L144.7,257.1 L146.0,261.8 L148.5,265.6 L148.5,267.3 L143.9,264.7 L140.1,263.9 L140.1,266.4 L138.4,269.4 L142.2,275.7 L145.6,278.3 L145.6,282.1 L146.8,280.4 L153.2,282.9 L154.0,285.1 L160.0,288.9 L161.2,291.0 L160.0,293.5 L160.0,297.8 L162.9,299.5 L164.6,304.5 L163.8,309.2 L168.4,310.5 L171.0,310.5 L169.7,312.6 L170.6,318.9 L169.3,321.5 L171.4,328.2 L173.1,335.9 L178.6,345.2 L179.5,348.6 L179.0,349.4 L181.1,349.0 L183.7,346.5 L186.2,348.6 L190.5,354.5 L191.7,356.2 L192.2,353.2 L190.9,348.6 L188.8,344.3 L188.3,340.1 L190.0,336.7 L193.8,336.3 L199.8,346.0 L204.9,348.6 L213.8,354.1 L212.5,348.6 L212.9,344.8 L215.9,343.9 L218.0,346.5 L220.1,351.1 L222.2,352.8 L222.2,355.3 L223.5,361.3 L221.0,368.9 L221.0,374.0 L222.6,380.0 L221.3,375.1 L221.8,378.5 L224.3,383.1 L222.6,386.1 L223.9,389.5 L224.7,394.6 L228.5,395.0 L233.2,397.9 L236.2,403.0 L239.1,406.4 L244.2,409.4 L246.7,412.3 L252.7,415.7 L256.1,416.2 L257.8,414.9 L262.8,420.0 L265.8,420.8 L269.2,426.7 L270.5,432.7 L275.5,440.3 L281.5,444.1 L287.4,446.6 L289.1,449.6 L289.9,456.4 L295.0,464.0 L298.4,467.0 L304.3,468.7 L306.5,472.5 L304.8,475.0 L307.3,476.7 L305.6,481.0 L306.0,486.9 L308.6,490.3 L309.3,490.0 L310.7,492.7 L310.9,496.3 L311.1,493.6 L312.5,492.5 L316.3,498.1 L315.2,501.7 L313.8,504.9 L312.9,508.1 L312.2,511.7 L314.5,515.1 L314.3,518.9 L313.4,521.6 L314.0,527.5 L315.4,528.8 L315.8,537.9 L317.0,541.5 L316.5,545.1 L312.5,545.3 L311.3,548.3" fill="none" stroke="#000" stroke-width="1.2" stroke-linejoin="round"/><g font-size="12.5"><text x="250" y="75.2" text-anchor="middle" textLength="18" lengthAdjust="spacingAndGlyphs">-16</text><text x="250" y="159.7" text-anchor="middle" textLength="18" lengthAdjust="spacingAndGlyphs">-18</text><text x="250" y="244.2" text-anchor="middle" textLength="18" lengthAdjust="spacingAndGlyphs">-20</text><text x="250" y="328.7" text-anchor="middle" textLength="18" lengthAdjust="spacingAndGlyphs">-22</text><text x="250" y="413.2" text-anchor="middle" textLength="18" lengthAdjust="spacingAndGlyphs">-24</text><text x="250" y="497.7" text-anchor="middle" textLength="18" lengthAdjust="spacingAndGlyphs">-26</text><text x="33.8" y="308" text-anchor="middle" textLength="19" lengthAdjust="spacingAndGlyphs">146</text><text x="112.5" y="308" text-anchor="middle" textLength="19" lengthAdjust="spacingAndGlyphs">148</text><text x="191.2" y="308" text-anchor="middle" textLength="19" lengthAdjust="spacingAndGlyphs">150</text><text x="270.0" y="308" text-anchor="middle" textLength="19" lengthAdjust="spacingAndGlyphs">152</text><text x="348.7" y="308" text-anchor="middle" textLength="19" lengthAdjust="spacingAndGlyphs">154</text><text x="427.4" y="308" text-anchor="middle" textLength="19" lengthAdjust="spacingAndGlyphs">156</text></g>
<path d="M243,292 h13 v5 h-13z M247.2,288 h4.7 v13 h-4.7z" fill="#000"/>
<text x="38.3" y="66" font-size="26" textLength="79.6" lengthAdjust="spacingAndGlyphs">VIRS T</text>
<text x="117.5" y="72" font-size="14.5">B11</text>
<text x="153" y="66" font-size="26" textLength="33.1" lengthAdjust="spacingAndGlyphs">(K)</text>
<text x="439.6" y="522.5" font-size="29" textLength="33.8" lengthAdjust="spacingAndGlyphs">(g)</text>
<rect x="495" y="531.05" width="9" height="8.75" fill="#f8f8f8"/>
<rect x="495" y="522.60" width="9" height="8.75" fill="#f0f0f0"/>
<rect x="495" y="514.15" width="9" height="8.75" fill="#e8e8e8"/>
<rect x="495" y="505.70" width="9" height="8.75" fill="#e0e0e0"/>
<rect x="495" y="497.25" width="9" height="8.75" fill="#d8d8d8"/>
<rect x="495" y="488.80" width="9" height="8.75" fill="#d0d0d0"/>
<rect x="495" y="480.35" width="9" height="8.75" fill="#c8c8c8"/>
<rect x="495" y="471.90" width="9" height="8.75" fill="#bfbfbf"/>
<rect x="495" y="463.45" width="9" height="8.75" fill="#b7b7b7"/>
<rect x="495" y="455.00" width="9" height="8.75" fill="#afafaf"/>
<rect x="495" y="446.55" width="9" height="8.75" fill="#a7a7a7"/>
<rect x="495" y="438.10" width="9" height="8.75" fill="#9f9f9f"/>
<rect x="495" y="429.65" width="9" height="8.75" fill="#979797"/>
<rect x="495" y="421.20" width="9" height="8.75" fill="#8f8f8f"/>
<rect x="495" y="412.75" width="9" height="8.75" fill="#80e080"/>
<rect x="495" y="404.30" width="9" height="8.75" fill="#7ad47a"/>
<rect x="495" y="395.85" width="9" height="8.75" fill="#73c873"/>
<rect x="495" y="387.40" width="9" height="8.75" fill="#6cbc6c"/>
<rect x="495" y="378.95" width="9" height="8.75" fill="#66b066"/>
<rect x="495" y="370.50" width="9" height="8.75" fill="#ccd5ff"/>
<rect x="495" y="362.05" width="9" height="8.75" fill="#b9cfff"/>
<rect x="495" y="353.60" width="9" height="8.75" fill="#a6c8ff"/>
<rect x="495" y="345.15" width="9" height="8.75" fill="#93c2ff"/>
<rect x="495" y="336.70" width="9" height="8.75" fill="#80bcff"/>
<rect x="495" y="328.25" width="9" height="8.75" fill="#5cb0ff"/>
<rect x="495" y="319.80" width="9" height="8.75" fill="#5194ff"/>
<rect x="495" y="311.35" width="9" height="8.75" fill="#4678ff"/>
<rect x="495" y="302.90" width="9" height="8.75" fill="#3b5cff"/>
<rect x="495" y="294.45" width="9" height="8.75" fill="#3040ff"/>
<rect x="495" y="286.00" width="9" height="8.75" fill="#0000ff"/>
<rect x="495" y="277.55" width="9" height="8.75" fill="#0000ec"/>
<rect x="495" y="269.10" width="9" height="8.75" fill="#0000d9"/>
<rect x="495" y="260.65" width="9" height="8.75" fill="#0000c6"/>
<rect x="495" y="252.20" width="9" height="8.75" fill="#0000b3"/>
<rect x="495" y="243.75" width="9" height="8.75" fill="#ffff00"/>
<rect x="495" y="235.30" width="9" height="8.75" fill="#fff200"/>
<rect x="495" y="226.85" width="9" height="8.75" fill="#ffe600"/>
<rect x="495" y="218.40" width="9" height="8.75" fill="#ffd900"/>
<rect x="495" y="209.95" width="9" height="8.75" fill="#ffcc00"/>
<rect x="495" y="201.50" width="9" height="8.75" fill="#ff8c00"/>
<rect x="495" y="193.05" width="9" height="8.75" fill="#ff8200"/>
<rect x="495" y="184.60" width="9" height="8.75" fill="#ff7900"/>
<rect x="495" y="176.15" width="9" height="8.75" fill="#ff7000"/>
<rect x="495" y="167.70" width="9" height="8.75" fill="#ff6600"/>
<rect x="495" y="159.25" width="9" height="8.75" fill="#ff4400"/>
<rect x="495" y="150.80" width="9" height="8.75" fill="#ff3a00"/>
<rect x="495" y="142.35" width="9" height="8.75" fill="#ff2f00"/>
<rect x="495" y="133.90" width="9" height="8.75" fill="#ff2400"/>
<rect x="495" y="125.45" width="9" height="8.75" fill="#ff1a00"/>
<rect x="495" y="117.00" width="9" height="8.75" fill="#c80000"/>
<rect x="495" y="108.55" width="9" height="8.75" fill="#be0000"/>
<rect x="495" y="100.10" width="9" height="8.75" fill="#b40000"/>
<rect x="495" y="91.65" width="9" height="8.75" fill="#aa0000"/>
<rect x="495" y="83.20" width="9" height="8.75" fill="#a00000"/>
<rect x="495" y="74.75" width="9" height="8.75" fill="#661010"/>
<rect x="495" y="66.30" width="9" height="8.75" fill="#621212"/>
<rect x="495" y="57.85" width="9" height="8.75" fill="#5e1414"/>
<rect x="495" y="49.40" width="9" height="8.75" fill="#591616"/>
<rect x="495" y="40.95" width="9" height="8.75" fill="#551818"/>
<rect x="504" y="547.40" width="2.5" height="1.2" fill="#000"/>
<text x="524.5" y="556.60" text-anchor="middle" font-size="20">304</text>
<rect x="504" y="496.65" width="2.5" height="1.2" fill="#000"/>
<text x="524.5" y="505.85" text-anchor="middle" font-size="20">292</text>
<rect x="504" y="445.90" width="2.5" height="1.2" fill="#000"/>
<text x="524.5" y="455.10" text-anchor="middle" font-size="20">280</text>
<rect x="504" y="395.16" width="2.5" height="1.2" fill="#000"/>
<text x="524.5" y="404.36" text-anchor="middle" font-size="20">268</text>
<rect x="504" y="344.41" width="2.5" height="1.2" fill="#000"/>
<text x="524.5" y="353.61" text-anchor="middle" font-size="20">256</text>
<rect x="504" y="293.66" width="2.5" height="1.2" fill="#000"/>
<text x="524.5" y="302.86" text-anchor="middle" font-size="20">244</text>
<rect x="504" y="242.91" width="2.5" height="1.2" fill="#000"/>
<text x="524.5" y="252.11" text-anchor="middle" font-size="20">232</text>
<rect x="504" y="192.16" width="2.5" height="1.2" fill="#000"/>
<text x="524.5" y="201.36" text-anchor="middle" font-size="20">220</text>
<rect x="504" y="141.42" width="2.5" height="1.2" fill="#000"/>
<text x="524.5" y="150.62" text-anchor="middle" font-size="20">208</text>
<rect x="504" y="90.67" width="2.5" height="1.2" fill="#000"/>
<text x="524.5" y="99.87" text-anchor="middle" font-size="20">196</text>
</g>
<g transform="translate(590.33,1180.67)">
<g clip-path="url(#mclip)"><path d="M358.7,263.8 L363.9,265.1 L367.8,272.9 L376.9,271.6 L383.4,267.7 L389.9,263.8 L396.4,262.5 L400.3,269.0 L409.4,272.9 L411.9,285.8 L417.1,293.6 L419.7,300.1 L413.2,306.6 L402.9,310.5 L395.1,311.8 L389.9,314.4 L383.4,309.2 L379.5,304.0 L373.0,300.1 L363.9,298.8 L362.6,291.0 L358.7,285.8 L360.0,272.9Z" fill="#1010ff"/><path d="M331.4,266.4 L335.3,253.4 L343.1,250.8 L350.9,246.9 L358.7,249.5 L361.3,259.9 L356.1,270.3 L353.5,285.8 L354.8,298.8 L363.9,305.3 L361.3,309.2 L350.9,302.7 L340.5,293.6 L335.3,289.7 L332.7,279.4Z" fill="#1010ff" fill-opacity="0.85"/><path d="M389.9,320.9 L409.4,314.4 L426.2,309.2 L441.8,306.6 L461.3,305.3 L470.4,297.5 L486.0,294.9 L486.0,302.7 L474.3,309.2 L454.8,317.0 L441.8,324.8 L423.6,327.4 L409.4,332.6 L396.4,327.4Z" fill="#1010ff" fill-opacity="0.85"/><path d="M353.5,233.9 L358.7,223.5 L361.3,207.9 L365.2,201.4 L371.7,202.7 L373.0,214.4 L369.1,223.5 L373.0,233.9 L376.9,240.4 L366.5,246.9 L362.6,257.3 L358.7,259.9 L356.1,254.7 L360.0,244.3 L354.8,240.4Z" fill="#1010ff" fill-opacity="0.6"/><path d="M375.6,246.9 L383.4,240.4 L395.1,233.9 L402.9,223.5 L408.1,226.1 L405.5,233.9 L396.4,241.7 L384.7,246.9 L379.5,250.8Z" fill="#1010ff" fill-opacity="0.6"/><path d="M318.4,263.8 L321.0,246.9 L322.3,231.3 L314.5,220.9 L317.1,218.3 L326.2,223.5 L328.8,233.9 L327.5,253.4 L323.6,266.4Z" fill="#1010ff" fill-opacity="0.6"/><path d="M279.5,152.1 L295.1,152.1 L297.7,166.4 L305.5,172.9 L299.0,179.4 L289.9,176.8 L286.0,163.8Z" fill="#1010ff" fill-opacity="0.6"/><path d="M311.9,163.8 L318.4,166.4 L327.5,179.4 L324.9,185.8 L315.8,181.9 L313.2,172.9Z" fill="#1010ff" fill-opacity="0.6"/><path d="M337.9,193.6 L343.1,192.3 L345.7,202.7 L340.5,207.9 L337.9,204.0Z" fill="#1010ff" fill-opacity="0.5"/><path d="M273.0,187.1 L278.2,185.8 L280.8,193.6 L275.6,194.9Z" fill="#1010ff" fill-opacity="0.5"/><path d="M419.7,232.6 L424.9,232.6 L427.5,240.4 L422.3,241.7Z" fill="#1010ff" fill-opacity="0.5"/><path d="M306.8,188.4 L311.9,189.7 L313.2,194.9 L308.1,196.2Z" fill="#1010ff" fill-opacity="0.5"/><path d="M313.2,197.5 L317.1,198.8 L317.1,206.6 L313.2,205.3Z" fill="#1010ff" fill-opacity="0.5"/><path d="M337.9,214.4 L341.8,214.4 L341.8,220.9 L337.9,220.9Z" fill="#1010ff" fill-opacity="0.5"/><path d="M319.7,210.5 L323.6,211.8 L324.9,219.6 L321.0,219.6Z" fill="#1010ff" fill-opacity="0.5"/><path d="M462.6,265.1 L478.2,265.1 L474.3,281.9 L467.8,280.6Z" fill="#1010ff" fill-opacity="0.5"/><path d="M317.1,270.3 L321.0,269.0 L319.7,278.1 L315.8,276.8Z" fill="#1010ff" fill-opacity="0.5"/><path d="M467.8,317.0 L480.8,315.7 L483.4,319.6 L469.1,320.9Z" fill="#1010ff" fill-opacity="0.5"/><path d="M262.6,169.0 L267.8,170.3 L269.1,175.5 L263.9,174.2Z" fill="#1010ff" fill-opacity="0.5"/><path d="M168.0,184.0 L175.0,181.0 L200.0,194.0 L218.0,204.0 L216.0,212.0 L196.0,206.0 L171.0,192.0Z" fill="#1010ff" fill-opacity="0.75"/><path d="M337.9,259.9 L348.3,254.7 L349.6,272.9 L344.4,285.8 L337.9,279.4Z" fill="#ff4a1a" fill-opacity="0.75"/><path d="M358.7,233.9 L363.9,210.5 L369.1,213.1 L366.5,240.4 L361.3,246.9Z" fill="#ff4a1a" fill-opacity="0.75"/><path d="M321.0,259.9 L323.6,236.5 L325.6,237.8 L324.3,259.9Z" fill="#ff4a1a" fill-opacity="0.75"/><path d="M362.6,298.8 L370.4,288.4 L384.7,283.2 L386.0,288.4 L373.0,293.6 L365.2,301.4Z" fill="#ff4a1a"/><path d="M396.4,322.2 L409.4,318.3 L410.6,322.2 L397.7,324.8Z" fill="#ff4a1a"/><path d="M428.8,319.6 L435.3,315.7 L436.6,324.8 L430.1,327.4Z" fill="#ff4a1a"/><path d="M313.2,167.7 L319.7,167.7 L326.2,179.4 L317.1,179.4Z" fill="#ff4a1a" fill-opacity="0.8"/><path d="M280.8,153.4 L296.4,154.7 L293.8,163.8 L286.0,159.9Z" fill="#ff4a1a" fill-opacity="0.6"/><circle cx="163.0" cy="138.0" r="1.8" fill="#ff4a1a"/><circle cx="157.0" cy="149.0" r="1.8" fill="#1010ff"/><circle cx="153.0" cy="165.0" r="1.8" fill="#ff4a1a"/><circle cx="214.5" cy="137.0" r="1.8" fill="#ff4a1a"/><circle cx="242.0" cy="179.0" r="1.8" fill="#ff4a1a"/><circle cx="245.0" cy="142.0" r="1.8" fill="#ff4a1a"/><circle cx="171.0" cy="88.0" r="1.8" fill="#1010ff"/><circle cx="224.0" cy="127.0" r="1.8" fill="#ff4a1a"/></g>
<g stroke="#000" stroke-width="1.25" stroke-dasharray="3.2 5.07"><line x1="33.8" y1="41" x2="33.8" y2="548"/><line x1="112.5" y1="41" x2="112.5" y2="548"/><line x1="191.2" y1="41" x2="191.2" y2="548"/><line x1="270.0" y1="41" x2="270.0" y2="548"/><line x1="348.7" y1="41" x2="348.7" y2="548"/><line x1="427.4" y1="41" x2="427.4" y2="548"/><line x1="13" y1="75.7" x2="486" y2="75.7"/><line x1="13" y1="160.2" x2="486" y2="160.2"/><line x1="13" y1="244.7" x2="486" y2="244.7"/><line x1="13" y1="329.2" x2="486" y2="329.2"/><line x1="13" y1="413.7" x2="486" y2="413.7"/><line x1="13" y1="498.2" x2="486" y2="498.2"/></g><g clip-path="url(#mclip)" fill="none" stroke="#000" stroke-width="1.1" stroke-dasharray="12.5 11.1"><path d="M124.4,41.0 L128.4,43.8 L132.4,46.5 L136.4,49.3 L140.4,52.0 L144.4,54.8 L148.4,57.5 L152.4,60.2 L156.4,62.9 L160.4,65.6 L164.4,68.3 L168.4,71.0 L172.4,73.7 L176.4,76.4 L180.4,79.1 L184.4,81.8 L188.4,84.5 L192.4,87.1 L196.4,89.8 L200.4,92.5 L204.4,95.1 L208.4,97.8 L212.4,100.4 L216.4,103.1 L220.4,105.7 L224.4,108.3 L228.4,111.0 L232.4,113.6 L236.4,116.2 L240.4,118.8 L244.4,121.4 L248.4,124.0 L252.4,126.6 L256.4,129.2 L260.4,131.8 L264.4,134.4 L268.4,137.0 L272.4,139.5 L276.4,142.1 L280.4,144.6 L284.4,147.2 L288.4,149.8 L292.4,152.3 L296.4,154.8 L300.4,157.4 L304.4,159.9 L308.4,162.4 L312.4,164.9 L316.4,167.5 L320.4,170.0 L324.4,172.5 L328.4,175.0 L332.4,177.5 L336.4,180.0 L340.4,182.4 L344.4,184.9 L348.4,187.4 L352.4,189.9 L356.4,192.3 L360.4,194.8 L364.4,197.3 L368.4,199.7 L372.4,202.1 L376.4,204.6 L380.4,207.0 L384.4,209.4 L388.4,211.9 L392.4,214.3 L396.4,216.7 L400.4,219.1 L404.4,221.5 L408.4,223.9 L412.4,226.3 L416.4,228.7 L420.4,231.1 L424.4,233.5 L428.4,235.8 L432.4,238.2 L436.4,240.6 L440.4,242.9 L444.4,245.3 L448.4,247.6 L452.4,250.0 L456.4,252.3 L460.4,254.6 L464.4,257.0 L468.4,259.3 L472.4,261.6 L476.4,263.9 L480.4,266.2 L484.4,268.5"/><path d="M13.0,76.7 L17.0,79.5 L21.0,82.3 L25.0,85.1 L29.0,87.9 L33.0,90.7 L37.0,93.5 L41.0,96.3 L45.0,99.1 L49.0,101.9 L53.0,104.7 L57.0,107.4 L61.0,110.2 L65.0,113.0 L69.0,115.7 L73.0,118.5 L77.0,121.2 L81.0,124.0 L85.0,126.7 L89.0,129.5 L93.0,132.2 L97.0,134.9 L101.0,137.7 L105.0,140.4 L109.0,143.1 L113.0,145.8 L117.0,148.5 L121.0,151.2 L125.0,153.9 L129.0,156.6 L133.0,159.3 L137.0,162.0 L141.0,164.6 L145.0,167.3 L149.0,170.0 L153.0,172.6 L157.0,175.3 L161.0,178.0 L165.0,180.6 L169.0,183.3 L173.0,185.9 L177.0,188.5 L181.0,191.2 L185.0,193.8 L189.0,196.4 L193.0,199.0 L197.0,201.6 L201.0,204.3 L205.0,206.9 L209.0,209.5 L213.0,212.1 L217.0,214.6 L221.0,217.2 L225.0,219.8 L229.0,222.4 L233.0,225.0 L237.0,227.5 L241.0,230.1 L245.0,232.6 L249.0,235.2 L253.0,237.7 L257.0,240.3 L261.0,242.8 L265.0,245.4 L269.0,247.9 L273.0,250.4 L277.0,252.9 L281.0,255.5 L285.0,258.0 L289.0,260.5 L293.0,263.0 L297.0,265.5 L301.0,268.0 L305.0,270.5 L309.0,272.9 L313.0,275.4 L317.0,277.9 L321.0,280.4 L325.0,282.8 L329.0,285.3 L333.0,287.8 L337.0,290.2 L341.0,292.6 L345.0,295.1 L349.0,297.5 L353.0,300.0 L357.0,302.4 L361.0,304.8 L365.0,307.2 L369.0,309.7 L373.0,312.1 L377.0,314.5 L381.0,316.9 L385.0,319.3 L389.0,321.7 L393.0,324.0 L397.0,326.4 L401.0,328.8 L405.0,331.2 L409.0,333.5 L413.0,335.9 L417.0,338.3 L421.0,340.6 L425.0,343.0 L429.0,345.3 L433.0,347.7 L437.0,350.0 L441.0,352.3 L445.0,354.7 L449.0,357.0 L453.0,359.3 L457.0,361.6 L461.0,363.9 L465.0,366.2 L469.0,368.5 L473.0,370.8 L477.0,373.1 L481.0,375.4 L485.0,377.7"/></g><path d="M13.0,97.3 L16.8,103.5 L22.1,108.8 L24.5,113.1 L25.0,116.5 L27.8,113.1 L30.7,113.1 L31.2,116.0 L29.3,119.4 L30.7,125.1 L36.0,134.7 L39.4,145.3 L37.4,151.0 L37.0,158.7 L33.6,166.4 L34.6,171.2 L39.4,176.0 L42.2,180.8 L47.0,183.2 L45.1,190.4 L44.6,198.1 L49.9,203.8 L58.6,209.6 L67.2,214.4 L69.1,215.3 L72.0,214.4 L73.9,211.0 L75.8,213.4 L78.2,219.2 L84.5,220.6 L89.3,218.2 L89.7,215.8 L95.0,226.9 L96.9,233.6 L99.8,237.4 L103.2,237.4 L104.1,233.1 L108.5,239.3 L112.3,242.2 L116.1,240.3 L122.4,244.1 L122.7,243.6 L123.6,248.6 L129.5,252.9 L129.9,248.2 L133.3,248.2 L135.4,250.3 L137.1,252.4 L138.8,254.6 L140.5,255.4 L143.5,255.4 L144.7,257.1 L146.0,261.8 L148.5,265.6 L148.5,267.3 L143.9,264.7 L140.1,263.9 L140.1,266.4 L138.4,269.4 L142.2,275.7 L145.6,278.3 L145.6,282.1 L146.8,280.4 L153.2,282.9 L154.0,285.1 L160.0,288.9 L161.2,291.0 L160.0,293.5 L160.0,297.8 L162.9,299.5 L164.6,304.5 L163.8,309.2 L168.4,310.5 L171.0,310.5 L169.7,312.6 L170.6,318.9 L169.3,321.5 L171.4,328.2 L173.1,335.9 L178.6,345.2 L179.5,348.6 L179.0,349.4 L181.1,349.0 L183.7,346.5 L186.2,348.6 L190.5,354.5 L191.7,356.2 L192.2,353.2 L190.9,348.6 L188.8,344.3 L188.3,340.1 L190.0,336.7 L193.8,336.3 L199.8,346.0 L204.9,348.6 L213.8,354.1 L212.5,348.6 L212.9,344.8 L215.9,343.9 L218.0,346.5 L220.1,351.1 L222.2,352.8 L222.2,355.3 L223.5,361.3 L221.0,368.9 L221.0,374.0 L222.6,380.0 L221.3,375.1 L221.8,378.5 L224.3,383.1 L222.6,386.1 L223.9,389.5 L224.7,394.6 L228.5,395.0 L233.2,397.9 L236.2,403.0 L239.1,406.4 L244.2,409.4 L246.7,412.3 L252.7,415.7 L256.1,416.2 L257.8,414.9 L262.8,420.0 L265.8,420.8 L269.2,426.7 L270.5,432.7 L275.5,440.3 L281.5,444.1 L287.4,446.6 L289.1,449.6 L289.9,456.4 L295.0,464.0 L298.4,467.0 L304.3,468.7 L306.5,472.5 L304.8,475.0 L307.3,476.7 L305.6,481.0 L306.0,486.9 L308.6,490.3 L309.3,490.0 L310.7,492.7 L310.9,496.3 L311.1,493.6 L312.5,492.5 L316.3,498.1 L315.2,501.7 L313.8,504.9 L312.9,508.1 L312.2,511.7 L314.5,515.1 L314.3,518.9 L313.4,521.6 L314.0,527.5 L315.4,528.8 L315.8,537.9 L317.0,541.5 L316.5,545.1 L312.5,545.3 L311.3,548.3" fill="none" stroke="#000" stroke-width="1.2" stroke-linejoin="round"/><g font-size="12.5"><text x="250" y="75.2" text-anchor="middle" textLength="18" lengthAdjust="spacingAndGlyphs">-16</text><text x="250" y="159.7" text-anchor="middle" textLength="18" lengthAdjust="spacingAndGlyphs">-18</text><text x="250" y="244.2" text-anchor="middle" textLength="18" lengthAdjust="spacingAndGlyphs">-20</text><text x="250" y="328.7" text-anchor="middle" textLength="18" lengthAdjust="spacingAndGlyphs">-22</text><text x="250" y="413.2" text-anchor="middle" textLength="18" lengthAdjust="spacingAndGlyphs">-24</text><text x="250" y="497.7" text-anchor="middle" textLength="18" lengthAdjust="spacingAndGlyphs">-26</text><text x="33.8" y="308" text-anchor="middle" textLength="19" lengthAdjust="spacingAndGlyphs">146</text><text x="112.5" y="308" text-anchor="middle" textLength="19" lengthAdjust="spacingAndGlyphs">148</text><text x="191.2" y="308" text-anchor="middle" textLength="19" lengthAdjust="spacingAndGlyphs">150</text><text x="270.0" y="308" text-anchor="middle" textLength="19" lengthAdjust="spacingAndGlyphs">152</text><text x="348.7" y="308" text-anchor="middle" textLength="19" lengthAdjust="spacingAndGlyphs">154</text><text x="427.4" y="308" text-anchor="middle" textLength="19" lengthAdjust="spacingAndGlyphs">156</text></g>
<path d="M243,292 h13 v5 h-13z M247.2,288 h4.7 v13 h-4.7z" fill="#000"/>
<text x="37.5" y="66" font-size="26" textLength="172.5" lengthAdjust="spacingAndGlyphs">2A23 rain types</text>
<text x="439.6" y="522.5" font-size="29" textLength="33.8" lengthAdjust="spacingAndGlyphs">(h)</text>
<rect x="495.5" y="41.2" width="8.5" height="169.4" fill="#ff4a10" stroke="#333" stroke-width="0.6"/><rect x="495.5" y="210.6" width="8.5" height="168.7" fill="#0a0aff" stroke="#333" stroke-width="0.6"/><rect x="495.5" y="379.3" width="8.5" height="168.5" fill="#fff" stroke="#333" stroke-width="0.8"/><rect x="504" y="40.7" width="3" height="1" fill="#000"/><rect x="504" y="210.1" width="3" height="1" fill="#000"/><rect x="504" y="378.8" width="3" height="1" fill="#000"/><text x="507.5" y="49.8" font-size="19.5">Conv</text><text x="507.5" y="217.3" font-size="19.5">Strat</text><text x="507.5" y="387.9" font-size="19.5">N/A</text>
</g>
<g transform="translate(1180.67,1180.67)">
<g clip-path="url(#mclip)"><path d="M358.7,263.8 L363.9,265.1 L367.8,272.9 L376.9,271.6 L383.4,267.7 L389.9,263.8 L396.4,262.5 L400.3,269.0 L409.4,272.9 L411.9,285.8 L417.1,293.6 L419.7,300.1 L413.2,306.6 L402.9,310.5 L395.1,311.8 L389.9,314.4 L383.4,309.2 L379.5,304.0 L373.0,300.1 L363.9,298.8 L362.6,291.0 L358.7,285.8 L360.0,272.9Z" fill="#9cc090" fill-opacity="0.9"/><path d="M374.3,275.5 L389.9,267.7 L402.9,275.5 L415.8,293.6 L409.4,306.6 L389.9,309.2 L380.8,302.7 L376.9,292.3Z" fill="#5a8cf0"/><path d="M384.7,285.8 L400.3,280.6 L405.5,293.6 L395.1,301.4 L386.0,297.5Z" fill="#2a4ef0"/><path d="M389.9,320.9 L409.4,314.4 L426.2,309.2 L441.8,306.6 L461.3,305.3 L470.4,297.5 L486.0,294.9 L486.0,302.7 L474.3,309.2 L454.8,317.0 L441.8,324.8 L423.6,327.4 L409.4,332.6 L396.4,327.4Z" fill="#a0c4b8" fill-opacity="0.85"/><path d="M409.4,318.3 L428.8,310.5 L444.4,309.2 L435.3,319.6 L415.8,324.8Z" fill="#98b8f0"/><path d="M331.4,266.4 L335.3,253.4 L343.1,250.8 L350.9,246.9 L358.7,249.5 L361.3,259.9 L356.1,270.3 L353.5,285.8 L354.8,298.8 L363.9,305.3 L361.3,309.2 L350.9,302.7 L340.5,293.6 L335.3,289.7 L332.7,279.4Z" fill="#98c098" fill-opacity="0.8"/><path d="M353.5,233.9 L358.7,223.5 L361.3,207.9 L365.2,201.4 L371.7,202.7 L373.0,214.4 L369.1,223.5 L373.0,233.9 L376.9,240.4 L366.5,246.9 L362.6,257.3 L358.7,259.9 L356.1,254.7 L360.0,244.3 L354.8,240.4Z" fill="#98b8a8" fill-opacity="0.6"/><path d="M375.6,246.9 L383.4,240.4 L395.1,233.9 L402.9,223.5 L408.1,226.1 L405.5,233.9 L396.4,241.7 L384.7,246.9 L379.5,250.8Z" fill="#a8b0a8" fill-opacity="0.45"/><path d="M318.4,263.8 L321.0,246.9 L322.3,231.3 L314.5,220.9 L317.1,218.3 L326.2,223.5 L328.8,233.9 L327.5,253.4 L323.6,266.4Z" fill="#a8b0a8" fill-opacity="0.45"/><path d="M279.5,152.1 L295.1,152.1 L297.7,166.4 L305.5,172.9 L299.0,179.4 L289.9,176.8 L286.0,163.8Z" fill="#a8b0a8" fill-opacity="0.45"/><path d="M311.9,163.8 L318.4,166.4 L327.5,179.4 L324.9,185.8 L315.8,181.9 L313.2,172.9Z" fill="#a8b0a8" fill-opacity="0.45"/><path d="M337.9,193.6 L343.1,192.3 L345.7,202.7 L340.5,207.9 L337.9,204.0Z" fill="#a8b8a8" fill-opacity="0.35"/><path d="M273.0,187.1 L278.2,185.8 L280.8,193.6 L275.6,194.9Z" fill="#a8b8a8" fill-opacity="0.35"/><path d="M419.7,232.6 L424.9,232.6 L427.5,240.4 L422.3,241.7Z" fill="#a8b8a8" fill-opacity="0.35"/><path d="M306.8,188.4 L311.9,189.7 L313.2,194.9 L308.1,196.2Z" fill="#a8b8a8" fill-opacity="0.35"/><path d="M313.2,197.5 L317.1,198.8 L317.1,206.6 L313.2,205.3Z" fill="#a8b8a8" fill-opacity="0.35"/><path d="M337.9,214.4 L341.8,214.4 L341.8,220.9 L337.9,220.9Z" fill="#a8b8a8" fill-opacity="0.35"/><path d="M319.7,210.5 L323.6,211.8 L324.9,219.6 L321.0,219.6Z" fill="#a8b8a8" fill-opacity="0.35"/><path d="M462.6,265.1 L478.2,265.1 L474.3,281.9 L467.8,280.6Z" fill="#a8b8a8" fill-opacity="0.35"/><path d="M317.1,270.3 L321.0,269.0 L319.7,278.1 L315.8,276.8Z" fill="#a8b8a8" fill-opacity="0.35"/><path d="M467.8,317.0 L480.8,315.7 L483.4,319.6 L469.1,320.9Z" fill="#a8b8a8" fill-opacity="0.35"/><path d="M262.6,169.0 L267.8,170.3 L269.1,175.5 L263.9,174.2Z" fill="#a8b8a8" fill-opacity="0.35"/><path d="M168.0,184.0 L175.0,181.0 L200.0,194.0 L218.0,204.0 L216.0,212.0 L196.0,206.0 L171.0,192.0Z" fill="#98c098" fill-opacity="0.45"/><circle cx="163.0" cy="138.0" r="1.6" fill="#b0b0b0"/><circle cx="157.0" cy="149.0" r="1.6" fill="#b0b0b0"/><circle cx="153.0" cy="165.0" r="1.6" fill="#b0b0b0"/><circle cx="214.5" cy="137.0" r="1.6" fill="#b0b0b0"/><circle cx="242.0" cy="179.0" r="1.6" fill="#b0b0b0"/><circle cx="245.0" cy="142.0" r="1.6" fill="#b0b0b0"/><circle cx="171.0" cy="88.0" r="1.6" fill="#b0b0b0"/><circle cx="224.0" cy="127.0" r="1.6" fill="#b0b0b0"/></g>
<g stroke="#000" stroke-width="1.25" stroke-dasharray="3.2 5.07"><line x1="33.8" y1="41" x2="33.8" y2="548"/><line x1="112.5" y1="41" x2="112.5" y2="548"/><line x1="191.2" y1="41" x2="191.2" y2="548"/><line x1="270.0" y1="41" x2="270.0" y2="548"/><line x1="348.7" y1="41" x2="348.7" y2="548"/><line x1="427.4" y1="41" x2="427.4" y2="548"/><line x1="13" y1="75.7" x2="486" y2="75.7"/><line x1="13" y1="160.2" x2="486" y2="160.2"/><line x1="13" y1="244.7" x2="486" y2="244.7"/><line x1="13" y1="329.2" x2="486" y2="329.2"/><line x1="13" y1="413.7" x2="486" y2="413.7"/><line x1="13" y1="498.2" x2="486" y2="498.2"/></g><g clip-path="url(#mclip)" fill="none" stroke="#000" stroke-width="1.1" stroke-dasharray="12.5 11.1"><path d="M124.4,41.0 L128.4,43.8 L132.4,46.5 L136.4,49.3 L140.4,52.0 L144.4,54.8 L148.4,57.5 L152.4,60.2 L156.4,62.9 L160.4,65.6 L164.4,68.3 L168.4,71.0 L172.4,73.7 L176.4,76.4 L180.4,79.1 L184.4,81.8 L188.4,84.5 L192.4,87.1 L196.4,89.8 L200.4,92.5 L204.4,95.1 L208.4,97.8 L212.4,100.4 L216.4,103.1 L220.4,105.7 L224.4,108.3 L228.4,111.0 L232.4,113.6 L236.4,116.2 L240.4,118.8 L244.4,121.4 L248.4,124.0 L252.4,126.6 L256.4,129.2 L260.4,131.8 L264.4,134.4 L268.4,137.0 L272.4,139.5 L276.4,142.1 L280.4,144.6 L284.4,147.2 L288.4,149.8 L292.4,152.3 L296.4,154.8 L300.4,157.4 L304.4,159.9 L308.4,162.4 L312.4,164.9 L316.4,167.5 L320.4,170.0 L324.4,172.5 L328.4,175.0 L332.4,177.5 L336.4,180.0 L340.4,182.4 L344.4,184.9 L348.4,187.4 L352.4,189.9 L356.4,192.3 L360.4,194.8 L364.4,197.3 L368.4,199.7 L372.4,202.1 L376.4,204.6 L380.4,207.0 L384.4,209.4 L388.4,211.9 L392.4,214.3 L396.4,216.7 L400.4,219.1 L404.4,221.5 L408.4,223.9 L412.4,226.3 L416.4,228.7 L420.4,231.1 L424.4,233.5 L428.4,235.8 L432.4,238.2 L436.4,240.6 L440.4,242.9 L444.4,245.3 L448.4,247.6 L452.4,250.0 L456.4,252.3 L460.4,254.6 L464.4,257.0 L468.4,259.3 L472.4,261.6 L476.4,263.9 L480.4,266.2 L484.4,268.5"/><path d="M13.0,76.7 L17.0,79.5 L21.0,82.3 L25.0,85.1 L29.0,87.9 L33.0,90.7 L37.0,93.5 L41.0,96.3 L45.0,99.1 L49.0,101.9 L53.0,104.7 L57.0,107.4 L61.0,110.2 L65.0,113.0 L69.0,115.7 L73.0,118.5 L77.0,121.2 L81.0,124.0 L85.0,126.7 L89.0,129.5 L93.0,132.2 L97.0,134.9 L101.0,137.7 L105.0,140.4 L109.0,143.1 L113.0,145.8 L117.0,148.5 L121.0,151.2 L125.0,153.9 L129.0,156.6 L133.0,159.3 L137.0,162.0 L141.0,164.6 L145.0,167.3 L149.0,170.0 L153.0,172.6 L157.0,175.3 L161.0,178.0 L165.0,180.6 L169.0,183.3 L173.0,185.9 L177.0,188.5 L181.0,191.2 L185.0,193.8 L189.0,196.4 L193.0,199.0 L197.0,201.6 L201.0,204.3 L205.0,206.9 L209.0,209.5 L213.0,212.1 L217.0,214.6 L221.0,217.2 L225.0,219.8 L229.0,222.4 L233.0,225.0 L237.0,227.5 L241.0,230.1 L245.0,232.6 L249.0,235.2 L253.0,237.7 L257.0,240.3 L261.0,242.8 L265.0,245.4 L269.0,247.9 L273.0,250.4 L277.0,252.9 L281.0,255.5 L285.0,258.0 L289.0,260.5 L293.0,263.0 L297.0,265.5 L301.0,268.0 L305.0,270.5 L309.0,272.9 L313.0,275.4 L317.0,277.9 L321.0,280.4 L325.0,282.8 L329.0,285.3 L333.0,287.8 L337.0,290.2 L341.0,292.6 L345.0,295.1 L349.0,297.5 L353.0,300.0 L357.0,302.4 L361.0,304.8 L365.0,307.2 L369.0,309.7 L373.0,312.1 L377.0,314.5 L381.0,316.9 L385.0,319.3 L389.0,321.7 L393.0,324.0 L397.0,326.4 L401.0,328.8 L405.0,331.2 L409.0,333.5 L413.0,335.9 L417.0,338.3 L421.0,340.6 L425.0,343.0 L429.0,345.3 L433.0,347.7 L437.0,350.0 L441.0,352.3 L445.0,354.7 L449.0,357.0 L453.0,359.3 L457.0,361.6 L461.0,363.9 L465.0,366.2 L469.0,368.5 L473.0,370.8 L477.0,373.1 L481.0,375.4 L485.0,377.7"/></g><path d="M13.0,97.3 L16.8,103.5 L22.1,108.8 L24.5,113.1 L25.0,116.5 L27.8,113.1 L30.7,113.1 L31.2,116.0 L29.3,119.4 L30.7,125.1 L36.0,134.7 L39.4,145.3 L37.4,151.0 L37.0,158.7 L33.6,166.4 L34.6,171.2 L39.4,176.0 L42.2,180.8 L47.0,183.2 L45.1,190.4 L44.6,198.1 L49.9,203.8 L58.6,209.6 L67.2,214.4 L69.1,215.3 L72.0,214.4 L73.9,211.0 L75.8,213.4 L78.2,219.2 L84.5,220.6 L89.3,218.2 L89.7,215.8 L95.0,226.9 L96.9,233.6 L99.8,237.4 L103.2,237.4 L104.1,233.1 L108.5,239.3 L112.3,242.2 L116.1,240.3 L122.4,244.1 L122.7,243.6 L123.6,248.6 L129.5,252.9 L129.9,248.2 L133.3,248.2 L135.4,250.3 L137.1,252.4 L138.8,254.6 L140.5,255.4 L143.5,255.4 L144.7,257.1 L146.0,261.8 L148.5,265.6 L148.5,267.3 L143.9,264.7 L140.1,263.9 L140.1,266.4 L138.4,269.4 L142.2,275.7 L145.6,278.3 L145.6,282.1 L146.8,280.4 L153.2,282.9 L154.0,285.1 L160.0,288.9 L161.2,291.0 L160.0,293.5 L160.0,297.8 L162.9,299.5 L164.6,304.5 L163.8,309.2 L168.4,310.5 L171.0,310.5 L169.7,312.6 L170.6,318.9 L169.3,321.5 L171.4,328.2 L173.1,335.9 L178.6,345.2 L179.5,348.6 L179.0,349.4 L181.1,349.0 L183.7,346.5 L186.2,348.6 L190.5,354.5 L191.7,356.2 L192.2,353.2 L190.9,348.6 L188.8,344.3 L188.3,340.1 L190.0,336.7 L193.8,336.3 L199.8,346.0 L204.9,348.6 L213.8,354.1 L212.5,348.6 L212.9,344.8 L215.9,343.9 L218.0,346.5 L220.1,351.1 L222.2,352.8 L222.2,355.3 L223.5,361.3 L221.0,368.9 L221.0,374.0 L222.6,380.0 L221.3,375.1 L221.8,378.5 L224.3,383.1 L222.6,386.1 L223.9,389.5 L224.7,394.6 L228.5,395.0 L233.2,397.9 L236.2,403.0 L239.1,406.4 L244.2,409.4 L246.7,412.3 L252.7,415.7 L256.1,416.2 L257.8,414.9 L262.8,420.0 L265.8,420.8 L269.2,426.7 L270.5,432.7 L275.5,440.3 L281.5,444.1 L287.4,446.6 L289.1,449.6 L289.9,456.4 L295.0,464.0 L298.4,467.0 L304.3,468.7 L306.5,472.5 L304.8,475.0 L307.3,476.7 L305.6,481.0 L306.0,486.9 L308.6,490.3 L309.3,490.0 L310.7,492.7 L310.9,496.3 L311.1,493.6 L312.5,492.5 L316.3,498.1 L315.2,501.7 L313.8,504.9 L312.9,508.1 L312.2,511.7 L314.5,515.1 L314.3,518.9 L313.4,521.6 L314.0,527.5 L315.4,528.8 L315.8,537.9 L317.0,541.5 L316.5,545.1 L312.5,545.3 L311.3,548.3" fill="none" stroke="#000" stroke-width="1.2" stroke-linejoin="round"/><g font-size="12.5"><text x="250" y="75.2" text-anchor="middle" textLength="18" lengthAdjust="spacingAndGlyphs">-16</text><text x="250" y="159.7" text-anchor="middle" textLength="18" lengthAdjust="spacingAndGlyphs">-18</text><text x="250" y="244.2" text-anchor="middle" textLength="18" lengthAdjust="spacingAndGlyphs">-20</text><text x="250" y="328.7" text-anchor="middle" textLength="18" lengthAdjust="spacingAndGlyphs">-22</text><text x="250" y="413.2" text-anchor="middle" textLength="18" lengthAdjust="spacingAndGlyphs">-24</text><text x="250" y="497.7" text-anchor="middle" textLength="18" lengthAdjust="spacingAndGlyphs">-26</text><text x="33.8" y="308" text-anchor="middle" textLength="19" lengthAdjust="spacingAndGlyphs">146</text><text x="112.5" y="308" text-anchor="middle" textLength="19" lengthAdjust="spacingAndGlyphs">148</text><text x="191.2" y="308" text-anchor="middle" textLength="19" lengthAdjust="spacingAndGlyphs">150</text><text x="270.0" y="308" text-anchor="middle" textLength="19" lengthAdjust="spacingAndGlyphs">152</text><text x="348.7" y="308" text-anchor="middle" textLength="19" lengthAdjust="spacingAndGlyphs">154</text><text x="427.4" y="308" text-anchor="middle" textLength="19" lengthAdjust="spacingAndGlyphs">156</text></g>
<path d="M243,292 h13 v5 h-13z M247.2,288 h4.7 v13 h-4.7z" fill="#000"/>
<text x="37.5" y="66" font-size="26" textLength="258.0" lengthAdjust="spacingAndGlyphs">2A23 storm height (km)</text>
<text x="439.6" y="522.5" font-size="29" textLength="24.6" lengthAdjust="spacingAndGlyphs">(i)</text>
<rect x="495" y="531.05" width="9" height="8.75" fill="#f8f8f8"/>
<rect x="495" y="522.60" width="9" height="8.75" fill="#f0f0f0"/>
<rect x="495" y="514.15" width="9" height="8.75" fill="#e8e8e8"/>
<rect x="495" y="505.70" width="9" height="8.75" fill="#e0e0e0"/>
<rect x="495" y="497.25" width="9" height="8.75" fill="#d8d8d8"/>
<rect x="495" y="488.80" width="9" height="8.75" fill="#d0d0d0"/>
<rect x="495" y="480.35" width="9" height="8.75" fill="#c8c8c8"/>
<rect x="495" y="471.90" width="9" height="8.75" fill="#bfbfbf"/>
<rect x="495" y="463.45" width="9" height="8.75" fill="#b7b7b7"/>
<rect x="495" y="455.00" width="9" height="8.75" fill="#afafaf"/>
<rect x="495" y="446.55" width="9" height="8.75" fill="#a7a7a7"/>
<rect x="495" y="438.10" width="9" height="8.75" fill="#9f9f9f"/>
<rect x="495" y="429.65" width="9" height="8.75" fill="#979797"/>
<rect x="495" y="421.20" width="9" height="8.75" fill="#8f8f8f"/>
<rect x="495" y="412.75" width="9" height="8.75" fill="#80e080"/>
<rect x="495" y="404.30" width="9" height="8.75" fill="#7ad47a"/>
<rect x="495" y="395.85" width="9" height="8.75" fill="#73c873"/>
<rect x="495" y="387.40" width="9" height="8.75" fill="#6cbc6c"/>
<rect x="495" y="378.95" width="9" height="8.75" fill="#66b066"/>
<rect x="495" y="370.50" width="9" height="8.75" fill="#ccd5ff"/>
<rect x="495" y="362.05" width="9" height="8.75" fill="#b9cfff"/>
<rect x="495" y="353.60" width="9" height="8.75" fill="#a6c8ff"/>
<rect x="495" y="345.15" width="9" height="8.75" fill="#93c2ff"/>
<rect x="495" y="336.70" width="9" height="8.75" fill="#80bcff"/>
<rect x="495" y="328.25" width="9" height="8.75" fill="#5cb0ff"/>
<rect x="495" y="319.80" width="9" height="8.75" fill="#5194ff"/>
<rect x="495" y="311.35" width="9" height="8.75" fill="#4678ff"/>
<rect x="495" y="302.90" width="9" height="8.75" fill="#3b5cff"/>
<rect x="495" y="294.45" width="9" height="8.75" fill="#3040ff"/>
<rect x="495" y="286.00" width="9" height="8.75" fill="#0000ff"/>
<rect x="495" y="277.55" width="9" height="8.75" fill="#0000ec"/>
<rect x="495" y="269.10" width="9" height="8.75" fill="#0000d9"/>
<rect x="495" y="260.65" width="9" height="8.75" fill="#0000c6"/>
<rect x="495" y="252.20" width="9" height="8.75" fill="#0000b3"/>
<rect x="495" y="243.75" width="9" height="8.75" fill="#ffff00"/>
<rect x="495" y="235.30" width="9" height="8.75" fill="#fff200"/>
<rect x="495" y="226.85" width="9" height="8.75" fill="#ffe600"/>
<rect x="495" y="218.40" width="9" height="8.75" fill="#ffd900"/>
<rect x="495" y="209.95" width="9" height="8.75" fill="#ffcc00"/>
<rect x="495" y="201.50" width="9" height="8.75" fill="#ff8c00"/>
<rect x="495" y="193.05" width="9" height="8.75" fill="#ff8200"/>
<rect x="495" y="184.60" width="9" height="8.75" fill="#ff7900"/>
<rect x="495" y="176.15" width="9" height="8.75" fill="#ff7000"/>
<rect x="495" y="167.70" width="9" height="8.75" fill="#ff6600"/>
<rect x="495" y="159.25" width="9" height="8.75" fill="#ff4400"/>
<rect x="495" y="150.80" width="9" height="8.75" fill="#ff3a00"/>
<rect x="495" y="142.35" width="9" height="8.75" fill="#ff2f00"/>
<rect x="495" y="133.90" width="9" height="8.75" fill="#ff2400"/>
<rect x="495" y="125.45" width="9" height="8.75" fill="#ff1a00"/>
<rect x="495" y="117.00" width="9" height="8.75" fill="#c80000"/>
<rect x="495" y="108.55" width="9" height="8.75" fill="#be0000"/>
<rect x="495" y="100.10" width="9" height="8.75" fill="#b40000"/>
<rect x="495" y="91.65" width="9" height="8.75" fill="#aa0000"/>
<rect x="495" y="83.20" width="9" height="8.75" fill="#a00000"/>
<rect x="495" y="74.75" width="9" height="8.75" fill="#661010"/>
<rect x="495" y="66.30" width="9" height="8.75" fill="#621212"/>
<rect x="495" y="57.85" width="9" height="8.75" fill="#5e1414"/>
<rect x="495" y="49.40" width="9" height="8.75" fill="#591616"/>
<rect x="495" y="40.95" width="9" height="8.75" fill="#551818"/>
<rect x="504" y="547.40" width="2.5" height="1.2" fill="#000"/>
<text x="532.8" y="556.60" text-anchor="middle" font-size="20">0.0</text>
<rect x="504" y="496.65" width="2.5" height="1.2" fill="#000"/>
<text x="532.8" y="505.85" text-anchor="middle" font-size="20">2.0</text>
<rect x="504" y="445.90" width="2.5" height="1.2" fill="#000"/>
<text x="532.8" y="455.10" text-anchor="middle" font-size="20">4.0</text>
<rect x="504" y="395.16" width="2.5" height="1.2" fill="#000"/>
<text x="532.8" y="404.36" text-anchor="middle" font-size="20">6.0</text>
<rect x="504" y="344.41" width="2.5" height="1.2" fill="#000"/>
<text x="532.8" y="353.61" text-anchor="middle" font-size="20">8.0</text>
<rect x="504" y="293.66" width="2.5" height="1.2" fill="#000"/>
<text x="532.8" y="302.86" text-anchor="middle" font-size="20">10.0</text>
<rect x="504" y="242.91" width="2.5" height="1.2" fill="#000"/>
<text x="532.8" y="252.11" text-anchor="middle" font-size="20">12.0</text>
<rect x="504" y="192.16" width="2.5" height="1.2" fill="#000"/>
<text x="532.8" y="201.36" text-anchor="middle" font-size="20">14.0</text>
<rect x="504" y="141.42" width="2.5" height="1.2" fill="#000"/>
<text x="532.8" y="150.62" text-anchor="middle" font-size="20">16.0</text>
<rect x="504" y="90.67" width="2.5" height="1.2" fill="#000"/>
<text x="532.8" y="99.87" text-anchor="middle" font-size="20">18.0</text>
</g>
</svg></body></html>
